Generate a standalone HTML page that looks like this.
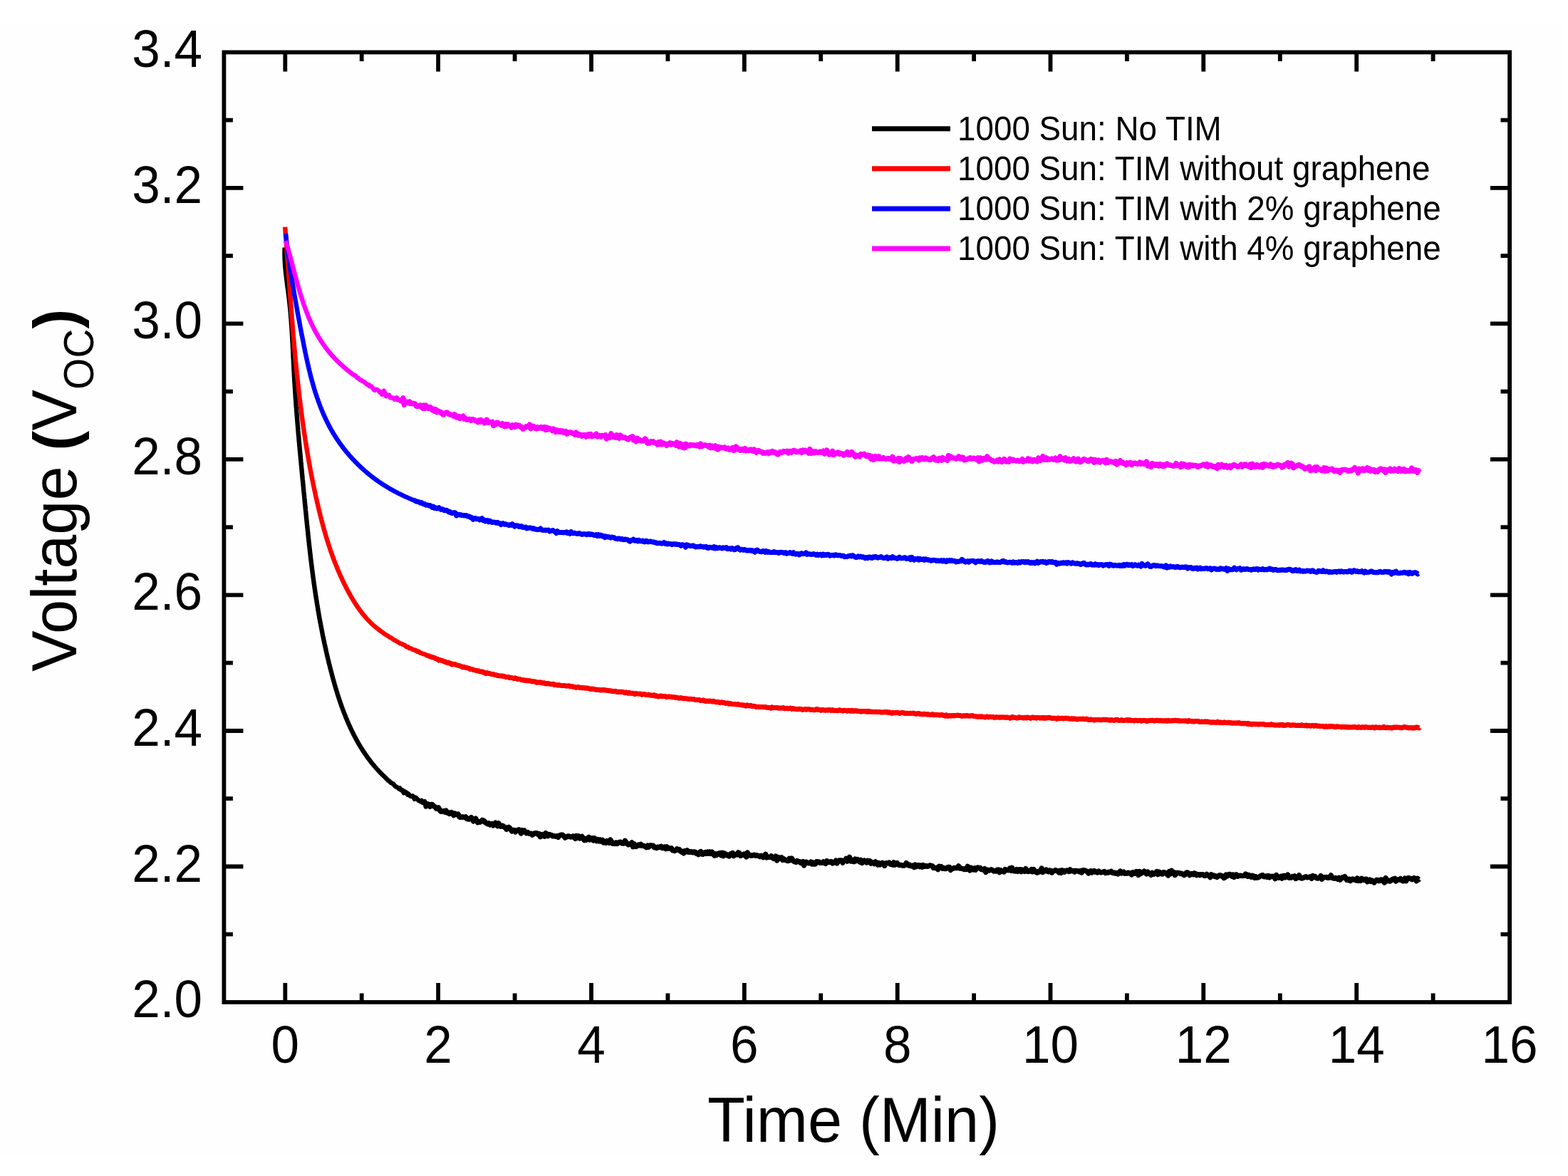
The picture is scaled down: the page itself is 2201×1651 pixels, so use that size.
<!DOCTYPE html>
<html><head><meta charset="utf-8"><style>
html,body{margin:0;padding:0;background:#fff;}
svg{display:block;}
text{font-family:"Liberation Sans",Arial,sans-serif;fill:#000;}
.yl{font-size:71px;text-anchor:end;}
.xl{font-size:71px;text-anchor:middle;}
.leg{font-size:45.8px;}
.tt{font-size:86.5px;}
</style></head><body>
<svg width="2201" height="1651" viewBox="0 0 2201 1651">
<rect width="2201" height="1651" fill="#fff"/>
<rect x="0" y="33" width="2197" height="1591" fill="#fefefe"/>
<g fill="none" stroke-linejoin="round" stroke-linecap="butt" stroke-width="6.4">
<path d="M399.6,347.5 L399.6,349.1 L399.5,350.7 L399.5,352.3 L399.5,353.9 L399.5,355.5 L399.5,357.1 L399.5,358.7 L399.5,360.3 L399.6,361.9 L399.6,363.5 L399.7,365.1 L399.8,366.7 L399.9,368.3 L400.0,369.9 L400.1,371.5 L400.2,373.1 L400.3,374.7 L400.5,376.2 L400.6,377.8 L400.8,379.4 L400.9,381.0 L401.1,382.6 L401.3,384.2 L401.5,385.8 L401.6,387.4 L401.8,389.0 L402.0,390.6 L402.2,392.2 L402.4,393.7 L402.6,395.3 L402.8,396.9 L403.0,398.5 L403.2,400.1 L403.4,401.7 L403.6,403.3 L403.9,404.8 L404.1,406.4 L404.3,408.0 L404.5,409.6 L404.7,411.2 L404.9,412.8 L405.1,414.4 L405.3,416.0 L405.5,417.5 L405.7,419.1 L405.9,420.7 L406.0,422.3 L406.2,423.9 L406.4,425.5 L406.6,427.1 L406.7,428.7 L406.9,430.3 L407.1,431.9 L407.2,433.5 L407.4,435.0 L407.5,436.6 L407.7,438.2 L407.8,439.8 L407.9,441.4 L408.1,443.0 L408.2,444.6 L408.3,446.2 L408.5,447.8 L408.6,449.4 L408.7,451.0 L408.8,452.6 L408.9,454.2 L409.0,455.8 L409.2,457.4 L409.3,459.0 L409.4,460.6 L409.5,462.2 L409.6,463.8 L409.7,465.4 L409.8,467.0 L409.9,468.5 L410.0,470.1 L410.1,471.7 L410.2,473.3 L410.2,474.9 L410.3,476.5 L410.4,478.1 L410.5,479.7 L410.6,481.3 L410.7,482.9 L410.8,484.5 L410.8,486.1 L410.9,487.7 L411.0,489.3 L411.1,490.9 L411.2,492.5 L411.2,494.1 L411.3,495.7 L411.4,497.3 L411.5,498.9 L411.5,500.5 L411.6,502.1 L411.7,503.7 L411.8,505.3 L411.9,506.9 L411.9,508.5 L412.0,510.1 L412.1,511.7 L412.2,513.3 L412.3,514.9 L412.3,516.5 L412.4,518.1 L412.5,519.7 L412.6,521.3 L412.7,522.9 L412.8,524.5 L412.8,526.1 L412.9,527.7 L413.0,529.3 L413.1,530.9 L413.2,532.5 L413.3,534.1 L413.4,535.7 L413.5,537.3 L413.6,538.8 L413.7,540.4 L413.8,542.0 L413.9,543.6 L414.0,545.2 L414.1,546.8 L414.2,548.4 L414.3,550.0 L414.4,551.6 L414.5,553.2 L414.6,554.8 L414.7,556.4 L414.8,558.0 L414.9,559.6 L415.1,561.2 L415.2,562.8 L415.3,564.4 L415.4,566.0 L415.5,567.6 L415.6,569.2 L415.7,570.8 L415.9,572.4 L416.0,574.0 L416.1,575.6 L416.2,577.2 L416.4,578.8 L416.5,580.3 L416.6,581.9 L416.7,583.5 L416.9,585.1 L417.0,586.7 L417.1,588.3 L417.2,589.9 L417.4,591.5 L417.5,593.1 L417.6,594.7 L417.8,596.3 L417.9,597.9 L418.0,599.5 L418.2,601.1 L418.3,602.7 L418.4,604.3 L418.6,605.9 L418.7,607.5 L418.8,609.1 L419.0,610.6 L419.1,612.2 L419.3,613.8 L419.4,615.4 L419.5,617.0 L419.7,618.6 L419.8,620.2 L420.0,621.8 L420.1,623.4 L420.2,625.0 L420.4,626.6 L420.5,628.2 L420.7,629.8 L420.8,631.4 L421.0,633.0 L421.1,634.5 L421.3,636.1 L421.4,637.7 L421.6,639.3 L421.7,640.9 L421.9,642.5 L422.0,644.1 L422.2,645.7 L422.3,647.3 L422.5,648.9 L422.6,650.5 L422.8,652.1 L422.9,653.7 L423.1,655.3 L423.2,656.9 L423.4,658.4 L423.5,660.0 L423.7,661.6 L423.8,663.2 L424.0,664.8 L424.1,666.4 L424.3,668.0 L424.4,669.6 L424.6,671.2 L424.7,672.8 L424.9,674.4 L425.1,676.0 L425.2,677.6 L425.4,679.1 L425.5,680.7 L425.7,682.3 L425.8,683.9 L426.0,685.5 L426.1,687.1 L426.3,688.7 L426.4,690.3 L426.6,691.9 L426.8,693.5 L426.9,695.1 L427.1,696.7 L427.2,698.3 L427.4,699.9 L427.5,701.4 L427.7,703.0 L427.8,704.6 L428.0,706.2 L428.2,707.8 L428.3,709.4 L428.5,711.0 L428.6,712.6 L428.8,714.2 L428.9,715.8 L429.1,717.4 L429.3,719.0 L429.4,720.6 L429.6,722.1 L429.7,723.7 L429.9,725.3 L430.0,726.9 L430.2,728.5 L430.4,730.1 L430.5,731.7 L430.7,733.3 L430.8,734.9 L431.0,736.5 L431.2,738.1 L431.3,739.7 L431.5,741.2 L431.7,742.8 L431.8,744.4 L432.0,746.0 L432.2,747.6 L432.3,749.2 L432.5,750.8 L432.7,752.4 L432.8,754.0 L433.0,755.6 L433.2,757.2 L433.3,758.7 L433.5,760.3 L433.7,761.9 L433.9,763.5 L434.0,765.1 L434.2,766.7 L434.4,768.3 L434.6,769.9 L434.8,771.5 L434.9,773.1 L435.1,774.7 L435.3,776.2 L435.5,777.8 L435.7,779.4 L435.9,781.0 L436.0,782.6 L436.2,784.2 L436.4,785.8 L436.6,787.4 L436.8,789.0 L437.0,790.5 L437.2,792.1 L437.4,793.7 L437.6,795.3 L437.8,796.9 L438.0,798.5 L438.2,800.1 L438.4,801.7 L438.6,803.2 L438.8,804.8 L439.0,806.4 L439.2,808.0 L439.4,809.6 L439.6,811.2 L439.9,812.8 L440.1,814.3 L440.3,815.9 L440.5,817.5 L440.7,819.1 L441.0,820.7 L441.2,822.3 L441.4,823.8 L441.6,825.4 L441.9,827.0 L442.1,828.6 L442.3,830.2 L442.6,831.8 L442.8,833.3 L443.0,834.9 L443.3,836.5 L443.5,838.1 L443.8,839.7 L444.0,841.3 L444.3,842.8 L444.5,844.4 L444.8,846.0 L445.0,847.6 L445.3,849.2 L445.5,850.7 L445.8,852.3 L446.1,853.9 L446.3,855.5 L446.6,857.0 L446.9,858.6 L447.1,860.2 L447.4,861.8 L447.7,863.4 L448.0,864.9 L448.2,866.5 L448.5,868.1 L448.8,869.7 L449.1,871.2 L449.4,872.8 L449.7,874.4 L450.0,875.9 L450.3,877.5 L450.6,879.1 L450.9,880.7 L451.2,882.2 L451.5,883.8 L451.8,885.4 L452.1,886.9 L452.4,888.5 L452.7,890.1 L453.0,891.7 L453.3,893.2 L453.7,894.8 L454.0,896.4 L454.3,897.9 L454.6,899.5 L455.0,901.1 L455.3,902.6 L455.6,904.2 L456.0,905.7 L456.3,907.3 L456.7,908.9 L457.0,910.4 L457.4,912.0 L457.7,913.6 L458.1,915.1 L458.4,916.7 L458.8,918.2 L459.1,919.8 L459.5,921.4 L459.9,922.9 L460.2,924.5 L460.6,926.0 L461.0,927.6 L461.4,929.1 L461.7,930.7 L462.1,932.2 L462.5,933.8 L462.9,935.3 L463.3,936.9 L463.7,938.4 L464.1,940.0 L464.5,941.5 L464.9,943.1 L465.3,944.6 L465.7,946.2 L466.1,947.7 L466.5,949.3 L466.9,950.8 L467.3,952.4 L467.8,953.9 L468.2,955.5 L468.6,957.0 L469.1,958.5 L469.5,960.1 L469.9,961.6 L470.4,963.2 L470.8,964.7 L471.3,966.2 L471.7,967.8 L472.2,969.3 L472.7,970.8 L473.2,972.3 L473.6,973.9 L474.1,975.4 L474.6,976.9 L475.1,978.4 L475.6,980.0 L476.1,981.5 L476.6,983.0 L477.1,984.5 L477.6,986.0 L478.1,987.5 L478.7,989.1 L479.2,990.6 L479.7,992.1 L480.3,993.6 L480.8,995.1 L481.4,996.6 L481.9,998.1 L482.5,999.6 L483.1,1001.1 L483.7,1002.6 L484.3,1004.0 L484.8,1005.5 L485.4,1007.0 L486.1,1008.5 L486.7,1010.0 L487.3,1011.5 L487.9,1012.9 L488.5,1014.4 L489.2,1015.9 L489.8,1017.3 L490.5,1018.8 L491.2,1020.2 L491.8,1021.7 L492.5,1023.1 L493.2,1024.6 L493.9,1026.0 L494.6,1027.5 L495.3,1028.9 L496.0,1030.3 L496.7,1031.8 L497.5,1033.2 L498.2,1034.6 L499.0,1036.0 L499.7,1037.4 L500.5,1038.8 L501.3,1040.2 L502.0,1041.6 L502.8,1043.0 L503.6,1044.4 L504.4,1045.8 L505.3,1047.1 L506.1,1048.5 L506.9,1049.9 L507.8,1051.2 L508.6,1052.6 L509.5,1053.9 L510.4,1055.3 L511.3,1056.6 L512.2,1057.9 L513.1,1059.3 L514.0,1060.6 L514.9,1061.9 L515.8,1063.2 L516.8,1064.5 L517.7,1065.7 L518.7,1067.0 L519.7,1068.3 L520.6,1069.6 L521.6,1070.8 L522.6,1072.1 L523.7,1073.3 L524.7,1074.5 L525.7,1075.7 L526.8,1077.0 L527.8,1078.2 L528.9,1079.4 L530.0,1080.5 L531.0,1081.7 L532.1,1082.9 L533.2,1084.0 L534.4,1085.2 L535.5,1086.3 L536.6,1087.5 L537.8,1088.6 L538.9,1089.7 L540.1,1090.8 L541.3,1092.0 L542.4,1093.2 L543.6,1094.2 L544.8,1095.8 L546.1,1096.2 L547.3,1097.6 L548.5,1098.8 L549.8,1099.3 L551.0,1100.0 L552.3,1100.8 L553.5,1102.4 L554.8,1103.9 L556.1,1104.4 L557.4,1105.3 L558.7,1105.9 L560.0,1107.4 L561.3,1106.5 L562.7,1109.0 L564.0,1109.7 L565.3,1109.5 L566.7,1113.2 L568.0,1111.1 L569.4,1112.2 L570.8,1112.8 L572.1,1115.7 L573.5,1114.7 L574.9,1116.9 L576.3,1117.7 L577.7,1118.1 L579.1,1117.3 L580.5,1118.7 L581.9,1121.9 L583.3,1119.5 L584.7,1120.7 L586.1,1122.1 L587.6,1124.0 L589.0,1124.0 L590.4,1125.3 L591.9,1123.9 L593.3,1127.0 L594.8,1127.2 L596.3,1125.2 L597.7,1132.6 L599.2,1131.5 L600.6,1128.3 L602.1,1130.0 L603.6,1132.4 L605.1,1129.3 L606.6,1129.3 L608.1,1130.8 L609.5,1132.4 L611.0,1133.0 L612.5,1135.2 L614.0,1135.3 L615.5,1133.9 L617.1,1136.9 L618.6,1139.2 L620.1,1138.9 L621.6,1139.2 L623.1,1138.5 L624.6,1140.2 L626.2,1138.2 L627.7,1141.0 L629.2,1140.4 L630.7,1142.5 L632.3,1142.2 L633.8,1140.6 L635.3,1142.7 L636.9,1144.6 L638.4,1142.0 L639.9,1143.2 L641.5,1143.4 L643.0,1142.9 L644.6,1146.5 L646.1,1147.4 L647.6,1147.2 L649.2,1146.9 L650.7,1146.9 L652.3,1147.7 L653.8,1146.8 L655.3,1149.4 L656.9,1150.0 L658.4,1150.2 L660.0,1148.7 L661.5,1147.6 L663.0,1150.0 L664.6,1152.9 L666.1,1151.2 L667.6,1149.0 L669.2,1152.3 L670.7,1154.7 L672.3,1153.5 L673.8,1154.2 L675.3,1153.5 L676.9,1151.3 L678.4,1151.9 L680.0,1153.0 L681.5,1154.9 L683.0,1155.8 L684.6,1156.7 L686.1,1155.8 L687.7,1157.9 L689.2,1156.7 L690.7,1156.5 L692.3,1158.9 L693.8,1157.0 L695.4,1155.1 L696.9,1157.7 L698.5,1159.6 L700.0,1155.8 L701.6,1159.8 L703.1,1160.2 L704.7,1159.2 L706.2,1159.5 L707.8,1161.2 L709.4,1161.5 L710.9,1164.2 L712.5,1163.4 L714.1,1161.3 L715.6,1162.6 L717.2,1165.0 L718.7,1166.9 L720.3,1165.3 L721.9,1165.6 L723.5,1167.9 L725.0,1165.8 L726.6,1165.8 L728.2,1164.7 L729.8,1166.2 L731.3,1170.0 L732.9,1165.6 L734.5,1167.8 L736.1,1166.2 L737.6,1168.5 L739.2,1169.8 L740.8,1168.6 L742.4,1170.1 L744.0,1170.3 L745.5,1170.2 L747.1,1172.1 L748.7,1171.1 L750.3,1169.9 L751.9,1169.6 L753.5,1169.6 L755.1,1171.5 L756.6,1170.6 L758.2,1174.8 L759.8,1173.8 L761.4,1171.3 L763.0,1171.3 L764.6,1174.1 L766.2,1169.6 L767.7,1171.6 L769.3,1173.6 L770.9,1171.4 L772.5,1172.1 L774.1,1172.4 L775.7,1173.9 L777.3,1173.4 L778.9,1173.9 L780.4,1174.3 L782.0,1173.7 L783.6,1175.3 L785.2,1173.1 L786.8,1172.3 L788.4,1172.0 L790.0,1172.4 L791.6,1173.9 L793.2,1176.1 L794.7,1175.2 L796.3,1174.3 L797.9,1173.8 L799.5,1174.7 L801.1,1175.0 L802.7,1174.9 L804.3,1173.9 L805.9,1175.3 L807.5,1177.4 L809.0,1173.4 L810.6,1176.1 L812.2,1173.8 L813.8,1176.9 L815.4,1175.9 L817.0,1174.3 L818.6,1177.3 L820.2,1179.7 L821.8,1177.7 L823.4,1179.2 L824.9,1177.8 L826.5,1175.3 L828.1,1178.9 L829.7,1177.9 L831.3,1176.8 L832.9,1179.9 L834.5,1176.7 L836.1,1178.6 L837.7,1180.7 L839.2,1178.7 L840.8,1180.9 L842.4,1179.0 L844.0,1181.2 L845.6,1179.3 L847.2,1182.9 L848.8,1181.6 L850.4,1183.3 L852.0,1180.6 L853.6,1181.3 L855.1,1183.3 L856.7,1178.9 L858.3,1181.3 L859.9,1184.2 L861.5,1183.7 L863.1,1184.6 L864.7,1183.1 L866.3,1184.5 L867.9,1183.0 L869.4,1182.4 L871.0,1182.1 L872.6,1183.8 L874.2,1184.0 L875.8,1184.0 L877.4,1180.4 L879.0,1182.6 L880.6,1184.7 L882.1,1185.9 L883.7,1184.9 L885.3,1184.6 L886.9,1182.9 L888.5,1188.7 L890.1,1184.7 L891.7,1188.5 L893.3,1188.4 L894.8,1186.9 L896.4,1185.9 L898.0,1186.9 L899.6,1185.4 L901.2,1187.3 L902.8,1187.1 L904.4,1187.9 L905.9,1188.6 L907.5,1189.7 L909.1,1187.1 L910.7,1189.1 L912.3,1186.9 L913.9,1186.9 L915.5,1187.4 L917.0,1187.1 L918.6,1189.8 L920.2,1189.9 L921.8,1190.6 L923.4,1189.1 L925.0,1189.7 L926.5,1188.8 L928.1,1188.3 L929.7,1190.7 L931.3,1190.7 L932.9,1189.2 L934.5,1191.6 L936.1,1188.9 L937.6,1191.2 L939.2,1190.9 L940.8,1191.3 L942.4,1190.8 L944.0,1193.8 L945.6,1193.6 L947.1,1194.6 L948.7,1193.5 L950.3,1191.9 L951.9,1193.4 L953.5,1192.6 L955.1,1195.0 L956.7,1196.2 L958.2,1195.3 L959.8,1197.8 L961.4,1194.9 L963.0,1195.8 L964.6,1193.9 L966.2,1196.2 L967.8,1196.4 L969.4,1195.6 L971.0,1196.0 L972.5,1196.9 L974.1,1195.8 L975.7,1196.0 L977.3,1198.2 L978.9,1197.6 L980.5,1199.7 L982.1,1196.4 L983.7,1195.5 L985.3,1199.1 L986.9,1199.3 L988.5,1197.2 L990.1,1196.4 L991.7,1198.3 L993.2,1196.2 L994.8,1198.2 L996.4,1195.9 L998.0,1198.5 L999.6,1196.2 L1001.2,1198.7 L1002.8,1201.1 L1004.4,1198.8 L1006.0,1200.3 L1007.6,1198.5 L1009.2,1198.2 L1010.8,1197.5 L1012.4,1200.8 L1014.0,1197.2 L1015.6,1201.7 L1017.2,1198.1 L1018.8,1199.4 L1020.4,1199.8 L1022.0,1201.6 L1023.6,1202.1 L1025.2,1198.9 L1026.8,1198.4 L1028.4,1197.6 L1030.0,1201.6 L1031.6,1199.8 L1033.2,1199.1 L1034.8,1199.9 L1036.4,1196.7 L1038.0,1197.9 L1039.6,1201.4 L1041.2,1200.7 L1042.8,1200.5 L1044.4,1199.1 L1046.0,1201.2 L1047.6,1202.8 L1049.2,1196.9 L1050.8,1200.7 L1052.4,1200.2 L1054.0,1201.4 L1055.6,1201.0 L1057.2,1200.9 L1058.8,1200.1 L1060.4,1201.3 L1062.0,1200.7 L1063.6,1201.4 L1065.2,1201.7 L1066.8,1202.7 L1068.4,1201.3 L1070.0,1201.7 L1071.6,1203.7 L1073.1,1202.2 L1074.7,1199.2 L1076.3,1203.9 L1077.9,1203.3 L1079.5,1203.2 L1081.1,1203.5 L1082.7,1201.8 L1084.3,1204.2 L1085.9,1205.5 L1087.5,1204.8 L1089.0,1202.2 L1090.6,1208.0 L1092.2,1203.5 L1093.8,1204.6 L1095.4,1205.3 L1097.0,1203.8 L1098.5,1207.4 L1100.1,1205.8 L1101.7,1207.2 L1103.3,1207.3 L1104.8,1208.5 L1106.4,1208.5 L1108.0,1205.3 L1109.6,1207.6 L1111.2,1205.0 L1112.7,1207.5 L1114.3,1209.2 L1115.9,1209.8 L1117.5,1210.5 L1119.1,1208.6 L1120.7,1209.7 L1122.3,1209.6 L1123.8,1211.3 L1125.4,1211.9 L1127.0,1209.6 L1128.6,1215.1 L1130.2,1210.4 L1131.8,1210.1 L1133.4,1211.4 L1135.0,1211.8 L1136.6,1211.6 L1138.2,1210.1 L1139.8,1213.0 L1141.4,1211.2 L1143.0,1213.2 L1144.6,1213.0 L1146.2,1209.6 L1147.8,1209.9 L1149.4,1209.9 L1151.0,1211.4 L1152.6,1211.1 L1154.2,1211.3 L1155.8,1209.8 L1157.4,1211.3 L1159.0,1212.4 L1160.6,1208.7 L1162.1,1210.1 L1163.7,1210.5 L1165.3,1209.9 L1166.9,1209.6 L1168.5,1212.0 L1170.1,1211.2 L1171.7,1210.5 L1173.3,1208.2 L1174.9,1212.0 L1176.5,1209.4 L1178.1,1208.0 L1179.7,1208.2 L1181.3,1207.9 L1182.9,1211.2 L1184.5,1208.6 L1186.1,1208.3 L1187.7,1205.4 L1189.3,1209.1 L1190.9,1206.8 L1192.5,1203.3 L1194.1,1209.0 L1195.6,1207.1 L1197.2,1209.4 L1198.8,1209.8 L1200.4,1206.1 L1202.0,1208.4 L1203.6,1206.6 L1205.2,1208.7 L1206.8,1210.1 L1208.4,1207.3 L1210.0,1211.6 L1211.6,1209.0 L1213.1,1208.1 L1214.7,1209.6 L1216.3,1211.0 L1217.9,1208.4 L1219.5,1210.4 L1221.1,1208.8 L1222.7,1212.3 L1224.3,1211.1 L1225.8,1210.6 L1227.4,1212.6 L1229.0,1209.8 L1230.6,1211.1 L1232.2,1214.1 L1233.8,1211.7 L1235.4,1213.8 L1237.0,1212.4 L1238.6,1211.3 L1240.2,1212.0 L1241.7,1215.5 L1243.3,1212.0 L1244.9,1211.6 L1246.5,1211.7 L1248.1,1210.9 L1249.7,1213.1 L1251.3,1213.5 L1252.9,1214.1 L1254.5,1210.8 L1256.1,1214.3 L1257.7,1213.3 L1259.3,1211.6 L1260.9,1213.7 L1262.5,1214.7 L1264.1,1214.4 L1265.7,1214.8 L1267.3,1215.2 L1268.9,1215.2 L1270.5,1214.1 L1272.1,1211.6 L1273.6,1213.4 L1275.2,1215.0 L1276.8,1214.1 L1278.4,1215.7 L1280.0,1216.0 L1281.6,1215.1 L1283.2,1217.6 L1284.8,1214.0 L1286.4,1216.7 L1288.0,1215.0 L1289.6,1214.7 L1291.2,1216.6 L1292.8,1215.2 L1294.4,1217.2 L1296.0,1214.7 L1297.6,1216.4 L1299.2,1215.4 L1300.8,1216.3 L1302.4,1216.3 L1304.0,1215.4 L1305.6,1214.9 L1307.2,1215.5 L1308.8,1215.9 L1310.4,1218.5 L1312.0,1218.7 L1313.5,1218.4 L1315.1,1218.1 L1316.7,1220.7 L1318.3,1216.3 L1319.9,1217.0 L1321.5,1216.7 L1323.1,1219.3 L1324.7,1218.6 L1326.3,1219.7 L1327.9,1219.6 L1329.5,1218.1 L1331.1,1217.4 L1332.7,1217.3 L1334.3,1221.5 L1335.9,1219.9 L1337.5,1219.5 L1339.1,1218.4 L1340.7,1218.6 L1342.3,1218.5 L1343.9,1218.6 L1345.5,1215.9 L1347.1,1219.0 L1348.7,1218.7 L1350.3,1219.6 L1351.9,1219.6 L1353.5,1220.5 L1355.1,1219.4 L1356.7,1220.5 L1358.3,1216.3 L1359.9,1218.2 L1361.5,1222.0 L1363.1,1218.2 L1364.7,1219.6 L1366.3,1220.9 L1367.9,1219.0 L1369.5,1221.2 L1371.1,1218.5 L1372.7,1217.9 L1374.3,1218.8 L1375.9,1218.5 L1377.5,1220.7 L1379.1,1220.4 L1380.7,1221.4 L1382.2,1219.7 L1383.8,1224.5 L1385.4,1221.1 L1387.0,1221.3 L1388.6,1222.1 L1390.2,1221.2 L1391.8,1220.8 L1393.4,1221.8 L1395.0,1223.0 L1396.6,1222.7 L1398.2,1223.1 L1399.8,1221.2 L1401.4,1221.0 L1403.0,1224.7 L1404.6,1221.8 L1406.2,1222.8 L1407.8,1223.1 L1409.4,1224.0 L1411.0,1220.5 L1412.6,1221.6 L1414.2,1221.7 L1415.8,1221.8 L1417.4,1219.1 L1419.0,1222.1 L1420.6,1218.4 L1422.2,1222.6 L1423.8,1222.9 L1425.4,1223.0 L1427.0,1220.6 L1428.6,1223.4 L1430.2,1221.1 L1431.8,1220.6 L1433.4,1223.7 L1435.0,1221.2 L1436.6,1222.5 L1438.2,1223.4 L1439.8,1219.6 L1441.4,1221.7 L1443.0,1223.6 L1444.6,1222.7 L1446.2,1223.1 L1447.8,1220.6 L1449.4,1223.8 L1451.0,1220.6 L1452.6,1222.9 L1454.2,1224.5 L1455.8,1225.2 L1457.4,1223.5 L1459.0,1224.0 L1460.6,1222.1 L1462.2,1219.0 L1463.8,1224.5 L1465.4,1223.0 L1467.0,1222.8 L1468.6,1221.2 L1470.2,1223.2 L1471.8,1223.9 L1473.4,1222.0 L1475.0,1222.4 L1476.6,1225.1 L1478.2,1223.3 L1479.8,1222.7 L1481.4,1221.6 L1483.0,1222.3 L1484.6,1222.8 L1486.2,1224.9 L1487.8,1222.3 L1489.4,1225.4 L1491.0,1221.9 L1492.6,1222.6 L1494.2,1224.2 L1495.8,1222.7 L1497.4,1222.0 L1499.0,1222.9 L1500.6,1223.6 L1502.2,1220.8 L1503.8,1222.7 L1505.4,1222.9 L1507.0,1222.5 L1508.6,1224.0 L1510.2,1222.3 L1511.8,1222.5 L1513.4,1223.0 L1515.0,1223.9 L1516.6,1222.7 L1518.2,1225.0 L1519.8,1221.8 L1521.4,1221.8 L1523.0,1222.0 L1524.6,1222.9 L1526.2,1223.6 L1527.8,1225.9 L1529.4,1224.4 L1531.0,1222.8 L1532.6,1225.1 L1534.2,1223.2 L1535.8,1222.5 L1537.4,1224.2 L1539.0,1223.8 L1540.6,1225.0 L1542.2,1223.1 L1543.8,1224.4 L1545.4,1224.9 L1547.0,1224.5 L1548.6,1224.2 L1550.2,1223.4 L1551.8,1225.6 L1553.4,1224.7 L1555.0,1225.2 L1556.6,1224.2 L1558.2,1224.7 L1559.8,1223.4 L1561.4,1225.0 L1563.0,1225.9 L1564.6,1225.1 L1566.2,1226.2 L1567.8,1225.5 L1569.3,1226.9 L1570.9,1225.0 L1572.5,1223.1 L1574.1,1225.9 L1575.7,1225.1 L1577.3,1224.1 L1578.9,1226.3 L1580.5,1225.8 L1582.1,1226.1 L1583.7,1225.1 L1585.3,1225.8 L1586.9,1225.9 L1588.5,1227.9 L1590.1,1224.8 L1591.7,1225.7 L1593.3,1226.2 L1594.9,1223.5 L1596.5,1223.7 L1598.1,1228.6 L1599.7,1223.5 L1601.3,1226.5 L1602.9,1224.7 L1604.5,1224.8 L1606.1,1223.2 L1607.7,1224.6 L1609.3,1226.8 L1610.9,1224.0 L1612.5,1226.6 L1614.1,1226.2 L1615.7,1228.4 L1617.3,1225.2 L1618.9,1227.4 L1620.5,1226.9 L1622.1,1225.4 L1623.7,1223.6 L1625.3,1227.7 L1626.9,1224.0 L1628.5,1225.1 L1630.1,1226.9 L1631.7,1227.2 L1633.3,1224.6 L1634.9,1225.7 L1636.5,1225.4 L1638.1,1227.3 L1639.7,1229.0 L1641.3,1223.4 L1642.9,1227.0 L1644.5,1222.2 L1646.1,1225.9 L1647.7,1224.5 L1649.3,1228.6 L1650.9,1226.3 L1652.5,1225.2 L1654.1,1225.6 L1655.7,1225.6 L1657.3,1226.7 L1658.9,1226.3 L1660.5,1227.5 L1662.1,1228.7 L1663.7,1227.7 L1665.2,1225.3 L1666.8,1224.9 L1668.4,1226.2 L1670.0,1228.7 L1671.6,1227.0 L1673.2,1226.7 L1674.8,1227.8 L1676.4,1225.9 L1678.0,1226.4 L1679.6,1228.7 L1681.2,1227.8 L1682.8,1227.7 L1684.4,1228.8 L1686.0,1227.7 L1687.6,1227.7 L1689.2,1228.1 L1690.8,1229.6 L1692.4,1229.0 L1694.0,1227.4 L1695.6,1228.7 L1697.2,1230.0 L1698.8,1231.6 L1700.4,1227.8 L1702.0,1229.8 L1703.6,1229.0 L1705.2,1230.5 L1706.8,1230.0 L1708.4,1231.4 L1710.0,1230.2 L1711.6,1228.8 L1713.2,1228.8 L1714.8,1230.1 L1716.4,1230.0 L1718.0,1232.6 L1719.6,1231.7 L1721.2,1228.0 L1722.8,1229.9 L1724.4,1227.7 L1726.0,1227.3 L1727.6,1228.0 L1729.2,1230.2 L1730.8,1228.1 L1732.4,1231.5 L1734.0,1228.1 L1735.6,1227.9 L1737.2,1230.2 L1738.8,1229.7 L1740.4,1229.2 L1742.0,1229.3 L1743.6,1229.7 L1745.2,1229.3 L1746.8,1229.3 L1748.4,1227.1 L1750.0,1227.8 L1751.6,1230.4 L1753.2,1228.7 L1754.8,1230.4 L1756.4,1231.3 L1758.0,1229.3 L1759.6,1230.1 L1761.2,1232.5 L1762.8,1230.8 L1764.4,1232.3 L1766.0,1231.9 L1767.6,1231.0 L1769.2,1229.9 L1770.8,1229.0 L1772.4,1228.7 L1774.0,1230.8 L1775.6,1230.8 L1777.2,1230.0 L1778.8,1231.4 L1780.4,1229.5 L1782.0,1231.8 L1783.6,1230.4 L1785.2,1230.4 L1786.8,1230.5 L1788.4,1230.4 L1790.0,1233.8 L1791.6,1228.5 L1793.2,1230.9 L1794.8,1232.3 L1796.4,1231.7 L1798.0,1230.4 L1799.6,1233.1 L1801.2,1229.6 L1802.8,1229.3 L1804.4,1231.8 L1806.0,1229.2 L1807.6,1228.1 L1809.2,1232.3 L1810.8,1232.2 L1812.4,1232.2 L1814.0,1230.6 L1815.6,1231.5 L1817.2,1230.0 L1818.8,1233.5 L1820.4,1232.3 L1822.0,1232.2 L1823.6,1228.7 L1825.2,1232.3 L1826.8,1233.1 L1828.4,1232.8 L1830.0,1232.2 L1831.6,1231.2 L1833.2,1230.7 L1834.8,1231.9 L1836.4,1231.6 L1838.0,1231.4 L1839.6,1230.7 L1841.2,1233.3 L1842.8,1229.6 L1844.4,1231.1 L1846.0,1230.4 L1847.6,1232.6 L1849.2,1233.1 L1850.8,1232.9 L1852.4,1232.3 L1854.0,1229.6 L1855.6,1234.2 L1857.2,1232.2 L1858.8,1231.5 L1860.4,1231.7 L1862.0,1231.4 L1863.6,1232.4 L1865.2,1232.4 L1866.8,1231.6 L1868.3,1228.9 L1869.9,1232.3 L1871.5,1233.0 L1873.1,1233.2 L1874.7,1232.5 L1876.3,1233.4 L1877.9,1234.3 L1879.5,1232.4 L1881.1,1235.1 L1882.7,1233.3 L1884.3,1231.8 L1885.9,1232.4 L1887.5,1230.5 L1889.1,1232.5 L1890.7,1235.6 L1892.3,1235.7 L1893.9,1234.3 L1895.5,1236.6 L1897.1,1234.8 L1898.7,1233.9 L1900.3,1235.0 L1901.9,1234.6 L1903.4,1235.8 L1905.0,1233.0 L1906.6,1236.4 L1908.2,1234.6 L1909.8,1236.4 L1911.4,1233.3 L1913.0,1234.9 L1914.6,1235.6 L1916.2,1234.3 L1917.8,1234.1 L1919.4,1237.9 L1921.0,1236.4 L1922.6,1235.1 L1924.2,1237.5 L1925.8,1236.1 L1927.4,1237.5 L1929.0,1239.0 L1930.6,1237.0 L1932.2,1235.4 L1933.8,1235.5 L1935.4,1236.8 L1937.0,1236.5 L1938.6,1235.0 L1940.2,1235.2 L1941.8,1236.9 L1943.4,1239.1 L1945.0,1232.6 L1946.6,1236.9 L1948.2,1235.7 L1949.8,1237.0 L1951.4,1237.0 L1953.0,1235.9 L1954.6,1234.5 L1956.2,1233.9 L1957.8,1233.3 L1959.4,1237.2 L1961.0,1235.3 L1962.6,1234.8 L1964.2,1235.1 L1965.8,1233.7 L1967.4,1235.7 L1969.0,1237.0 L1970.6,1236.7 L1972.2,1233.1 L1973.8,1236.8 L1975.4,1234.0 L1977.0,1232.4 L1978.6,1233.2 L1980.2,1233.5 L1981.8,1234.7 L1983.4,1233.3 L1985.0,1232.6 L1986.6,1234.1 L1988.2,1236.8 L1989.8,1233.3 L1991.4,1234.8 L1991.8,1234.3" stroke="#000"/>
<path d="M600.6,1128.3 L602.1,1130.0 L603.6,1132.4 L605.1,1129.3 L606.6,1129.3 L608.1,1130.8 L609.5,1132.4 L611.0,1133.0 L612.5,1135.2 L614.0,1135.3 L615.5,1133.9 L617.1,1136.9 L618.6,1139.2 L620.1,1138.9 L621.6,1139.2 L623.1,1138.5 L624.6,1140.2 L626.2,1138.2 L627.7,1141.0 L629.2,1140.4 L630.7,1142.5 L632.3,1142.2 L633.8,1140.6 L635.3,1142.7 L636.9,1144.6 L638.4,1142.0 L639.9,1143.2 L641.5,1143.4 L643.0,1142.9 L644.6,1146.5 L646.1,1147.4 L647.6,1147.2 L649.2,1146.9 L650.7,1146.9 L652.3,1147.7 L653.8,1146.8 L655.3,1149.4 L656.9,1150.0 L658.4,1150.2 L660.0,1148.7 L661.5,1147.6 L663.0,1150.0 L664.6,1152.9 L666.1,1151.2 L667.6,1149.0 L669.2,1152.3 L670.7,1154.7 L672.3,1153.5 L673.8,1154.2 L675.3,1153.5 L676.9,1151.3 L678.4,1151.9 L680.0,1153.0 L681.5,1154.9 L683.0,1155.8 L684.6,1156.7 L686.1,1155.8 L687.7,1157.9 L689.2,1156.7 L690.7,1156.5 L692.3,1158.9 L693.8,1157.0 L695.4,1155.1 L696.9,1157.7 L698.5,1159.6 L700.0,1155.8 L701.6,1159.8 L703.1,1160.2 L704.7,1159.2 L706.2,1159.5 L707.8,1161.2 L709.4,1161.5 L710.9,1164.2 L712.5,1163.4 L714.1,1161.3 L715.6,1162.6 L717.2,1165.0 L718.7,1166.9 L720.3,1165.3 L721.9,1165.6 L723.5,1167.9 L725.0,1165.8 L726.6,1165.8 L728.2,1164.7 L729.8,1166.2 L731.3,1170.0 L732.9,1165.6 L734.5,1167.8 L736.1,1166.2 L737.6,1168.5 L739.2,1169.8 L740.8,1168.6 L742.4,1170.1 L744.0,1170.3 L745.5,1170.2 L747.1,1172.1 L748.7,1171.1 L750.3,1169.9 L751.9,1169.6 L753.5,1169.6 L755.1,1171.5 L756.6,1170.6 L758.2,1174.8 L759.8,1173.8 L761.4,1171.3 L763.0,1171.3 L764.6,1174.1 L766.2,1169.6 L767.7,1171.6 L769.3,1173.6 L770.9,1171.4 L772.5,1172.1 L774.1,1172.4 L775.7,1173.9 L777.3,1173.4 L778.9,1173.9 L780.4,1174.3 L782.0,1173.7 L783.6,1175.3 L785.2,1173.1 L786.8,1172.3 L788.4,1172.0 L790.0,1172.4 L791.6,1173.9 L793.2,1176.1 L794.7,1175.2 L796.3,1174.3 L797.9,1173.8 L799.5,1174.7 L801.1,1175.0 L802.7,1174.9 L804.3,1173.9 L805.9,1175.3 L807.5,1177.4 L809.0,1173.4 L810.6,1176.1 L812.2,1173.8 L813.8,1176.9 L815.4,1175.9 L817.0,1174.3 L818.6,1177.3 L820.2,1179.7 L821.8,1177.7 L823.4,1179.2 L824.9,1177.8 L826.5,1175.3 L828.1,1178.9 L829.7,1177.9 L831.3,1176.8 L832.9,1179.9 L834.5,1176.7 L836.1,1178.6 L837.7,1180.7 L839.2,1178.7 L840.8,1180.9 L842.4,1179.0 L844.0,1181.2 L845.6,1179.3 L847.2,1182.9 L848.8,1181.6 L850.4,1183.3 L852.0,1180.6 L853.6,1181.3 L855.1,1183.3 L856.7,1178.9 L858.3,1181.3 L859.9,1184.2 L861.5,1183.7 L863.1,1184.6 L864.7,1183.1 L866.3,1184.5 L867.9,1183.0 L869.4,1182.4 L871.0,1182.1 L872.6,1183.8 L874.2,1184.0 L875.8,1184.0 L877.4,1180.4 L879.0,1182.6 L880.6,1184.7 L882.1,1185.9 L883.7,1184.9 L885.3,1184.6 L886.9,1182.9 L888.5,1188.7 L890.1,1184.7 L891.7,1188.5 L893.3,1188.4 L894.8,1186.9 L896.4,1185.9 L898.0,1186.9 L899.6,1185.4 L901.2,1187.3 L902.8,1187.1 L904.4,1187.9 L905.9,1188.6 L907.5,1189.7 L909.1,1187.1 L910.7,1189.1 L912.3,1186.9 L913.9,1186.9 L915.5,1187.4 L917.0,1187.1 L918.6,1189.8 L920.2,1189.9 L921.8,1190.6 L923.4,1189.1 L925.0,1189.7 L926.5,1188.8 L928.1,1188.3 L929.7,1190.7 L931.3,1190.7 L932.9,1189.2 L934.5,1191.6 L936.1,1188.9 L937.6,1191.2 L939.2,1190.9 L940.8,1191.3 L942.4,1190.8 L944.0,1193.8 L945.6,1193.6 L947.1,1194.6 L948.7,1193.5 L950.3,1191.9 L951.9,1193.4 L953.5,1192.6 L955.1,1195.0 L956.7,1196.2 L958.2,1195.3 L959.8,1197.8 L961.4,1194.9 L963.0,1195.8 L964.6,1193.9 L966.2,1196.2 L967.8,1196.4 L969.4,1195.6 L971.0,1196.0 L972.5,1196.9 L974.1,1195.8 L975.7,1196.0 L977.3,1198.2 L978.9,1197.6 L980.5,1199.7 L982.1,1196.4 L983.7,1195.5 L985.3,1199.1 L986.9,1199.3 L988.5,1197.2 L990.1,1196.4 L991.7,1198.3 L993.2,1196.2 L994.8,1198.2 L996.4,1195.9 L998.0,1198.5 L999.6,1196.2 L1001.2,1198.7 L1002.8,1201.1 L1004.4,1198.8 L1006.0,1200.3 L1007.6,1198.5 L1009.2,1198.2 L1010.8,1197.5 L1012.4,1200.8 L1014.0,1197.2 L1015.6,1201.7 L1017.2,1198.1 L1018.8,1199.4 L1020.4,1199.8 L1022.0,1201.6 L1023.6,1202.1 L1025.2,1198.9 L1026.8,1198.4 L1028.4,1197.6 L1030.0,1201.6 L1031.6,1199.8 L1033.2,1199.1 L1034.8,1199.9 L1036.4,1196.7 L1038.0,1197.9 L1039.6,1201.4 L1041.2,1200.7 L1042.8,1200.5 L1044.4,1199.1 L1046.0,1201.2 L1047.6,1202.8 L1049.2,1196.9 L1050.8,1200.7 L1052.4,1200.2 L1054.0,1201.4 L1055.6,1201.0 L1057.2,1200.9 L1058.8,1200.1 L1060.4,1201.3 L1062.0,1200.7 L1063.6,1201.4 L1065.2,1201.7 L1066.8,1202.7 L1068.4,1201.3 L1070.0,1201.7 L1071.6,1203.7 L1073.1,1202.2 L1074.7,1199.2 L1076.3,1203.9 L1077.9,1203.3 L1079.5,1203.2 L1081.1,1203.5 L1082.7,1201.8 L1084.3,1204.2 L1085.9,1205.5 L1087.5,1204.8 L1089.0,1202.2 L1090.6,1208.0 L1092.2,1203.5 L1093.8,1204.6 L1095.4,1205.3 L1097.0,1203.8 L1098.5,1207.4 L1100.1,1205.8 L1101.7,1207.2 L1103.3,1207.3 L1104.8,1208.5 L1106.4,1208.5 L1108.0,1205.3 L1109.6,1207.6 L1111.2,1205.0 L1112.7,1207.5 L1114.3,1209.2 L1115.9,1209.8 L1117.5,1210.5 L1119.1,1208.6 L1120.7,1209.7 L1122.3,1209.6 L1123.8,1211.3 L1125.4,1211.9 L1127.0,1209.6 L1128.6,1215.1 L1130.2,1210.4 L1131.8,1210.1 L1133.4,1211.4 L1135.0,1211.8 L1136.6,1211.6 L1138.2,1210.1 L1139.8,1213.0 L1141.4,1211.2 L1143.0,1213.2 L1144.6,1213.0 L1146.2,1209.6 L1147.8,1209.9 L1149.4,1209.9 L1151.0,1211.4 L1152.6,1211.1 L1154.2,1211.3 L1155.8,1209.8 L1157.4,1211.3 L1159.0,1212.4 L1160.6,1208.7 L1162.1,1210.1 L1163.7,1210.5 L1165.3,1209.9 L1166.9,1209.6 L1168.5,1212.0 L1170.1,1211.2 L1171.7,1210.5 L1173.3,1208.2 L1174.9,1212.0 L1176.5,1209.4 L1178.1,1208.0 L1179.7,1208.2 L1181.3,1207.9 L1182.9,1211.2 L1184.5,1208.6 L1186.1,1208.3 L1187.7,1205.4 L1189.3,1209.1 L1190.9,1206.8 L1192.5,1203.3 L1194.1,1209.0 L1195.6,1207.1 L1197.2,1209.4 L1198.8,1209.8 L1200.4,1206.1 L1202.0,1208.4 L1203.6,1206.6 L1205.2,1208.7 L1206.8,1210.1 L1208.4,1207.3 L1210.0,1211.6 L1211.6,1209.0 L1213.1,1208.1 L1214.7,1209.6 L1216.3,1211.0 L1217.9,1208.4 L1219.5,1210.4 L1221.1,1208.8 L1222.7,1212.3 L1224.3,1211.1 L1225.8,1210.6 L1227.4,1212.6 L1229.0,1209.8 L1230.6,1211.1 L1232.2,1214.1 L1233.8,1211.7 L1235.4,1213.8 L1237.0,1212.4 L1238.6,1211.3 L1240.2,1212.0 L1241.7,1215.5 L1243.3,1212.0 L1244.9,1211.6 L1246.5,1211.7 L1248.1,1210.9 L1249.7,1213.1 L1251.3,1213.5 L1252.9,1214.1 L1254.5,1210.8 L1256.1,1214.3 L1257.7,1213.3 L1259.3,1211.6 L1260.9,1213.7 L1262.5,1214.7 L1264.1,1214.4 L1265.7,1214.8 L1267.3,1215.2 L1268.9,1215.2 L1270.5,1214.1 L1272.1,1211.6 L1273.6,1213.4 L1275.2,1215.0 L1276.8,1214.1 L1278.4,1215.7 L1280.0,1216.0 L1281.6,1215.1 L1283.2,1217.6 L1284.8,1214.0 L1286.4,1216.7 L1288.0,1215.0 L1289.6,1214.7 L1291.2,1216.6 L1292.8,1215.2 L1294.4,1217.2 L1296.0,1214.7 L1297.6,1216.4 L1299.2,1215.4 L1300.8,1216.3 L1302.4,1216.3 L1304.0,1215.4 L1305.6,1214.9 L1307.2,1215.5 L1308.8,1215.9 L1310.4,1218.5 L1312.0,1218.7 L1313.5,1218.4 L1315.1,1218.1 L1316.7,1220.7 L1318.3,1216.3 L1319.9,1217.0 L1321.5,1216.7 L1323.1,1219.3 L1324.7,1218.6 L1326.3,1219.7 L1327.9,1219.6 L1329.5,1218.1 L1331.1,1217.4 L1332.7,1217.3 L1334.3,1221.5 L1335.9,1219.9 L1337.5,1219.5 L1339.1,1218.4 L1340.7,1218.6 L1342.3,1218.5 L1343.9,1218.6 L1345.5,1215.9 L1347.1,1219.0 L1348.7,1218.7 L1350.3,1219.6 L1351.9,1219.6 L1353.5,1220.5 L1355.1,1219.4 L1356.7,1220.5 L1358.3,1216.3 L1359.9,1218.2 L1361.5,1222.0 L1363.1,1218.2 L1364.7,1219.6 L1366.3,1220.9 L1367.9,1219.0 L1369.5,1221.2 L1371.1,1218.5 L1372.7,1217.9 L1374.3,1218.8 L1375.9,1218.5 L1377.5,1220.7 L1379.1,1220.4 L1380.7,1221.4 L1382.2,1219.7 L1383.8,1224.5 L1385.4,1221.1 L1387.0,1221.3 L1388.6,1222.1 L1390.2,1221.2 L1391.8,1220.8 L1393.4,1221.8 L1395.0,1223.0 L1396.6,1222.7 L1398.2,1223.1 L1399.8,1221.2 L1401.4,1221.0 L1403.0,1224.7 L1404.6,1221.8 L1406.2,1222.8 L1407.8,1223.1 L1409.4,1224.0 L1411.0,1220.5 L1412.6,1221.6 L1414.2,1221.7 L1415.8,1221.8 L1417.4,1219.1 L1419.0,1222.1 L1420.6,1218.4 L1422.2,1222.6 L1423.8,1222.9 L1425.4,1223.0 L1427.0,1220.6 L1428.6,1223.4 L1430.2,1221.1 L1431.8,1220.6 L1433.4,1223.7 L1435.0,1221.2 L1436.6,1222.5 L1438.2,1223.4 L1439.8,1219.6 L1441.4,1221.7 L1443.0,1223.6 L1444.6,1222.7 L1446.2,1223.1 L1447.8,1220.6 L1449.4,1223.8 L1451.0,1220.6 L1452.6,1222.9 L1454.2,1224.5 L1455.8,1225.2 L1457.4,1223.5 L1459.0,1224.0 L1460.6,1222.1 L1462.2,1219.0 L1463.8,1224.5 L1465.4,1223.0 L1467.0,1222.8 L1468.6,1221.2 L1470.2,1223.2 L1471.8,1223.9 L1473.4,1222.0 L1475.0,1222.4 L1476.6,1225.1 L1478.2,1223.3 L1479.8,1222.7 L1481.4,1221.6 L1483.0,1222.3 L1484.6,1222.8 L1486.2,1224.9 L1487.8,1222.3 L1489.4,1225.4 L1491.0,1221.9 L1492.6,1222.6 L1494.2,1224.2 L1495.8,1222.7 L1497.4,1222.0 L1499.0,1222.9 L1500.6,1223.6 L1502.2,1220.8 L1503.8,1222.7 L1505.4,1222.9 L1507.0,1222.5 L1508.6,1224.0 L1510.2,1222.3 L1511.8,1222.5 L1513.4,1223.0 L1515.0,1223.9 L1516.6,1222.7 L1518.2,1225.0 L1519.8,1221.8 L1521.4,1221.8 L1523.0,1222.0 L1524.6,1222.9 L1526.2,1223.6 L1527.8,1225.9 L1529.4,1224.4 L1531.0,1222.8 L1532.6,1225.1 L1534.2,1223.2 L1535.8,1222.5 L1537.4,1224.2 L1539.0,1223.8 L1540.6,1225.0 L1542.2,1223.1 L1543.8,1224.4 L1545.4,1224.9 L1547.0,1224.5 L1548.6,1224.2 L1550.2,1223.4 L1551.8,1225.6 L1553.4,1224.7 L1555.0,1225.2 L1556.6,1224.2 L1558.2,1224.7 L1559.8,1223.4 L1561.4,1225.0 L1563.0,1225.9 L1564.6,1225.1 L1566.2,1226.2 L1567.8,1225.5 L1569.3,1226.9 L1570.9,1225.0 L1572.5,1223.1 L1574.1,1225.9 L1575.7,1225.1 L1577.3,1224.1 L1578.9,1226.3 L1580.5,1225.8 L1582.1,1226.1 L1583.7,1225.1 L1585.3,1225.8 L1586.9,1225.9 L1588.5,1227.9 L1590.1,1224.8 L1591.7,1225.7 L1593.3,1226.2 L1594.9,1223.5 L1596.5,1223.7 L1598.1,1228.6 L1599.7,1223.5 L1601.3,1226.5 L1602.9,1224.7 L1604.5,1224.8 L1606.1,1223.2 L1607.7,1224.6 L1609.3,1226.8 L1610.9,1224.0 L1612.5,1226.6 L1614.1,1226.2 L1615.7,1228.4 L1617.3,1225.2 L1618.9,1227.4 L1620.5,1226.9 L1622.1,1225.4 L1623.7,1223.6 L1625.3,1227.7 L1626.9,1224.0 L1628.5,1225.1 L1630.1,1226.9 L1631.7,1227.2 L1633.3,1224.6 L1634.9,1225.7 L1636.5,1225.4 L1638.1,1227.3 L1639.7,1229.0 L1641.3,1223.4 L1642.9,1227.0 L1644.5,1222.2 L1646.1,1225.9 L1647.7,1224.5 L1649.3,1228.6 L1650.9,1226.3 L1652.5,1225.2 L1654.1,1225.6 L1655.7,1225.6 L1657.3,1226.7 L1658.9,1226.3 L1660.5,1227.5 L1662.1,1228.7 L1663.7,1227.7 L1665.2,1225.3 L1666.8,1224.9 L1668.4,1226.2 L1670.0,1228.7 L1671.6,1227.0 L1673.2,1226.7 L1674.8,1227.8 L1676.4,1225.9 L1678.0,1226.4 L1679.6,1228.7 L1681.2,1227.8 L1682.8,1227.7 L1684.4,1228.8 L1686.0,1227.7 L1687.6,1227.7 L1689.2,1228.1 L1690.8,1229.6 L1692.4,1229.0 L1694.0,1227.4 L1695.6,1228.7 L1697.2,1230.0 L1698.8,1231.6 L1700.4,1227.8 L1702.0,1229.8 L1703.6,1229.0 L1705.2,1230.5 L1706.8,1230.0 L1708.4,1231.4 L1710.0,1230.2 L1711.6,1228.8 L1713.2,1228.8 L1714.8,1230.1 L1716.4,1230.0 L1718.0,1232.6 L1719.6,1231.7 L1721.2,1228.0 L1722.8,1229.9 L1724.4,1227.7 L1726.0,1227.3 L1727.6,1228.0 L1729.2,1230.2 L1730.8,1228.1 L1732.4,1231.5 L1734.0,1228.1 L1735.6,1227.9 L1737.2,1230.2 L1738.8,1229.7 L1740.4,1229.2 L1742.0,1229.3 L1743.6,1229.7 L1745.2,1229.3 L1746.8,1229.3 L1748.4,1227.1 L1750.0,1227.8 L1751.6,1230.4 L1753.2,1228.7 L1754.8,1230.4 L1756.4,1231.3 L1758.0,1229.3 L1759.6,1230.1 L1761.2,1232.5 L1762.8,1230.8 L1764.4,1232.3 L1766.0,1231.9 L1767.6,1231.0 L1769.2,1229.9 L1770.8,1229.0 L1772.4,1228.7 L1774.0,1230.8 L1775.6,1230.8 L1777.2,1230.0 L1778.8,1231.4 L1780.4,1229.5 L1782.0,1231.8 L1783.6,1230.4 L1785.2,1230.4 L1786.8,1230.5 L1788.4,1230.4 L1790.0,1233.8 L1791.6,1228.5 L1793.2,1230.9 L1794.8,1232.3 L1796.4,1231.7 L1798.0,1230.4 L1799.6,1233.1 L1801.2,1229.6 L1802.8,1229.3 L1804.4,1231.8 L1806.0,1229.2 L1807.6,1228.1 L1809.2,1232.3 L1810.8,1232.2 L1812.4,1232.2 L1814.0,1230.6 L1815.6,1231.5 L1817.2,1230.0 L1818.8,1233.5 L1820.4,1232.3 L1822.0,1232.2 L1823.6,1228.7 L1825.2,1232.3 L1826.8,1233.1 L1828.4,1232.8 L1830.0,1232.2 L1831.6,1231.2 L1833.2,1230.7 L1834.8,1231.9 L1836.4,1231.6 L1838.0,1231.4 L1839.6,1230.7 L1841.2,1233.3 L1842.8,1229.6 L1844.4,1231.1 L1846.0,1230.4 L1847.6,1232.6 L1849.2,1233.1 L1850.8,1232.9 L1852.4,1232.3 L1854.0,1229.6 L1855.6,1234.2 L1857.2,1232.2 L1858.8,1231.5 L1860.4,1231.7 L1862.0,1231.4 L1863.6,1232.4 L1865.2,1232.4 L1866.8,1231.6 L1868.3,1228.9 L1869.9,1232.3 L1871.5,1233.0 L1873.1,1233.2 L1874.7,1232.5 L1876.3,1233.4 L1877.9,1234.3 L1879.5,1232.4 L1881.1,1235.1 L1882.7,1233.3 L1884.3,1231.8 L1885.9,1232.4 L1887.5,1230.5 L1889.1,1232.5 L1890.7,1235.6 L1892.3,1235.7 L1893.9,1234.3 L1895.5,1236.6 L1897.1,1234.8 L1898.7,1233.9 L1900.3,1235.0 L1901.9,1234.6 L1903.4,1235.8 L1905.0,1233.0 L1906.6,1236.4 L1908.2,1234.6 L1909.8,1236.4 L1911.4,1233.3 L1913.0,1234.9 L1914.6,1235.6 L1916.2,1234.3 L1917.8,1234.1 L1919.4,1237.9 L1921.0,1236.4 L1922.6,1235.1 L1924.2,1237.5 L1925.8,1236.1 L1927.4,1237.5 L1929.0,1239.0 L1930.6,1237.0 L1932.2,1235.4 L1933.8,1235.5 L1935.4,1236.8 L1937.0,1236.5 L1938.6,1235.0 L1940.2,1235.2 L1941.8,1236.9 L1943.4,1239.1 L1945.0,1232.6 L1946.6,1236.9 L1948.2,1235.7 L1949.8,1237.0 L1951.4,1237.0 L1953.0,1235.9 L1954.6,1234.5 L1956.2,1233.9 L1957.8,1233.3 L1959.4,1237.2 L1961.0,1235.3 L1962.6,1234.8 L1964.2,1235.1 L1965.8,1233.7 L1967.4,1235.7 L1969.0,1237.0 L1970.6,1236.7 L1972.2,1233.1 L1973.8,1236.8 L1975.4,1234.0 L1977.0,1232.4 L1978.6,1233.2 L1980.2,1233.5 L1981.8,1234.7 L1983.4,1233.3 L1985.0,1232.6 L1986.6,1234.1 L1988.2,1236.8 L1989.8,1233.3 L1991.4,1234.8 L1991.8,1234.3" stroke="#000" stroke-width="7.3"/>
<path d="M400.1,318.6 L400.2,320.2 L400.4,321.8 L400.5,323.4 L400.6,325.0 L400.7,326.6 L400.9,328.2 L401.0,329.8 L401.1,331.4 L401.2,333.0 L401.4,334.6 L401.5,336.2 L401.6,337.8 L401.7,339.4 L401.8,340.9 L402.0,342.5 L402.1,344.1 L402.2,345.7 L402.3,347.3 L402.4,348.9 L402.6,350.5 L402.7,352.1 L402.8,353.7 L402.9,355.3 L403.0,356.9 L403.2,358.5 L403.3,360.1 L403.4,361.7 L403.5,363.3 L403.6,364.9 L403.7,366.5 L403.9,368.1 L404.0,369.7 L404.1,371.3 L404.2,372.9 L404.3,374.5 L404.5,376.1 L404.6,377.6 L404.7,379.2 L404.8,380.8 L404.9,382.4 L405.0,384.0 L405.2,385.6 L405.3,387.2 L405.4,388.8 L405.5,390.4 L405.6,392.0 L405.7,393.6 L405.9,395.2 L406.0,396.8 L406.1,398.4 L406.2,400.0 L406.3,401.6 L406.5,403.2 L406.6,404.8 L406.7,406.4 L406.8,408.0 L406.9,409.6 L407.0,411.2 L407.2,412.8 L407.3,414.3 L407.4,415.9 L407.5,417.5 L407.6,419.1 L407.8,420.7 L407.9,422.3 L408.0,423.9 L408.1,425.5 L408.2,427.1 L408.4,428.7 L408.5,430.3 L408.6,431.9 L408.7,433.5 L408.9,435.1 L409.0,436.7 L409.1,438.3 L409.2,439.9 L409.4,441.5 L409.5,443.1 L409.6,444.7 L409.7,446.3 L409.9,447.8 L410.0,449.4 L410.1,451.0 L410.3,452.6 L410.4,454.2 L410.5,455.8 L410.6,457.4 L410.8,459.0 L410.9,460.6 L411.0,462.2 L411.2,463.8 L411.3,465.4 L411.4,467.0 L411.6,468.6 L411.7,470.2 L411.8,471.8 L412.0,473.4 L412.1,475.0 L412.2,476.5 L412.4,478.1 L412.5,479.7 L412.7,481.3 L412.8,482.9 L412.9,484.5 L413.1,486.1 L413.2,487.7 L413.4,489.3 L413.5,490.9 L413.7,492.5 L413.8,494.1 L414.0,495.7 L414.1,497.3 L414.3,498.9 L414.4,500.5 L414.5,502.0 L414.7,503.6 L414.9,505.2 L415.0,506.8 L415.2,508.4 L415.3,510.0 L415.5,511.6 L415.6,513.2 L415.8,514.8 L415.9,516.4 L416.1,518.0 L416.3,519.6 L416.4,521.2 L416.6,522.7 L416.7,524.3 L416.9,525.9 L417.1,527.5 L417.2,529.1 L417.4,530.7 L417.6,532.3 L417.7,533.9 L417.9,535.5 L418.1,537.1 L418.3,538.7 L418.4,540.2 L418.6,541.8 L418.8,543.4 L419.0,545.0 L419.1,546.6 L419.3,548.2 L419.5,549.8 L419.7,551.4 L419.9,553.0 L420.1,554.6 L420.2,556.1 L420.4,557.7 L420.6,559.3 L420.8,560.9 L421.0,562.5 L421.2,564.1 L421.4,565.7 L421.6,567.3 L421.8,568.9 L422.0,570.4 L422.2,572.0 L422.4,573.6 L422.6,575.2 L422.8,576.8 L423.0,578.4 L423.2,580.0 L423.4,581.5 L423.6,583.1 L423.8,584.7 L424.0,586.3 L424.3,587.9 L424.5,589.5 L424.7,591.1 L424.9,592.6 L425.1,594.2 L425.3,595.8 L425.6,597.4 L425.8,599.0 L426.0,600.6 L426.3,602.2 L426.5,603.7 L426.7,605.3 L426.9,606.9 L427.2,608.5 L427.4,610.1 L427.7,611.7 L427.9,613.2 L428.1,614.8 L428.4,616.4 L428.6,618.0 L428.9,619.6 L429.1,621.1 L429.4,622.7 L429.6,624.3 L429.9,625.9 L430.1,627.5 L430.4,629.0 L430.6,630.6 L430.9,632.2 L431.2,633.8 L431.4,635.4 L431.7,636.9 L432.0,638.5 L432.2,640.1 L432.5,641.7 L432.8,643.2 L433.1,644.8 L433.3,646.4 L433.6,648.0 L433.9,649.5 L434.2,651.1 L434.5,652.7 L434.7,654.3 L435.0,655.8 L435.3,657.4 L435.6,659.0 L435.9,660.6 L436.2,662.1 L436.5,663.7 L436.8,665.3 L437.1,666.8 L437.4,668.4 L437.7,670.0 L438.0,671.6 L438.3,673.1 L438.7,674.7 L439.0,676.3 L439.3,677.8 L439.6,679.4 L439.9,681.0 L440.3,682.5 L440.6,684.1 L440.9,685.7 L441.2,687.2 L441.6,688.8 L441.9,690.4 L442.3,691.9 L442.6,693.5 L442.9,695.0 L443.3,696.6 L443.6,698.2 L444.0,699.7 L444.3,701.3 L444.7,702.9 L445.0,704.4 L445.4,706.0 L445.8,707.5 L446.1,709.1 L446.5,710.6 L446.9,712.2 L447.2,713.8 L447.6,715.3 L448.0,716.9 L448.3,718.4 L448.7,720.0 L449.1,721.5 L449.5,723.1 L449.9,724.6 L450.3,726.2 L450.7,727.7 L451.1,729.3 L451.5,730.8 L451.9,732.4 L452.3,733.9 L452.7,735.5 L453.1,737.0 L453.5,738.6 L454.0,740.1 L454.4,741.7 L454.8,743.2 L455.3,744.7 L455.7,746.3 L456.1,747.8 L456.6,749.3 L457.0,750.9 L457.5,752.4 L457.9,753.9 L458.4,755.5 L458.9,757.0 L459.3,758.5 L459.8,760.1 L460.3,761.6 L460.8,763.1 L461.3,764.6 L461.8,766.2 L462.3,767.7 L462.8,769.2 L463.3,770.7 L463.8,772.2 L464.3,773.7 L464.8,775.3 L465.4,776.8 L465.9,778.3 L466.4,779.8 L467.0,781.3 L467.5,782.8 L468.1,784.3 L468.7,785.8 L469.2,787.3 L469.8,788.8 L470.4,790.3 L471.0,791.8 L471.6,793.2 L472.2,794.7 L472.8,796.2 L473.4,797.7 L474.0,799.2 L474.6,800.6 L475.2,802.1 L475.9,803.6 L476.5,805.1 L477.1,806.5 L477.8,808.0 L478.4,809.4 L479.1,810.9 L479.8,812.3 L480.5,813.8 L481.1,815.2 L481.8,816.7 L482.5,818.1 L483.2,819.6 L483.9,821.0 L484.7,822.4 L485.4,823.9 L486.1,825.3 L486.8,826.7 L487.6,828.1 L488.3,829.5 L489.1,830.9 L489.9,832.3 L490.6,833.7 L491.4,835.1 L492.2,836.5 L493.0,837.9 L493.8,839.3 L494.6,840.7 L495.5,842.0 L496.3,843.4 L497.2,844.8 L498.0,846.1 L498.9,847.5 L499.7,848.8 L500.6,850.1 L501.5,851.5 L502.4,852.8 L503.4,854.1 L504.3,855.4 L505.2,856.7 L506.2,858.0 L507.2,859.2 L508.1,860.5 L509.1,861.8 L510.1,863.0 L511.2,864.2 L512.2,865.5 L513.2,866.7 L514.3,867.9 L515.4,869.1 L516.4,870.2 L517.5,871.4 L518.7,872.5 L519.8,873.7 L520.9,874.8 L522.1,875.9 L523.3,877.0 L524.4,878.0 L525.6,879.1 L526.8,880.0 L528.1,881.2 L529.3,881.9 L530.5,882.9 L531.8,884.1 L533.1,885.0 L534.3,886.0 L535.6,886.7 L536.9,887.8 L538.2,888.7 L539.5,889.9 L540.8,890.5 L542.2,891.5 L543.5,892.1 L544.9,893.1 L546.2,893.9 L547.6,895.0 L548.9,895.4 L550.3,896.3 L551.7,897.4 L553.1,898.6 L554.5,899.0 L555.8,899.8 L557.2,900.4 L558.6,901.6 L560.1,902.2 L561.5,903.3 L562.9,903.7 L564.3,904.1 L565.7,904.9 L567.2,905.5 L568.6,906.2 L570.0,907.7 L571.5,908.2 L572.9,908.3 L574.4,910.0 L575.8,910.2 L577.3,910.4 L578.7,911.6 L580.2,912.1 L581.6,912.5 L583.1,912.7 L584.6,914.1 L586.0,914.8 L587.5,914.4 L589.0,916.1 L590.4,916.7 L591.9,917.0 L593.4,917.8 L594.9,918.2 L596.4,918.6 L597.9,919.4 L599.3,920.5 L600.8,920.1 L602.3,921.3 L603.8,921.8 L605.3,922.1 L606.8,922.7 L608.3,922.9 L609.8,923.7 L611.3,924.5 L612.8,925.1 L614.3,925.2 L615.9,927.1 L617.4,926.4 L618.9,927.1 L620.4,927.5 L621.9,927.9 L623.4,929.0 L625.0,928.9 L626.5,930.0 L628.0,930.4 L629.5,930.1 L631.1,931.3 L632.6,931.2 L634.1,932.9 L635.7,932.2 L637.2,932.5 L638.7,932.6 L640.3,933.3 L641.8,933.9 L643.3,934.2 L644.9,934.6 L646.4,935.2 L648.0,935.8 L649.5,936.8 L651.0,936.1 L652.6,937.0 L654.1,937.2 L655.7,937.5 L657.2,938.0 L658.8,938.5 L660.3,939.5 L661.9,939.6 L663.4,939.8 L665.0,940.6 L666.5,940.9 L668.1,941.1 L669.7,941.7 L671.2,941.7 L672.8,942.5 L674.3,942.9 L675.9,942.9 L677.4,943.0 L679.0,944.3 L680.6,944.2 L682.1,945.6 L683.7,944.6 L685.3,945.5 L686.8,945.4 L688.4,946.0 L689.9,946.5 L691.5,946.3 L693.1,946.9 L694.6,947.3 L696.2,947.6 L697.8,948.1 L699.3,948.6 L700.9,948.8 L702.5,948.9 L704.1,949.0 L705.6,949.1 L707.2,949.5 L708.8,949.9 L710.3,950.6 L711.9,950.5 L713.5,950.5 L715.1,951.5 L716.6,951.2 L718.2,951.5 L719.8,952.0 L721.4,952.5 L722.9,951.8 L724.5,952.5 L726.1,953.2 L727.7,953.3 L729.2,953.4 L730.8,953.8 L732.4,954.7 L734.0,954.4 L735.6,955.0 L737.1,955.3 L738.7,955.1 L740.3,955.7 L741.9,955.7 L743.4,955.8 L745.0,955.9 L746.6,956.9 L748.2,956.7 L749.8,956.9 L751.4,956.9 L752.9,958.2 L754.5,958.0 L756.1,958.0 L757.7,958.0 L759.3,957.9 L760.9,958.8 L762.4,959.0 L764.0,958.7 L765.6,959.8 L767.2,959.9 L768.8,959.5 L770.4,959.8 L771.9,960.1 L773.5,960.5 L775.1,960.6 L776.7,960.2 L778.3,961.5 L779.9,961.3 L781.5,961.8 L783.0,962.0 L784.6,961.7 L786.2,962.1 L787.8,962.4 L789.4,962.6 L791.0,962.5 L792.6,962.5 L794.2,963.0 L795.7,962.9 L797.3,963.1 L798.9,962.8 L800.5,963.7 L802.1,963.5 L803.7,963.9 L805.3,964.3 L806.9,964.6 L808.5,965.3 L810.0,964.9 L811.6,964.5 L813.2,965.3 L814.8,965.2 L816.4,965.7 L818.0,965.5 L819.6,965.7 L821.2,966.0 L822.8,966.1 L824.4,965.9 L825.9,966.5 L827.5,966.9 L829.1,967.5 L830.7,967.1 L832.3,967.2 L833.9,967.7 L835.5,967.9 L837.1,968.4 L838.7,968.2 L840.3,968.2 L841.9,968.8 L843.4,969.1 L845.0,968.5 L846.6,968.9 L848.2,968.4 L849.8,969.1 L851.4,969.1 L853.0,969.5 L854.6,969.5 L856.2,969.8 L857.8,970.0 L859.4,970.4 L860.9,970.5 L862.5,970.4 L864.1,970.3 L865.7,971.3 L867.3,971.6 L868.9,971.1 L870.5,971.6 L872.1,971.1 L873.7,971.3 L875.3,971.9 L876.9,972.7 L878.5,972.0 L880.0,972.2 L881.6,973.2 L883.2,972.2 L884.8,973.2 L886.4,973.4 L888.0,973.3 L889.6,973.6 L891.2,974.6 L892.8,973.5 L894.4,973.9 L896.0,974.1 L897.6,974.1 L899.1,974.1 L900.7,975.2 L902.3,974.9 L903.9,974.4 L905.5,974.9 L907.1,975.5 L908.7,975.6 L910.3,975.1 L911.9,975.8 L913.5,976.0 L915.1,976.2 L916.7,976.4 L918.2,975.8 L919.8,977.2 L921.4,976.8 L923.0,977.5 L924.6,978.0 L926.2,977.1 L927.8,976.9 L929.4,977.8 L931.0,977.6 L932.6,977.6 L934.2,977.6 L935.7,978.6 L937.3,978.1 L938.9,977.9 L940.5,978.3 L942.1,978.2 L943.7,978.9 L945.3,978.8 L946.9,978.7 L948.5,979.5 L950.1,979.2 L951.7,979.8 L953.2,980.2 L954.8,979.8 L956.4,979.8 L958.0,980.3 L959.6,980.7 L961.2,980.6 L962.8,980.8 L964.4,980.9 L966.0,981.2 L967.6,981.5 L969.2,981.2 L970.7,981.4 L972.3,981.8 L973.9,981.7 L975.5,982.2 L977.1,982.5 L978.7,982.5 L980.3,982.4 L981.9,982.6 L983.5,983.6 L985.1,983.5 L986.7,983.0 L988.2,983.2 L989.8,984.3 L991.4,984.4 L993.0,984.1 L994.6,984.6 L996.2,983.9 L997.8,984.5 L999.4,985.0 L1001.0,984.2 L1002.6,984.8 L1004.2,985.5 L1005.8,985.8 L1007.3,985.4 L1008.9,985.9 L1010.5,986.5 L1012.1,986.0 L1013.7,985.9 L1015.3,986.5 L1016.9,986.6 L1018.5,987.4 L1020.1,987.2 L1021.7,987.0 L1023.3,988.3 L1024.9,987.5 L1026.5,988.1 L1028.1,988.4 L1029.6,988.6 L1031.2,988.6 L1032.8,988.9 L1034.4,988.9 L1036.0,988.6 L1037.6,989.3 L1039.2,989.5 L1040.8,989.7 L1042.4,990.0 L1044.0,989.9 L1045.6,990.8 L1047.2,991.0 L1048.8,989.9 L1050.4,990.8 L1052.0,990.8 L1053.5,990.3 L1055.1,991.5 L1056.7,991.3 L1058.3,991.5 L1059.9,991.6 L1061.5,992.3 L1063.1,992.5 L1064.7,992.3 L1066.3,992.6 L1067.9,992.4 L1069.5,992.6 L1071.1,992.4 L1072.7,992.8 L1074.3,992.6 L1075.9,993.1 L1077.5,993.4 L1079.1,993.3 L1080.7,993.7 L1082.3,994.3 L1083.8,992.8 L1085.4,993.6 L1087.0,993.5 L1088.6,993.6 L1090.2,993.4 L1091.8,994.0 L1093.4,994.0 L1095.0,993.9 L1096.6,994.1 L1098.2,994.1 L1099.8,993.6 L1101.4,994.9 L1103.0,994.5 L1104.6,994.3 L1106.2,994.8 L1107.8,994.6 L1109.4,994.1 L1111.0,995.3 L1112.6,994.5 L1114.2,995.1 L1115.8,995.2 L1117.4,995.7 L1119.0,995.8 L1120.6,995.5 L1122.2,995.2 L1123.8,995.4 L1125.4,996.0 L1127.0,996.3 L1128.6,995.9 L1130.2,995.6 L1131.8,996.2 L1133.4,995.8 L1135.0,995.8 L1136.6,995.9 L1138.2,996.3 L1139.8,996.2 L1141.4,996.5 L1143.0,996.7 L1144.6,996.5 L1146.2,995.5 L1147.8,995.8 L1149.3,996.5 L1150.9,996.5 L1152.5,997.3 L1154.1,996.6 L1155.7,996.6 L1157.3,997.1 L1158.9,997.2 L1160.5,996.8 L1162.1,997.1 L1163.7,996.6 L1165.3,996.7 L1166.9,997.5 L1168.5,996.6 L1170.1,997.5 L1171.7,997.5 L1173.3,997.6 L1174.9,997.7 L1176.5,997.6 L1178.1,996.7 L1179.7,997.2 L1181.3,997.4 L1182.9,998.0 L1184.5,997.3 L1186.1,997.5 L1187.7,997.7 L1189.3,998.3 L1190.9,997.4 L1192.5,997.5 L1194.1,998.3 L1195.7,997.3 L1197.3,998.3 L1198.9,998.0 L1200.5,997.7 L1202.1,998.2 L1203.7,998.0 L1205.3,998.5 L1206.9,998.6 L1208.5,999.1 L1210.1,998.6 L1211.7,998.7 L1213.3,998.5 L1214.9,998.8 L1216.5,999.2 L1218.1,998.2 L1219.7,999.2 L1221.3,998.9 L1222.9,999.2 L1224.5,999.3 L1226.1,999.6 L1227.7,999.4 L1229.3,999.3 L1230.9,999.6 L1232.5,999.6 L1234.1,999.5 L1235.7,999.8 L1237.3,1000.1 L1238.9,999.9 L1240.5,999.9 L1242.1,999.5 L1243.7,1000.0 L1245.3,999.4 L1246.9,1000.4 L1248.5,999.9 L1250.1,1000.7 L1251.7,1001.4 L1253.3,1000.3 L1254.9,1000.9 L1256.5,1000.7 L1258.0,1000.4 L1259.6,1000.3 L1261.2,1000.9 L1262.8,1001.3 L1264.4,1001.0 L1266.0,1000.4 L1267.6,1000.6 L1269.2,1001.0 L1270.8,1001.6 L1272.4,1001.3 L1274.0,1001.4 L1275.6,1001.7 L1277.2,1001.3 L1278.8,1001.5 L1280.4,1001.5 L1282.0,1001.0 L1283.6,1001.9 L1285.2,1002.0 L1286.8,1002.3 L1288.4,1001.6 L1290.0,1001.8 L1291.6,1002.5 L1293.2,1002.4 L1294.8,1002.9 L1296.4,1002.2 L1298.0,1002.7 L1299.6,1002.5 L1301.2,1003.0 L1302.8,1002.8 L1304.4,1003.2 L1306.0,1003.5 L1307.6,1003.5 L1309.2,1002.7 L1310.8,1003.8 L1312.4,1003.7 L1314.0,1003.3 L1315.6,1003.4 L1317.2,1003.8 L1318.8,1004.1 L1320.4,1003.8 L1322.0,1003.5 L1323.6,1004.2 L1325.2,1004.3 L1326.8,1005.1 L1328.4,1003.9 L1330.0,1005.3 L1331.6,1005.0 L1333.2,1004.6 L1334.8,1005.1 L1336.3,1004.6 L1337.9,1004.9 L1339.5,1004.4 L1341.1,1004.7 L1342.7,1004.3 L1344.3,1004.1 L1345.9,1004.6 L1347.5,1004.5 L1349.1,1005.0 L1350.7,1005.3 L1352.3,1004.8 L1353.9,1004.9 L1355.5,1005.0 L1357.1,1004.4 L1358.7,1005.1 L1360.3,1005.1 L1361.9,1005.1 L1363.5,1004.8 L1365.1,1004.6 L1366.7,1005.3 L1368.3,1005.5 L1369.9,1006.0 L1371.5,1006.0 L1373.1,1006.2 L1374.7,1005.9 L1376.3,1006.2 L1377.9,1005.9 L1379.5,1006.2 L1381.1,1006.4 L1382.7,1007.1 L1384.3,1006.4 L1385.9,1005.9 L1387.5,1006.9 L1389.1,1006.3 L1390.7,1006.6 L1392.3,1006.6 L1393.9,1006.5 L1395.5,1007.3 L1397.1,1007.1 L1398.7,1006.8 L1400.3,1007.1 L1401.9,1006.9 L1403.5,1007.3 L1405.1,1007.0 L1406.7,1007.0 L1408.3,1007.0 L1409.9,1007.1 L1411.5,1007.4 L1413.1,1007.0 L1414.7,1007.3 L1416.3,1007.6 L1417.9,1008.2 L1419.5,1007.7 L1421.1,1006.4 L1422.7,1007.3 L1424.3,1007.3 L1425.9,1007.6 L1427.5,1008.1 L1429.1,1007.8 L1430.7,1006.7 L1432.3,1007.6 L1433.9,1007.6 L1435.5,1007.7 L1437.1,1008.0 L1438.7,1007.2 L1440.3,1008.0 L1441.9,1007.0 L1443.5,1007.6 L1445.1,1007.7 L1446.7,1008.4 L1448.3,1007.4 L1449.9,1007.0 L1451.5,1007.9 L1453.1,1007.4 L1454.7,1008.2 L1456.3,1007.4 L1457.9,1007.4 L1459.5,1008.1 L1461.1,1007.7 L1462.7,1008.1 L1464.3,1007.3 L1465.9,1008.4 L1467.5,1007.6 L1469.1,1008.1 L1470.7,1007.5 L1472.3,1007.3 L1473.9,1007.8 L1475.5,1008.0 L1477.1,1008.6 L1478.7,1008.2 L1480.3,1008.3 L1481.9,1008.4 L1483.5,1009.3 L1485.1,1008.0 L1486.7,1008.7 L1488.3,1008.3 L1489.9,1008.5 L1491.5,1008.3 L1493.1,1008.9 L1494.7,1008.2 L1496.3,1008.2 L1497.9,1008.7 L1499.5,1008.4 L1501.1,1009.1 L1502.7,1009.3 L1504.3,1008.8 L1505.9,1009.4 L1507.5,1008.9 L1509.1,1009.2 L1510.7,1009.3 L1512.3,1010.0 L1513.9,1009.5 L1515.5,1009.2 L1517.1,1009.3 L1518.7,1009.2 L1520.3,1009.2 L1521.9,1009.7 L1523.5,1009.8 L1525.1,1009.1 L1526.7,1009.9 L1528.3,1010.5 L1529.9,1010.3 L1531.5,1009.9 L1533.1,1010.6 L1534.7,1010.6 L1536.3,1011.1 L1537.9,1010.2 L1539.5,1010.4 L1541.1,1010.6 L1542.7,1010.6 L1544.3,1010.7 L1545.9,1010.7 L1547.5,1010.5 L1549.1,1010.2 L1550.7,1010.6 L1552.3,1010.3 L1553.9,1010.5 L1555.5,1010.7 L1557.1,1011.1 L1558.7,1011.2 L1560.3,1010.6 L1561.9,1011.1 L1563.5,1011.2 L1565.1,1011.0 L1566.7,1010.4 L1568.3,1010.2 L1569.9,1011.3 L1571.5,1011.4 L1573.1,1011.1 L1574.7,1010.7 L1576.3,1011.6 L1577.9,1011.5 L1579.5,1011.1 L1581.1,1011.1 L1582.7,1010.5 L1584.3,1011.5 L1585.9,1010.7 L1587.5,1011.5 L1589.1,1011.5 L1590.7,1011.4 L1592.3,1011.9 L1593.9,1011.3 L1595.5,1011.6 L1597.1,1011.7 L1598.7,1011.6 L1600.3,1011.4 L1601.9,1012.0 L1603.5,1011.7 L1605.1,1011.6 L1606.7,1011.6 L1608.3,1011.7 L1609.9,1012.5 L1611.5,1011.8 L1613.1,1011.7 L1614.7,1011.4 L1616.3,1011.4 L1617.9,1011.2 L1619.5,1011.9 L1621.1,1011.9 L1622.7,1011.5 L1624.3,1011.3 L1625.9,1011.7 L1627.5,1011.7 L1629.1,1011.4 L1630.7,1012.0 L1632.3,1011.9 L1633.9,1011.8 L1635.5,1012.1 L1637.1,1011.6 L1638.7,1012.3 L1640.3,1011.5 L1641.9,1012.0 L1643.5,1012.0 L1645.1,1011.7 L1646.7,1011.9 L1648.3,1011.4 L1649.9,1011.3 L1651.5,1011.8 L1653.1,1011.6 L1654.7,1012.1 L1656.3,1011.9 L1657.9,1012.1 L1659.5,1012.1 L1661.0,1012.1 L1662.6,1012.1 L1664.2,1012.0 L1665.8,1012.0 L1667.4,1012.9 L1669.0,1011.6 L1670.6,1012.3 L1672.2,1012.7 L1673.8,1012.6 L1675.4,1013.0 L1677.0,1012.8 L1678.6,1012.3 L1680.2,1012.7 L1681.8,1012.4 L1683.4,1013.3 L1685.0,1013.5 L1686.6,1013.0 L1688.2,1013.4 L1689.8,1013.2 L1691.4,1012.9 L1693.0,1013.3 L1694.6,1013.0 L1696.2,1013.4 L1697.8,1013.8 L1699.4,1014.0 L1701.0,1014.3 L1702.6,1013.8 L1704.2,1014.1 L1705.8,1014.2 L1707.4,1014.3 L1709.0,1013.2 L1710.6,1014.0 L1712.2,1014.6 L1713.8,1014.0 L1715.4,1014.5 L1717.0,1014.8 L1718.6,1013.9 L1720.2,1014.5 L1721.8,1014.7 L1723.4,1014.7 L1725.0,1014.2 L1726.6,1014.9 L1728.2,1014.7 L1729.8,1015.2 L1731.4,1015.1 L1733.0,1014.9 L1734.6,1015.2 L1736.2,1015.0 L1737.8,1015.0 L1739.4,1014.8 L1741.0,1015.3 L1742.6,1015.8 L1744.2,1015.6 L1745.8,1015.7 L1747.4,1015.5 L1749.0,1015.7 L1750.6,1016.2 L1752.2,1015.5 L1753.8,1016.8 L1755.4,1016.2 L1757.0,1017.0 L1758.6,1016.8 L1760.2,1016.3 L1761.8,1016.8 L1763.4,1016.7 L1765.0,1016.8 L1766.6,1017.0 L1768.2,1016.7 L1769.8,1016.7 L1771.4,1016.9 L1773.0,1016.6 L1774.6,1017.0 L1776.2,1017.3 L1777.8,1017.4 L1779.4,1017.4 L1781.0,1017.3 L1782.6,1017.7 L1784.2,1016.8 L1785.8,1017.4 L1787.4,1017.5 L1789.0,1018.0 L1790.6,1018.0 L1792.2,1018.1 L1793.8,1017.8 L1795.4,1018.2 L1797.0,1017.6 L1798.6,1018.0 L1800.2,1017.2 L1801.8,1018.6 L1803.4,1018.6 L1805.0,1017.9 L1806.6,1017.8 L1808.2,1017.4 L1809.7,1017.7 L1811.3,1018.3 L1812.9,1018.2 L1814.5,1017.8 L1816.1,1018.1 L1817.7,1018.1 L1819.3,1018.5 L1820.9,1018.6 L1822.5,1018.3 L1824.1,1018.5 L1825.7,1018.5 L1827.3,1017.8 L1828.9,1018.6 L1830.5,1018.6 L1832.1,1018.9 L1833.7,1018.0 L1835.3,1019.0 L1836.9,1018.5 L1838.5,1018.9 L1840.1,1019.2 L1841.7,1018.4 L1843.3,1018.5 L1844.9,1019.3 L1846.5,1018.6 L1848.1,1018.8 L1849.7,1019.4 L1851.3,1019.1 L1852.9,1019.5 L1854.5,1019.4 L1856.1,1019.4 L1857.7,1019.8 L1859.3,1020.3 L1860.9,1019.6 L1862.5,1020.2 L1864.1,1020.1 L1865.7,1019.8 L1867.3,1020.0 L1868.9,1019.6 L1870.5,1019.8 L1872.1,1020.2 L1873.7,1020.1 L1875.3,1020.7 L1876.9,1019.8 L1878.5,1020.2 L1880.1,1020.2 L1881.7,1020.4 L1883.3,1020.9 L1884.9,1020.2 L1886.5,1020.9 L1888.1,1020.5 L1889.7,1020.6 L1891.3,1021.1 L1892.9,1020.7 L1894.5,1021.1 L1896.1,1021.0 L1897.7,1020.9 L1899.3,1020.9 L1900.9,1020.4 L1902.5,1020.8 L1904.1,1021.2 L1905.7,1021.2 L1907.3,1020.6 L1908.9,1021.5 L1910.5,1021.4 L1912.1,1020.8 L1913.7,1020.9 L1915.3,1021.4 L1916.9,1020.7 L1918.5,1021.0 L1920.1,1021.3 L1921.7,1021.2 L1923.3,1021.3 L1924.9,1021.4 L1926.5,1021.0 L1928.1,1021.1 L1929.7,1022.0 L1931.3,1020.8 L1932.9,1021.2 L1934.5,1021.4 L1936.1,1021.1 L1937.7,1021.7 L1939.3,1021.3 L1940.9,1021.6 L1942.5,1020.4 L1944.1,1021.7 L1945.7,1021.7 L1947.3,1021.1 L1948.9,1021.8 L1950.5,1021.4 L1952.1,1021.7 L1953.7,1022.0 L1955.3,1021.4 L1956.9,1021.0 L1958.5,1021.4 L1960.1,1020.9 L1961.7,1021.1 L1963.3,1021.2 L1964.9,1021.2 L1966.5,1021.9 L1968.1,1021.7 L1969.7,1021.2 L1971.3,1020.5 L1972.9,1020.9 L1974.5,1021.3 L1976.1,1021.5 L1977.7,1021.9 L1979.3,1021.8 L1980.9,1021.7 L1982.5,1022.0 L1984.1,1021.8 L1985.7,1022.0 L1987.3,1021.3 L1988.9,1021.0 L1990.5,1021.4 L1992.1,1021.9 L1992.2,1021.7" stroke="#f00"/>
<path d="M600.8,920.1 L602.3,921.3 L603.8,921.8 L605.3,922.1 L606.8,922.7 L608.3,922.9 L609.8,923.7 L611.3,924.5 L612.8,925.1 L614.3,925.2 L615.9,927.1 L617.4,926.4 L618.9,927.1 L620.4,927.5 L621.9,927.9 L623.4,929.0 L625.0,928.9 L626.5,930.0 L628.0,930.4 L629.5,930.1 L631.1,931.3 L632.6,931.2 L634.1,932.9 L635.7,932.2 L637.2,932.5 L638.7,932.6 L640.3,933.3 L641.8,933.9 L643.3,934.2 L644.9,934.6 L646.4,935.2 L648.0,935.8 L649.5,936.8 L651.0,936.1 L652.6,937.0 L654.1,937.2 L655.7,937.5 L657.2,938.0 L658.8,938.5 L660.3,939.5 L661.9,939.6 L663.4,939.8 L665.0,940.6 L666.5,940.9 L668.1,941.1 L669.7,941.7 L671.2,941.7 L672.8,942.5 L674.3,942.9 L675.9,942.9 L677.4,943.0 L679.0,944.3 L680.6,944.2 L682.1,945.6 L683.7,944.6 L685.3,945.5 L686.8,945.4 L688.4,946.0 L689.9,946.5 L691.5,946.3 L693.1,946.9 L694.6,947.3 L696.2,947.6 L697.8,948.1 L699.3,948.6 L700.9,948.8 L702.5,948.9 L704.1,949.0 L705.6,949.1 L707.2,949.5 L708.8,949.9 L710.3,950.6 L711.9,950.5 L713.5,950.5 L715.1,951.5 L716.6,951.2 L718.2,951.5 L719.8,952.0 L721.4,952.5 L722.9,951.8 L724.5,952.5 L726.1,953.2 L727.7,953.3 L729.2,953.4 L730.8,953.8 L732.4,954.7 L734.0,954.4 L735.6,955.0 L737.1,955.3 L738.7,955.1 L740.3,955.7 L741.9,955.7 L743.4,955.8 L745.0,955.9 L746.6,956.9 L748.2,956.7 L749.8,956.9 L751.4,956.9 L752.9,958.2 L754.5,958.0 L756.1,958.0 L757.7,958.0 L759.3,957.9 L760.9,958.8 L762.4,959.0 L764.0,958.7 L765.6,959.8 L767.2,959.9 L768.8,959.5 L770.4,959.8 L771.9,960.1 L773.5,960.5 L775.1,960.6 L776.7,960.2 L778.3,961.5 L779.9,961.3 L781.5,961.8 L783.0,962.0 L784.6,961.7 L786.2,962.1 L787.8,962.4 L789.4,962.6 L791.0,962.5 L792.6,962.5 L794.2,963.0 L795.7,962.9 L797.3,963.1 L798.9,962.8 L800.5,963.7 L802.1,963.5 L803.7,963.9 L805.3,964.3 L806.9,964.6 L808.5,965.3 L810.0,964.9 L811.6,964.5 L813.2,965.3 L814.8,965.2 L816.4,965.7 L818.0,965.5 L819.6,965.7 L821.2,966.0 L822.8,966.1 L824.4,965.9 L825.9,966.5 L827.5,966.9 L829.1,967.5 L830.7,967.1 L832.3,967.2 L833.9,967.7 L835.5,967.9 L837.1,968.4 L838.7,968.2 L840.3,968.2 L841.9,968.8 L843.4,969.1 L845.0,968.5 L846.6,968.9 L848.2,968.4 L849.8,969.1 L851.4,969.1 L853.0,969.5 L854.6,969.5 L856.2,969.8 L857.8,970.0 L859.4,970.4 L860.9,970.5 L862.5,970.4 L864.1,970.3 L865.7,971.3 L867.3,971.6 L868.9,971.1 L870.5,971.6 L872.1,971.1 L873.7,971.3 L875.3,971.9 L876.9,972.7 L878.5,972.0 L880.0,972.2 L881.6,973.2 L883.2,972.2 L884.8,973.2 L886.4,973.4 L888.0,973.3 L889.6,973.6 L891.2,974.6 L892.8,973.5 L894.4,973.9 L896.0,974.1 L897.6,974.1 L899.1,974.1 L900.7,975.2 L902.3,974.9 L903.9,974.4 L905.5,974.9 L907.1,975.5 L908.7,975.6 L910.3,975.1 L911.9,975.8 L913.5,976.0 L915.1,976.2 L916.7,976.4 L918.2,975.8 L919.8,977.2 L921.4,976.8 L923.0,977.5 L924.6,978.0 L926.2,977.1 L927.8,976.9 L929.4,977.8 L931.0,977.6 L932.6,977.6 L934.2,977.6 L935.7,978.6 L937.3,978.1 L938.9,977.9 L940.5,978.3 L942.1,978.2 L943.7,978.9 L945.3,978.8 L946.9,978.7 L948.5,979.5 L950.1,979.2 L951.7,979.8 L953.2,980.2 L954.8,979.8 L956.4,979.8 L958.0,980.3 L959.6,980.7 L961.2,980.6 L962.8,980.8 L964.4,980.9 L966.0,981.2 L967.6,981.5 L969.2,981.2 L970.7,981.4 L972.3,981.8 L973.9,981.7 L975.5,982.2 L977.1,982.5 L978.7,982.5 L980.3,982.4 L981.9,982.6 L983.5,983.6 L985.1,983.5 L986.7,983.0 L988.2,983.2 L989.8,984.3 L991.4,984.4 L993.0,984.1 L994.6,984.6 L996.2,983.9 L997.8,984.5 L999.4,985.0 L1001.0,984.2 L1002.6,984.8 L1004.2,985.5 L1005.8,985.8 L1007.3,985.4 L1008.9,985.9 L1010.5,986.5 L1012.1,986.0 L1013.7,985.9 L1015.3,986.5 L1016.9,986.6 L1018.5,987.4 L1020.1,987.2 L1021.7,987.0 L1023.3,988.3 L1024.9,987.5 L1026.5,988.1 L1028.1,988.4 L1029.6,988.6 L1031.2,988.6 L1032.8,988.9 L1034.4,988.9 L1036.0,988.6 L1037.6,989.3 L1039.2,989.5 L1040.8,989.7 L1042.4,990.0 L1044.0,989.9 L1045.6,990.8 L1047.2,991.0 L1048.8,989.9 L1050.4,990.8 L1052.0,990.8 L1053.5,990.3 L1055.1,991.5 L1056.7,991.3 L1058.3,991.5 L1059.9,991.6 L1061.5,992.3 L1063.1,992.5 L1064.7,992.3 L1066.3,992.6 L1067.9,992.4 L1069.5,992.6 L1071.1,992.4 L1072.7,992.8 L1074.3,992.6 L1075.9,993.1 L1077.5,993.4 L1079.1,993.3 L1080.7,993.7 L1082.3,994.3 L1083.8,992.8 L1085.4,993.6 L1087.0,993.5 L1088.6,993.6 L1090.2,993.4 L1091.8,994.0 L1093.4,994.0 L1095.0,993.9 L1096.6,994.1 L1098.2,994.1 L1099.8,993.6 L1101.4,994.9 L1103.0,994.5 L1104.6,994.3 L1106.2,994.8 L1107.8,994.6 L1109.4,994.1 L1111.0,995.3 L1112.6,994.5 L1114.2,995.1 L1115.8,995.2 L1117.4,995.7 L1119.0,995.8 L1120.6,995.5 L1122.2,995.2 L1123.8,995.4 L1125.4,996.0 L1127.0,996.3 L1128.6,995.9 L1130.2,995.6 L1131.8,996.2 L1133.4,995.8 L1135.0,995.8 L1136.6,995.9 L1138.2,996.3 L1139.8,996.2 L1141.4,996.5 L1143.0,996.7 L1144.6,996.5 L1146.2,995.5 L1147.8,995.8 L1149.3,996.5 L1150.9,996.5 L1152.5,997.3 L1154.1,996.6 L1155.7,996.6 L1157.3,997.1 L1158.9,997.2 L1160.5,996.8 L1162.1,997.1 L1163.7,996.6 L1165.3,996.7 L1166.9,997.5 L1168.5,996.6 L1170.1,997.5 L1171.7,997.5 L1173.3,997.6 L1174.9,997.7 L1176.5,997.6 L1178.1,996.7 L1179.7,997.2 L1181.3,997.4 L1182.9,998.0 L1184.5,997.3 L1186.1,997.5 L1187.7,997.7 L1189.3,998.3 L1190.9,997.4 L1192.5,997.5 L1194.1,998.3 L1195.7,997.3 L1197.3,998.3 L1198.9,998.0 L1200.5,997.7 L1202.1,998.2 L1203.7,998.0 L1205.3,998.5 L1206.9,998.6 L1208.5,999.1 L1210.1,998.6 L1211.7,998.7 L1213.3,998.5 L1214.9,998.8 L1216.5,999.2 L1218.1,998.2 L1219.7,999.2 L1221.3,998.9 L1222.9,999.2 L1224.5,999.3 L1226.1,999.6 L1227.7,999.4 L1229.3,999.3 L1230.9,999.6 L1232.5,999.6 L1234.1,999.5 L1235.7,999.8 L1237.3,1000.1 L1238.9,999.9 L1240.5,999.9 L1242.1,999.5 L1243.7,1000.0 L1245.3,999.4 L1246.9,1000.4 L1248.5,999.9 L1250.1,1000.7 L1251.7,1001.4 L1253.3,1000.3 L1254.9,1000.9 L1256.5,1000.7 L1258.0,1000.4 L1259.6,1000.3 L1261.2,1000.9 L1262.8,1001.3 L1264.4,1001.0 L1266.0,1000.4 L1267.6,1000.6 L1269.2,1001.0 L1270.8,1001.6 L1272.4,1001.3 L1274.0,1001.4 L1275.6,1001.7 L1277.2,1001.3 L1278.8,1001.5 L1280.4,1001.5 L1282.0,1001.0 L1283.6,1001.9 L1285.2,1002.0 L1286.8,1002.3 L1288.4,1001.6 L1290.0,1001.8 L1291.6,1002.5 L1293.2,1002.4 L1294.8,1002.9 L1296.4,1002.2 L1298.0,1002.7 L1299.6,1002.5 L1301.2,1003.0 L1302.8,1002.8 L1304.4,1003.2 L1306.0,1003.5 L1307.6,1003.5 L1309.2,1002.7 L1310.8,1003.8 L1312.4,1003.7 L1314.0,1003.3 L1315.6,1003.4 L1317.2,1003.8 L1318.8,1004.1 L1320.4,1003.8 L1322.0,1003.5 L1323.6,1004.2 L1325.2,1004.3 L1326.8,1005.1 L1328.4,1003.9 L1330.0,1005.3 L1331.6,1005.0 L1333.2,1004.6 L1334.8,1005.1 L1336.3,1004.6 L1337.9,1004.9 L1339.5,1004.4 L1341.1,1004.7 L1342.7,1004.3 L1344.3,1004.1 L1345.9,1004.6 L1347.5,1004.5 L1349.1,1005.0 L1350.7,1005.3 L1352.3,1004.8 L1353.9,1004.9 L1355.5,1005.0 L1357.1,1004.4 L1358.7,1005.1 L1360.3,1005.1 L1361.9,1005.1 L1363.5,1004.8 L1365.1,1004.6 L1366.7,1005.3 L1368.3,1005.5 L1369.9,1006.0 L1371.5,1006.0 L1373.1,1006.2 L1374.7,1005.9 L1376.3,1006.2 L1377.9,1005.9 L1379.5,1006.2 L1381.1,1006.4 L1382.7,1007.1 L1384.3,1006.4 L1385.9,1005.9 L1387.5,1006.9 L1389.1,1006.3 L1390.7,1006.6 L1392.3,1006.6 L1393.9,1006.5 L1395.5,1007.3 L1397.1,1007.1 L1398.7,1006.8 L1400.3,1007.1 L1401.9,1006.9 L1403.5,1007.3 L1405.1,1007.0 L1406.7,1007.0 L1408.3,1007.0 L1409.9,1007.1 L1411.5,1007.4 L1413.1,1007.0 L1414.7,1007.3 L1416.3,1007.6 L1417.9,1008.2 L1419.5,1007.7 L1421.1,1006.4 L1422.7,1007.3 L1424.3,1007.3 L1425.9,1007.6 L1427.5,1008.1 L1429.1,1007.8 L1430.7,1006.7 L1432.3,1007.6 L1433.9,1007.6 L1435.5,1007.7 L1437.1,1008.0 L1438.7,1007.2 L1440.3,1008.0 L1441.9,1007.0 L1443.5,1007.6 L1445.1,1007.7 L1446.7,1008.4 L1448.3,1007.4 L1449.9,1007.0 L1451.5,1007.9 L1453.1,1007.4 L1454.7,1008.2 L1456.3,1007.4 L1457.9,1007.4 L1459.5,1008.1 L1461.1,1007.7 L1462.7,1008.1 L1464.3,1007.3 L1465.9,1008.4 L1467.5,1007.6 L1469.1,1008.1 L1470.7,1007.5 L1472.3,1007.3 L1473.9,1007.8 L1475.5,1008.0 L1477.1,1008.6 L1478.7,1008.2 L1480.3,1008.3 L1481.9,1008.4 L1483.5,1009.3 L1485.1,1008.0 L1486.7,1008.7 L1488.3,1008.3 L1489.9,1008.5 L1491.5,1008.3 L1493.1,1008.9 L1494.7,1008.2 L1496.3,1008.2 L1497.9,1008.7 L1499.5,1008.4 L1501.1,1009.1 L1502.7,1009.3 L1504.3,1008.8 L1505.9,1009.4 L1507.5,1008.9 L1509.1,1009.2 L1510.7,1009.3 L1512.3,1010.0 L1513.9,1009.5 L1515.5,1009.2 L1517.1,1009.3 L1518.7,1009.2 L1520.3,1009.2 L1521.9,1009.7 L1523.5,1009.8 L1525.1,1009.1 L1526.7,1009.9 L1528.3,1010.5 L1529.9,1010.3 L1531.5,1009.9 L1533.1,1010.6 L1534.7,1010.6 L1536.3,1011.1 L1537.9,1010.2 L1539.5,1010.4 L1541.1,1010.6 L1542.7,1010.6 L1544.3,1010.7 L1545.9,1010.7 L1547.5,1010.5 L1549.1,1010.2 L1550.7,1010.6 L1552.3,1010.3 L1553.9,1010.5 L1555.5,1010.7 L1557.1,1011.1 L1558.7,1011.2 L1560.3,1010.6 L1561.9,1011.1 L1563.5,1011.2 L1565.1,1011.0 L1566.7,1010.4 L1568.3,1010.2 L1569.9,1011.3 L1571.5,1011.4 L1573.1,1011.1 L1574.7,1010.7 L1576.3,1011.6 L1577.9,1011.5 L1579.5,1011.1 L1581.1,1011.1 L1582.7,1010.5 L1584.3,1011.5 L1585.9,1010.7 L1587.5,1011.5 L1589.1,1011.5 L1590.7,1011.4 L1592.3,1011.9 L1593.9,1011.3 L1595.5,1011.6 L1597.1,1011.7 L1598.7,1011.6 L1600.3,1011.4 L1601.9,1012.0 L1603.5,1011.7 L1605.1,1011.6 L1606.7,1011.6 L1608.3,1011.7 L1609.9,1012.5 L1611.5,1011.8 L1613.1,1011.7 L1614.7,1011.4 L1616.3,1011.4 L1617.9,1011.2 L1619.5,1011.9 L1621.1,1011.9 L1622.7,1011.5 L1624.3,1011.3 L1625.9,1011.7 L1627.5,1011.7 L1629.1,1011.4 L1630.7,1012.0 L1632.3,1011.9 L1633.9,1011.8 L1635.5,1012.1 L1637.1,1011.6 L1638.7,1012.3 L1640.3,1011.5 L1641.9,1012.0 L1643.5,1012.0 L1645.1,1011.7 L1646.7,1011.9 L1648.3,1011.4 L1649.9,1011.3 L1651.5,1011.8 L1653.1,1011.6 L1654.7,1012.1 L1656.3,1011.9 L1657.9,1012.1 L1659.5,1012.1 L1661.0,1012.1 L1662.6,1012.1 L1664.2,1012.0 L1665.8,1012.0 L1667.4,1012.9 L1669.0,1011.6 L1670.6,1012.3 L1672.2,1012.7 L1673.8,1012.6 L1675.4,1013.0 L1677.0,1012.8 L1678.6,1012.3 L1680.2,1012.7 L1681.8,1012.4 L1683.4,1013.3 L1685.0,1013.5 L1686.6,1013.0 L1688.2,1013.4 L1689.8,1013.2 L1691.4,1012.9 L1693.0,1013.3 L1694.6,1013.0 L1696.2,1013.4 L1697.8,1013.8 L1699.4,1014.0 L1701.0,1014.3 L1702.6,1013.8 L1704.2,1014.1 L1705.8,1014.2 L1707.4,1014.3 L1709.0,1013.2 L1710.6,1014.0 L1712.2,1014.6 L1713.8,1014.0 L1715.4,1014.5 L1717.0,1014.8 L1718.6,1013.9 L1720.2,1014.5 L1721.8,1014.7 L1723.4,1014.7 L1725.0,1014.2 L1726.6,1014.9 L1728.2,1014.7 L1729.8,1015.2 L1731.4,1015.1 L1733.0,1014.9 L1734.6,1015.2 L1736.2,1015.0 L1737.8,1015.0 L1739.4,1014.8 L1741.0,1015.3 L1742.6,1015.8 L1744.2,1015.6 L1745.8,1015.7 L1747.4,1015.5 L1749.0,1015.7 L1750.6,1016.2 L1752.2,1015.5 L1753.8,1016.8 L1755.4,1016.2 L1757.0,1017.0 L1758.6,1016.8 L1760.2,1016.3 L1761.8,1016.8 L1763.4,1016.7 L1765.0,1016.8 L1766.6,1017.0 L1768.2,1016.7 L1769.8,1016.7 L1771.4,1016.9 L1773.0,1016.6 L1774.6,1017.0 L1776.2,1017.3 L1777.8,1017.4 L1779.4,1017.4 L1781.0,1017.3 L1782.6,1017.7 L1784.2,1016.8 L1785.8,1017.4 L1787.4,1017.5 L1789.0,1018.0 L1790.6,1018.0 L1792.2,1018.1 L1793.8,1017.8 L1795.4,1018.2 L1797.0,1017.6 L1798.6,1018.0 L1800.2,1017.2 L1801.8,1018.6 L1803.4,1018.6 L1805.0,1017.9 L1806.6,1017.8 L1808.2,1017.4 L1809.7,1017.7 L1811.3,1018.3 L1812.9,1018.2 L1814.5,1017.8 L1816.1,1018.1 L1817.7,1018.1 L1819.3,1018.5 L1820.9,1018.6 L1822.5,1018.3 L1824.1,1018.5 L1825.7,1018.5 L1827.3,1017.8 L1828.9,1018.6 L1830.5,1018.6 L1832.1,1018.9 L1833.7,1018.0 L1835.3,1019.0 L1836.9,1018.5 L1838.5,1018.9 L1840.1,1019.2 L1841.7,1018.4 L1843.3,1018.5 L1844.9,1019.3 L1846.5,1018.6 L1848.1,1018.8 L1849.7,1019.4 L1851.3,1019.1 L1852.9,1019.5 L1854.5,1019.4 L1856.1,1019.4 L1857.7,1019.8 L1859.3,1020.3 L1860.9,1019.6 L1862.5,1020.2 L1864.1,1020.1 L1865.7,1019.8 L1867.3,1020.0 L1868.9,1019.6 L1870.5,1019.8 L1872.1,1020.2 L1873.7,1020.1 L1875.3,1020.7 L1876.9,1019.8 L1878.5,1020.2 L1880.1,1020.2 L1881.7,1020.4 L1883.3,1020.9 L1884.9,1020.2 L1886.5,1020.9 L1888.1,1020.5 L1889.7,1020.6 L1891.3,1021.1 L1892.9,1020.7 L1894.5,1021.1 L1896.1,1021.0 L1897.7,1020.9 L1899.3,1020.9 L1900.9,1020.4 L1902.5,1020.8 L1904.1,1021.2 L1905.7,1021.2 L1907.3,1020.6 L1908.9,1021.5 L1910.5,1021.4 L1912.1,1020.8 L1913.7,1020.9 L1915.3,1021.4 L1916.9,1020.7 L1918.5,1021.0 L1920.1,1021.3 L1921.7,1021.2 L1923.3,1021.3 L1924.9,1021.4 L1926.5,1021.0 L1928.1,1021.1 L1929.7,1022.0 L1931.3,1020.8 L1932.9,1021.2 L1934.5,1021.4 L1936.1,1021.1 L1937.7,1021.7 L1939.3,1021.3 L1940.9,1021.6 L1942.5,1020.4 L1944.1,1021.7 L1945.7,1021.7 L1947.3,1021.1 L1948.9,1021.8 L1950.5,1021.4 L1952.1,1021.7 L1953.7,1022.0 L1955.3,1021.4 L1956.9,1021.0 L1958.5,1021.4 L1960.1,1020.9 L1961.7,1021.1 L1963.3,1021.2 L1964.9,1021.2 L1966.5,1021.9 L1968.1,1021.7 L1969.7,1021.2 L1971.3,1020.5 L1972.9,1020.9 L1974.5,1021.3 L1976.1,1021.5 L1977.7,1021.9 L1979.3,1021.8 L1980.9,1021.7 L1982.5,1022.0 L1984.1,1021.8 L1985.7,1022.0 L1987.3,1021.3 L1988.9,1021.0 L1990.5,1021.4 L1992.1,1021.9 L1992.2,1021.7" stroke="#f00" stroke-width="7.0"/>
<path d="M401.0,327.9 L401.2,329.5 L401.4,331.1 L401.5,332.7 L401.7,334.3 L401.9,335.8 L402.1,337.4 L402.3,339.0 L402.5,340.6 L402.7,342.2 L402.9,343.8 L403.1,345.4 L403.3,347.0 L403.5,348.6 L403.7,350.1 L403.9,351.7 L404.1,353.3 L404.3,354.9 L404.5,356.5 L404.7,358.1 L404.9,359.7 L405.1,361.2 L405.3,362.8 L405.6,364.4 L405.8,366.0 L406.0,367.6 L406.2,369.2 L406.5,370.7 L406.7,372.3 L406.9,373.9 L407.2,375.5 L407.4,377.1 L407.6,378.7 L407.9,380.2 L408.1,381.8 L408.4,383.4 L408.6,385.0 L408.8,386.6 L409.1,388.2 L409.3,389.7 L409.6,391.3 L409.8,392.9 L410.1,394.5 L410.3,396.1 L410.6,397.6 L410.9,399.2 L411.1,400.8 L411.4,402.4 L411.6,403.9 L411.9,405.5 L412.2,407.1 L412.4,408.7 L412.7,410.3 L413.0,411.8 L413.2,413.4 L413.5,415.0 L413.8,416.6 L414.1,418.1 L414.3,419.7 L414.6,421.3 L414.9,422.9 L415.2,424.4 L415.5,426.0 L415.7,427.6 L416.0,429.2 L416.3,430.7 L416.6,432.3 L416.9,433.9 L417.2,435.5 L417.4,437.0 L417.7,438.6 L418.0,440.2 L418.3,441.8 L418.6,443.3 L418.9,444.9 L419.2,446.5 L419.5,448.1 L419.8,449.6 L420.1,451.2 L420.4,452.8 L420.7,454.3 L420.9,455.9 L421.2,457.5 L421.5,459.1 L421.8,460.6 L422.1,462.2 L422.4,463.8 L422.7,465.4 L423.0,466.9 L423.3,468.5 L423.6,470.1 L423.9,471.6 L424.3,473.2 L424.6,474.8 L424.9,476.3 L425.2,477.9 L425.5,479.5 L425.8,481.1 L426.1,482.6 L426.4,484.2 L426.7,485.8 L427.0,487.3 L427.3,488.9 L427.7,490.5 L428.0,492.0 L428.3,493.6 L428.6,495.2 L429.0,496.7 L429.3,498.3 L429.6,499.9 L429.9,501.4 L430.3,503.0 L430.6,504.6 L431.0,506.1 L431.3,507.7 L431.7,509.3 L432.0,510.8 L432.4,512.4 L432.7,513.9 L433.1,515.5 L433.5,517.0 L433.8,518.6 L434.2,520.2 L434.6,521.7 L435.0,523.3 L435.4,524.8 L435.7,526.4 L436.1,527.9 L436.5,529.5 L436.9,531.0 L437.4,532.6 L437.8,534.1 L438.2,535.7 L438.6,537.2 L439.1,538.7 L439.5,540.3 L439.9,541.8 L440.4,543.3 L440.8,544.9 L441.3,546.4 L441.8,547.9 L442.2,549.5 L442.7,551.0 L443.2,552.5 L443.7,554.0 L444.2,555.6 L444.7,557.1 L445.2,558.6 L445.8,560.1 L446.3,561.6 L446.8,563.1 L447.4,564.6 L447.9,566.1 L448.5,567.6 L449.0,569.1 L449.6,570.6 L450.2,572.1 L450.8,573.6 L451.4,575.1 L452.0,576.6 L452.6,578.0 L453.2,579.5 L453.9,581.0 L454.5,582.4 L455.2,583.9 L455.8,585.4 L456.5,586.8 L457.2,588.3 L457.9,589.7 L458.6,591.2 L459.3,592.6 L460.0,594.0 L460.7,595.4 L461.4,596.9 L462.2,598.3 L462.9,599.7 L463.7,601.1 L464.5,602.5 L465.3,603.9 L466.1,605.3 L466.9,606.7 L467.7,608.0 L468.5,609.4 L469.4,610.8 L470.2,612.1 L471.1,613.5 L471.9,614.8 L472.8,616.2 L473.7,617.5 L474.6,618.8 L475.5,620.1 L476.4,621.4 L477.3,622.7 L478.3,624.0 L479.2,625.3 L480.2,626.6 L481.1,627.9 L482.1,629.2 L483.1,630.4 L484.1,631.7 L485.1,632.9 L486.1,634.2 L487.1,635.4 L488.2,636.6 L489.2,637.8 L490.2,639.1 L491.3,640.3 L492.4,641.5 L493.4,642.6 L494.5,643.8 L495.6,645.0 L496.7,646.2 L497.8,647.3 L498.9,648.5 L500.0,649.6 L501.2,650.7 L502.3,651.9 L503.4,653.0 L504.6,654.1 L505.7,655.2 L506.9,656.3 L508.1,657.4 L509.3,658.5 L510.5,659.5 L511.7,660.6 L512.9,661.6 L514.1,662.7 L515.3,663.7 L516.5,664.7 L517.8,665.8 L519.0,666.8 L520.3,667.8 L521.5,668.8 L522.8,669.7 L524.1,670.7 L525.3,671.7 L526.6,672.6 L527.9,673.6 L529.2,674.5 L530.5,675.4 L531.8,676.3 L533.1,677.2 L534.5,678.1 L535.8,679.0 L537.1,679.9 L538.5,680.8 L539.8,681.6 L541.2,682.5 L542.6,683.3 L543.9,684.1 L545.3,685.0 L546.7,685.8 L548.1,686.6 L549.5,687.4 L550.9,688.1 L552.3,688.9 L553.7,689.7 L555.1,690.4 L556.5,691.2 L557.9,691.9 L559.3,692.6 L560.8,693.3 L562.2,694.0 L563.7,694.7 L565.1,695.5 L566.6,696.1 L568.0,696.8 L569.5,697.5 L570.9,698.0 L572.4,698.8 L573.9,699.4 L575.3,699.9 L576.8,700.7 L578.3,701.4 L579.8,701.8 L581.2,702.2 L582.7,703.1 L584.2,704.0 L585.7,704.0 L587.2,704.6 L588.7,705.1 L590.2,706.1 L591.7,705.6 L593.2,706.9 L594.7,707.8 L596.2,707.5 L597.7,709.0 L599.2,709.1 L600.8,709.1 L602.3,710.0 L603.8,709.6 L605.3,710.6 L606.8,712.4 L608.4,711.3 L609.9,713.4 L611.4,712.8 L612.9,713.9 L614.5,713.8 L616.0,712.7 L617.5,714.3 L619.1,715.3 L620.6,714.8 L622.1,715.1 L623.7,716.7 L625.2,716.5 L626.8,716.2 L628.3,717.3 L629.8,718.9 L631.4,718.4 L632.9,719.8 L634.5,720.6 L636.0,720.0 L637.6,719.6 L639.1,719.9 L640.7,723.9 L642.2,722.3 L643.8,722.3 L645.3,722.9 L646.9,722.6 L648.4,723.6 L650.0,723.4 L651.6,723.9 L653.1,723.6 L654.7,723.8 L656.2,725.0 L657.8,724.9 L659.4,725.4 L660.9,726.9 L662.5,726.7 L664.1,729.2 L665.6,728.1 L667.2,727.4 L668.8,728.7 L670.3,728.8 L671.9,728.4 L673.5,729.9 L675.0,728.9 L676.6,727.7 L678.2,730.7 L679.7,730.0 L681.3,731.8 L682.9,730.6 L684.5,730.5 L686.0,732.7 L687.6,731.2 L689.2,732.4 L690.7,733.5 L692.3,732.9 L693.9,733.1 L695.5,733.5 L697.0,734.3 L698.6,733.4 L700.2,734.7 L701.8,735.0 L703.3,736.5 L704.9,734.9 L706.5,734.8 L708.1,736.2 L709.7,735.7 L711.2,736.4 L712.8,736.6 L714.4,737.6 L716.0,736.6 L717.6,737.2 L719.1,735.7 L720.7,737.2 L722.3,739.1 L723.9,737.8 L725.5,738.0 L727.0,737.9 L728.6,739.4 L730.2,739.4 L731.8,738.6 L733.4,740.2 L734.9,740.1 L736.5,740.7 L738.1,740.0 L739.7,741.9 L741.3,741.2 L742.9,741.0 L744.4,741.0 L746.0,741.4 L747.6,742.4 L749.2,741.8 L750.8,743.0 L752.4,742.9 L754.0,743.6 L755.5,743.5 L757.1,743.1 L758.7,742.0 L760.3,743.8 L761.9,744.3 L763.5,744.1 L765.1,744.6 L766.6,744.1 L768.2,744.3 L769.8,744.1 L771.4,745.9 L773.0,745.3 L774.6,745.0 L776.2,744.6 L777.7,745.6 L779.3,746.9 L780.9,748.5 L782.5,745.7 L784.1,747.4 L785.7,747.6 L787.3,747.4 L788.9,747.4 L790.4,747.8 L792.0,747.5 L793.6,747.8 L795.2,746.9 L796.8,748.6 L798.4,747.9 L800.0,749.3 L801.6,746.6 L803.2,748.6 L804.7,748.9 L806.3,748.1 L807.9,748.8 L809.5,749.2 L811.1,749.2 L812.7,748.6 L814.3,749.0 L815.9,750.0 L817.5,750.3 L819.1,749.6 L820.6,749.8 L822.2,750.0 L823.8,750.8 L825.4,749.5 L827.0,749.4 L828.6,750.6 L830.2,749.9 L831.8,750.5 L833.4,751.1 L835.0,751.6 L836.6,750.7 L838.1,752.2 L839.7,750.6 L841.3,752.4 L842.9,751.1 L844.5,751.6 L846.1,753.1 L847.7,752.6 L849.3,754.6 L850.9,753.0 L852.5,753.9 L854.0,753.8 L855.6,754.0 L857.2,755.0 L858.8,754.0 L860.4,754.4 L862.0,754.7 L863.6,756.1 L865.2,756.2 L866.8,756.7 L868.4,756.0 L870.0,756.2 L871.6,757.1 L873.1,756.5 L874.7,757.6 L876.3,757.7 L877.9,756.9 L879.5,757.6 L881.1,757.8 L882.7,759.3 L884.3,760.1 L885.9,758.4 L887.5,758.6 L889.1,757.2 L890.6,759.1 L892.2,759.1 L893.8,758.5 L895.4,759.9 L897.0,758.4 L898.6,759.5 L900.2,759.9 L901.8,759.0 L903.4,760.6 L905.0,760.9 L906.6,759.3 L908.2,759.4 L909.7,760.9 L911.3,760.6 L912.9,759.9 L914.5,760.7 L916.1,760.9 L917.7,761.0 L919.3,761.8 L920.9,761.7 L922.5,762.8 L924.1,762.6 L925.7,762.3 L927.3,762.7 L928.8,763.0 L930.4,762.8 L932.0,761.6 L933.6,763.2 L935.2,762.8 L936.8,764.0 L938.4,763.1 L940.0,763.6 L941.6,763.6 L943.2,764.7 L944.8,763.8 L946.4,763.7 L948.0,764.2 L949.5,763.9 L951.1,764.5 L952.7,764.5 L954.3,764.9 L955.9,766.2 L957.5,764.7 L959.1,765.2 L960.7,765.2 L962.3,768.1 L963.9,764.8 L965.5,765.3 L967.1,766.0 L968.7,766.5 L970.2,766.3 L971.8,766.1 L973.4,766.0 L975.0,767.1 L976.6,767.9 L978.2,767.3 L979.8,767.4 L981.4,767.7 L983.0,766.8 L984.6,767.4 L986.2,767.5 L987.8,768.1 L989.4,767.9 L991.0,767.2 L992.5,769.0 L994.1,769.4 L995.7,768.2 L997.3,768.7 L998.9,768.7 L1000.5,769.2 L1002.1,767.7 L1003.7,769.9 L1005.3,768.5 L1006.9,769.8 L1008.5,769.1 L1010.1,768.8 L1011.7,769.1 L1013.3,769.9 L1014.9,768.8 L1016.5,769.2 L1018.0,769.2 L1019.6,768.5 L1021.2,770.7 L1022.8,770.3 L1024.4,770.0 L1026.0,771.0 L1027.6,769.6 L1029.2,770.4 L1030.8,771.8 L1032.4,771.4 L1034.0,769.3 L1035.6,768.7 L1037.2,770.5 L1038.8,772.1 L1040.4,771.2 L1042.0,771.5 L1043.6,772.3 L1045.2,771.4 L1046.7,772.3 L1048.3,772.9 L1049.9,772.8 L1051.5,772.9 L1053.1,772.3 L1054.7,773.3 L1056.3,772.7 L1057.9,774.1 L1059.5,775.1 L1061.1,772.9 L1062.7,772.0 L1064.3,773.4 L1065.9,774.0 L1067.5,774.6 L1069.1,774.8 L1070.7,773.6 L1072.3,773.7 L1073.9,775.2 L1075.5,773.7 L1077.1,775.3 L1078.7,774.5 L1080.3,775.3 L1081.8,775.4 L1083.4,775.5 L1085.0,775.6 L1086.6,774.5 L1088.2,775.5 L1089.8,775.4 L1091.4,775.7 L1093.0,776.4 L1094.6,775.5 L1096.2,775.3 L1097.8,775.4 L1099.4,775.8 L1101.0,776.6 L1102.6,775.6 L1104.2,777.1 L1105.8,776.6 L1107.4,776.3 L1109.0,775.6 L1110.6,776.8 L1112.2,777.2 L1113.8,775.6 L1115.4,777.7 L1117.0,778.1 L1118.6,777.3 L1120.2,777.5 L1121.8,778.9 L1123.4,778.1 L1125.0,776.7 L1126.6,777.4 L1128.2,777.4 L1129.7,777.5 L1131.3,776.0 L1132.9,778.3 L1134.5,777.4 L1136.1,778.0 L1137.7,777.9 L1139.3,778.6 L1140.9,777.9 L1142.5,777.6 L1144.1,778.6 L1145.7,779.3 L1147.3,778.2 L1148.9,779.4 L1150.5,778.7 L1152.1,778.2 L1153.7,779.8 L1155.3,778.2 L1156.9,779.6 L1158.5,778.6 L1160.1,779.4 L1161.7,778.3 L1163.3,778.6 L1164.9,780.1 L1166.5,779.6 L1168.1,779.5 L1169.7,779.3 L1171.3,780.0 L1172.9,778.8 L1174.5,779.1 L1176.1,779.9 L1177.7,779.5 L1179.3,779.7 L1180.9,780.3 L1182.5,780.3 L1184.1,780.3 L1185.7,781.8 L1187.3,781.4 L1188.9,781.6 L1190.5,780.8 L1192.1,780.6 L1193.7,780.0 L1195.3,780.9 L1196.9,779.7 L1198.5,780.8 L1200.1,781.9 L1201.7,782.5 L1203.3,782.1 L1204.9,780.9 L1206.5,781.9 L1208.1,781.1 L1209.7,782.3 L1211.3,781.7 L1212.9,782.4 L1214.5,783.7 L1216.1,782.6 L1217.7,783.6 L1219.3,782.2 L1220.9,781.9 L1222.5,783.1 L1224.1,783.4 L1225.7,781.9 L1227.3,782.4 L1228.9,781.4 L1230.5,782.3 L1232.1,783.1 L1233.7,782.5 L1235.2,782.2 L1236.8,781.6 L1238.4,782.9 L1240.0,783.3 L1241.6,783.2 L1243.2,783.0 L1244.8,782.0 L1246.4,784.2 L1248.0,782.9 L1249.6,782.9 L1251.2,783.6 L1252.8,781.6 L1254.4,783.1 L1256.0,783.1 L1257.6,783.6 L1259.2,784.3 L1260.8,783.7 L1262.4,782.2 L1264.0,783.3 L1265.6,783.8 L1267.2,783.8 L1268.8,782.9 L1270.4,782.7 L1272.0,784.3 L1273.6,784.3 L1275.2,784.1 L1276.8,783.0 L1278.4,785.6 L1280.0,782.4 L1281.6,784.3 L1283.2,786.1 L1284.8,784.7 L1286.4,785.1 L1288.0,784.2 L1289.6,786.1 L1291.2,784.4 L1292.8,785.6 L1294.4,785.6 L1296.0,784.9 L1297.5,786.4 L1299.1,784.9 L1300.7,785.5 L1302.3,786.1 L1303.9,786.0 L1305.5,786.7 L1307.1,787.2 L1308.7,786.4 L1310.3,786.3 L1311.9,786.5 L1313.5,786.7 L1315.1,787.6 L1316.7,786.9 L1318.3,787.5 L1319.9,787.2 L1321.5,786.7 L1323.1,788.0 L1324.7,786.7 L1326.3,787.5 L1327.9,788.6 L1329.5,786.8 L1331.1,787.6 L1332.7,786.6 L1334.3,787.4 L1335.9,786.7 L1337.5,787.5 L1339.1,787.4 L1340.7,787.9 L1342.3,789.0 L1343.9,788.1 L1345.5,788.3 L1347.1,787.9 L1348.7,787.7 L1350.3,785.4 L1351.9,786.7 L1353.5,788.0 L1355.1,789.1 L1356.7,788.3 L1358.3,787.7 L1359.9,789.2 L1361.5,787.8 L1363.1,787.7 L1364.7,787.3 L1366.3,787.5 L1367.9,788.1 L1369.5,789.7 L1371.1,788.2 L1372.7,787.7 L1374.3,788.0 L1375.9,788.4 L1377.5,787.4 L1379.1,788.7 L1380.7,789.2 L1382.3,789.0 L1383.9,789.2 L1385.5,788.0 L1387.1,787.7 L1388.7,789.9 L1390.3,789.8 L1391.9,788.0 L1393.5,789.3 L1395.1,789.2 L1396.7,789.6 L1398.3,789.4 L1399.9,788.9 L1401.5,789.5 L1403.1,789.5 L1404.7,789.3 L1406.3,788.1 L1407.9,787.3 L1409.5,788.9 L1411.1,788.3 L1412.7,789.6 L1414.3,789.9 L1415.9,789.6 L1417.5,789.2 L1419.1,789.5 L1420.7,790.2 L1422.3,788.9 L1423.9,790.0 L1425.5,789.9 L1427.1,789.5 L1428.7,790.4 L1430.3,788.8 L1431.9,790.0 L1433.5,788.7 L1435.1,788.8 L1436.7,788.5 L1438.3,789.6 L1439.9,788.6 L1441.5,789.3 L1443.1,788.5 L1444.7,790.0 L1446.3,790.5 L1447.9,789.4 L1449.5,790.4 L1451.1,789.7 L1452.7,790.8 L1454.3,789.4 L1455.9,788.2 L1457.5,790.4 L1459.1,789.3 L1460.7,788.6 L1462.3,788.9 L1463.9,788.3 L1465.5,789.3 L1467.1,788.7 L1468.7,790.5 L1470.3,790.0 L1471.9,788.4 L1473.5,788.6 L1475.1,789.2 L1476.7,788.3 L1478.3,789.7 L1479.9,789.7 L1481.5,789.3 L1483.1,792.1 L1484.7,790.3 L1486.3,791.0 L1487.9,791.1 L1489.5,790.1 L1491.1,790.8 L1492.7,789.7 L1494.3,790.6 L1495.9,789.7 L1497.5,791.0 L1499.1,789.6 L1500.7,789.9 L1502.3,790.7 L1503.9,791.2 L1505.5,789.8 L1507.1,790.6 L1508.7,791.1 L1510.3,791.3 L1511.9,790.7 L1513.5,791.4 L1515.1,791.3 L1516.7,792.5 L1518.3,792.0 L1519.9,790.8 L1521.5,790.3 L1523.1,792.0 L1524.7,792.9 L1526.3,792.3 L1527.8,792.9 L1529.4,792.0 L1531.0,791.5 L1532.6,793.1 L1534.2,792.7 L1535.8,793.2 L1537.4,791.9 L1539.0,793.0 L1540.6,792.5 L1542.2,793.6 L1543.8,792.7 L1545.4,792.7 L1547.0,792.8 L1548.6,794.1 L1550.2,793.3 L1551.8,792.8 L1553.4,792.6 L1555.0,792.6 L1556.6,794.4 L1558.2,792.1 L1559.8,792.8 L1561.4,793.8 L1563.0,794.2 L1564.6,793.3 L1566.2,793.9 L1567.8,793.9 L1569.4,794.1 L1571.0,793.4 L1572.6,794.5 L1574.2,793.5 L1575.8,794.4 L1577.4,792.6 L1579.0,794.0 L1580.6,792.5 L1582.2,792.3 L1583.8,793.7 L1585.4,792.8 L1587.0,793.7 L1588.6,792.7 L1590.2,794.6 L1591.8,793.5 L1593.4,792.7 L1595.0,793.7 L1596.6,794.2 L1598.2,793.1 L1599.8,794.0 L1601.4,795.1 L1603.0,791.4 L1604.6,793.8 L1606.2,793.4 L1607.8,794.3 L1609.4,792.9 L1611.0,791.9 L1612.6,793.6 L1614.2,795.2 L1615.8,795.4 L1617.4,794.3 L1619.0,793.6 L1620.6,793.6 L1622.2,794.8 L1623.8,793.9 L1625.4,794.2 L1627.0,794.6 L1628.6,794.8 L1630.2,794.8 L1631.8,794.9 L1633.4,795.8 L1635.0,796.2 L1636.6,793.9 L1638.2,797.0 L1639.8,795.3 L1641.4,796.2 L1643.0,794.9 L1644.6,795.7 L1646.2,795.7 L1647.8,795.8 L1649.4,796.4 L1651.0,796.3 L1652.6,795.3 L1654.2,796.0 L1655.8,796.7 L1657.4,796.8 L1659.0,796.1 L1660.6,796.3 L1662.2,796.5 L1663.8,795.9 L1665.4,795.9 L1667.0,798.0 L1668.6,796.7 L1670.2,797.1 L1671.8,796.6 L1673.4,798.2 L1675.0,798.6 L1676.6,797.3 L1678.2,797.9 L1679.7,797.1 L1681.3,798.9 L1682.9,798.4 L1684.5,797.2 L1686.1,798.8 L1687.7,798.2 L1689.3,798.3 L1690.9,798.3 L1692.5,797.7 L1694.1,797.8 L1695.7,798.7 L1697.3,798.3 L1698.9,797.7 L1700.5,799.9 L1702.1,798.4 L1703.7,798.2 L1705.3,798.1 L1706.9,799.2 L1708.5,799.4 L1710.1,798.9 L1711.7,799.4 L1713.3,797.8 L1714.9,798.7 L1716.5,798.6 L1718.1,799.0 L1719.7,799.4 L1721.3,797.7 L1722.9,801.3 L1724.5,798.5 L1726.1,799.4 L1727.7,799.8 L1729.3,799.8 L1730.9,799.4 L1732.5,797.2 L1734.1,798.5 L1735.7,799.8 L1737.3,798.6 L1738.9,798.6 L1740.5,797.7 L1742.1,800.2 L1743.7,799.7 L1745.3,798.7 L1746.9,799.2 L1748.5,799.2 L1750.1,798.5 L1751.7,799.1 L1753.3,799.5 L1754.9,799.7 L1756.5,800.2 L1758.1,799.3 L1759.7,799.0 L1761.3,799.6 L1762.9,798.8 L1764.5,798.4 L1766.1,800.1 L1767.7,799.1 L1769.3,799.4 L1770.9,799.8 L1772.5,798.6 L1774.1,799.9 L1775.7,799.8 L1777.3,799.4 L1778.9,799.8 L1780.5,799.0 L1782.1,798.0 L1783.7,799.4 L1785.3,799.0 L1786.9,800.3 L1788.5,799.9 L1790.1,799.4 L1791.7,799.9 L1793.3,800.8 L1794.9,800.7 L1796.5,800.2 L1798.1,800.3 L1799.7,799.9 L1801.3,800.1 L1802.9,800.6 L1804.5,800.2 L1806.1,800.5 L1807.7,799.6 L1809.3,799.3 L1810.9,799.3 L1812.5,800.3 L1814.1,801.6 L1815.7,801.5 L1817.3,800.1 L1818.9,799.7 L1820.5,801.5 L1822.1,801.3 L1823.7,800.1 L1825.3,801.9 L1826.9,801.3 L1828.5,802.2 L1830.1,801.6 L1831.7,802.1 L1833.3,801.8 L1834.9,801.0 L1836.5,801.5 L1838.1,801.3 L1839.7,802.4 L1841.3,801.2 L1842.9,800.9 L1844.5,802.5 L1846.1,802.9 L1847.7,803.2 L1849.3,803.0 L1850.9,801.2 L1852.5,801.9 L1854.1,802.0 L1855.7,802.4 L1857.3,800.9 L1858.9,802.5 L1860.5,802.7 L1862.1,801.9 L1863.7,802.6 L1865.3,803.4 L1866.9,802.6 L1868.5,803.3 L1870.1,803.2 L1871.7,802.8 L1873.3,802.8 L1874.9,802.2 L1876.5,803.3 L1878.1,802.1 L1879.7,801.9 L1881.3,802.9 L1882.9,801.9 L1884.5,802.7 L1886.1,803.1 L1887.7,802.4 L1889.3,802.4 L1890.9,802.9 L1892.5,802.8 L1894.1,801.2 L1895.7,801.4 L1897.3,803.2 L1898.9,802.6 L1900.5,800.9 L1902.1,801.4 L1903.7,802.4 L1905.3,801.7 L1906.9,802.7 L1908.5,802.5 L1910.1,802.8 L1911.7,801.7 L1913.3,803.0 L1914.9,804.0 L1916.5,802.1 L1918.1,803.6 L1919.7,803.4 L1921.3,803.2 L1922.9,802.8 L1924.5,802.0 L1926.1,802.3 L1927.7,803.4 L1929.3,803.6 L1930.9,803.8 L1932.5,803.7 L1934.1,803.7 L1935.7,802.8 L1937.3,802.3 L1938.9,803.3 L1940.5,803.5 L1942.1,803.3 L1943.7,802.2 L1945.3,802.9 L1946.9,802.3 L1948.5,803.4 L1950.1,802.6 L1951.7,803.3 L1953.3,806.0 L1954.9,803.6 L1956.4,804.5 L1958.0,802.8 L1959.6,802.1 L1961.2,804.4 L1962.8,804.7 L1964.4,804.8 L1966.0,804.1 L1967.6,804.3 L1969.2,804.1 L1970.8,803.2 L1972.4,803.7 L1974.0,804.6 L1975.6,803.9 L1977.2,805.7 L1978.8,803.3 L1980.4,804.2 L1982.0,805.3 L1983.6,804.2 L1985.2,803.9 L1986.8,803.8 L1988.4,804.3 L1990.0,805.9 L1990.7,805.2" stroke="#00f"/>
<path d="M581.2,702.2 L582.7,703.1 L584.2,704.0 L585.7,704.0 L587.2,704.6 L588.7,705.1 L590.2,706.1 L591.7,705.6 L593.2,706.9 L594.7,707.8 L596.2,707.5 L597.7,709.0 L599.2,709.1 L600.8,709.1 L602.3,710.0 L603.8,709.6 L605.3,710.6 L606.8,712.4 L608.4,711.3 L609.9,713.4 L611.4,712.8 L612.9,713.9 L614.5,713.8 L616.0,712.7 L617.5,714.3 L619.1,715.3 L620.6,714.8 L622.1,715.1 L623.7,716.7 L625.2,716.5 L626.8,716.2 L628.3,717.3 L629.8,718.9 L631.4,718.4 L632.9,719.8 L634.5,720.6 L636.0,720.0 L637.6,719.6 L639.1,719.9 L640.7,723.9 L642.2,722.3 L643.8,722.3 L645.3,722.9 L646.9,722.6 L648.4,723.6 L650.0,723.4 L651.6,723.9 L653.1,723.6 L654.7,723.8 L656.2,725.0 L657.8,724.9 L659.4,725.4 L660.9,726.9 L662.5,726.7 L664.1,729.2 L665.6,728.1 L667.2,727.4 L668.8,728.7 L670.3,728.8 L671.9,728.4 L673.5,729.9 L675.0,728.9 L676.6,727.7 L678.2,730.7 L679.7,730.0 L681.3,731.8 L682.9,730.6 L684.5,730.5 L686.0,732.7 L687.6,731.2 L689.2,732.4 L690.7,733.5 L692.3,732.9 L693.9,733.1 L695.5,733.5 L697.0,734.3 L698.6,733.4 L700.2,734.7 L701.8,735.0 L703.3,736.5 L704.9,734.9 L706.5,734.8 L708.1,736.2 L709.7,735.7 L711.2,736.4 L712.8,736.6 L714.4,737.6 L716.0,736.6 L717.6,737.2 L719.1,735.7 L720.7,737.2 L722.3,739.1 L723.9,737.8 L725.5,738.0 L727.0,737.9 L728.6,739.4 L730.2,739.4 L731.8,738.6 L733.4,740.2 L734.9,740.1 L736.5,740.7 L738.1,740.0 L739.7,741.9 L741.3,741.2 L742.9,741.0 L744.4,741.0 L746.0,741.4 L747.6,742.4 L749.2,741.8 L750.8,743.0 L752.4,742.9 L754.0,743.6 L755.5,743.5 L757.1,743.1 L758.7,742.0 L760.3,743.8 L761.9,744.3 L763.5,744.1 L765.1,744.6 L766.6,744.1 L768.2,744.3 L769.8,744.1 L771.4,745.9 L773.0,745.3 L774.6,745.0 L776.2,744.6 L777.7,745.6 L779.3,746.9 L780.9,748.5 L782.5,745.7 L784.1,747.4 L785.7,747.6 L787.3,747.4 L788.9,747.4 L790.4,747.8 L792.0,747.5 L793.6,747.8 L795.2,746.9 L796.8,748.6 L798.4,747.9 L800.0,749.3 L801.6,746.6 L803.2,748.6 L804.7,748.9 L806.3,748.1 L807.9,748.8 L809.5,749.2 L811.1,749.2 L812.7,748.6 L814.3,749.0 L815.9,750.0 L817.5,750.3 L819.1,749.6 L820.6,749.8 L822.2,750.0 L823.8,750.8 L825.4,749.5 L827.0,749.4 L828.6,750.6 L830.2,749.9 L831.8,750.5 L833.4,751.1 L835.0,751.6 L836.6,750.7 L838.1,752.2 L839.7,750.6 L841.3,752.4 L842.9,751.1 L844.5,751.6 L846.1,753.1 L847.7,752.6 L849.3,754.6 L850.9,753.0 L852.5,753.9 L854.0,753.8 L855.6,754.0 L857.2,755.0 L858.8,754.0 L860.4,754.4 L862.0,754.7 L863.6,756.1 L865.2,756.2 L866.8,756.7 L868.4,756.0 L870.0,756.2 L871.6,757.1 L873.1,756.5 L874.7,757.6 L876.3,757.7 L877.9,756.9 L879.5,757.6 L881.1,757.8 L882.7,759.3 L884.3,760.1 L885.9,758.4 L887.5,758.6 L889.1,757.2 L890.6,759.1 L892.2,759.1 L893.8,758.5 L895.4,759.9 L897.0,758.4 L898.6,759.5 L900.2,759.9 L901.8,759.0 L903.4,760.6 L905.0,760.9 L906.6,759.3 L908.2,759.4 L909.7,760.9 L911.3,760.6 L912.9,759.9 L914.5,760.7 L916.1,760.9 L917.7,761.0 L919.3,761.8 L920.9,761.7 L922.5,762.8 L924.1,762.6 L925.7,762.3 L927.3,762.7 L928.8,763.0 L930.4,762.8 L932.0,761.6 L933.6,763.2 L935.2,762.8 L936.8,764.0 L938.4,763.1 L940.0,763.6 L941.6,763.6 L943.2,764.7 L944.8,763.8 L946.4,763.7 L948.0,764.2 L949.5,763.9 L951.1,764.5 L952.7,764.5 L954.3,764.9 L955.9,766.2 L957.5,764.7 L959.1,765.2 L960.7,765.2 L962.3,768.1 L963.9,764.8 L965.5,765.3 L967.1,766.0 L968.7,766.5 L970.2,766.3 L971.8,766.1 L973.4,766.0 L975.0,767.1 L976.6,767.9 L978.2,767.3 L979.8,767.4 L981.4,767.7 L983.0,766.8 L984.6,767.4 L986.2,767.5 L987.8,768.1 L989.4,767.9 L991.0,767.2 L992.5,769.0 L994.1,769.4 L995.7,768.2 L997.3,768.7 L998.9,768.7 L1000.5,769.2 L1002.1,767.7 L1003.7,769.9 L1005.3,768.5 L1006.9,769.8 L1008.5,769.1 L1010.1,768.8 L1011.7,769.1 L1013.3,769.9 L1014.9,768.8 L1016.5,769.2 L1018.0,769.2 L1019.6,768.5 L1021.2,770.7 L1022.8,770.3 L1024.4,770.0 L1026.0,771.0 L1027.6,769.6 L1029.2,770.4 L1030.8,771.8 L1032.4,771.4 L1034.0,769.3 L1035.6,768.7 L1037.2,770.5 L1038.8,772.1 L1040.4,771.2 L1042.0,771.5 L1043.6,772.3 L1045.2,771.4 L1046.7,772.3 L1048.3,772.9 L1049.9,772.8 L1051.5,772.9 L1053.1,772.3 L1054.7,773.3 L1056.3,772.7 L1057.9,774.1 L1059.5,775.1 L1061.1,772.9 L1062.7,772.0 L1064.3,773.4 L1065.9,774.0 L1067.5,774.6 L1069.1,774.8 L1070.7,773.6 L1072.3,773.7 L1073.9,775.2 L1075.5,773.7 L1077.1,775.3 L1078.7,774.5 L1080.3,775.3 L1081.8,775.4 L1083.4,775.5 L1085.0,775.6 L1086.6,774.5 L1088.2,775.5 L1089.8,775.4 L1091.4,775.7 L1093.0,776.4 L1094.6,775.5 L1096.2,775.3 L1097.8,775.4 L1099.4,775.8 L1101.0,776.6 L1102.6,775.6 L1104.2,777.1 L1105.8,776.6 L1107.4,776.3 L1109.0,775.6 L1110.6,776.8 L1112.2,777.2 L1113.8,775.6 L1115.4,777.7 L1117.0,778.1 L1118.6,777.3 L1120.2,777.5 L1121.8,778.9 L1123.4,778.1 L1125.0,776.7 L1126.6,777.4 L1128.2,777.4 L1129.7,777.5 L1131.3,776.0 L1132.9,778.3 L1134.5,777.4 L1136.1,778.0 L1137.7,777.9 L1139.3,778.6 L1140.9,777.9 L1142.5,777.6 L1144.1,778.6 L1145.7,779.3 L1147.3,778.2 L1148.9,779.4 L1150.5,778.7 L1152.1,778.2 L1153.7,779.8 L1155.3,778.2 L1156.9,779.6 L1158.5,778.6 L1160.1,779.4 L1161.7,778.3 L1163.3,778.6 L1164.9,780.1 L1166.5,779.6 L1168.1,779.5 L1169.7,779.3 L1171.3,780.0 L1172.9,778.8 L1174.5,779.1 L1176.1,779.9 L1177.7,779.5 L1179.3,779.7 L1180.9,780.3 L1182.5,780.3 L1184.1,780.3 L1185.7,781.8 L1187.3,781.4 L1188.9,781.6 L1190.5,780.8 L1192.1,780.6 L1193.7,780.0 L1195.3,780.9 L1196.9,779.7 L1198.5,780.8 L1200.1,781.9 L1201.7,782.5 L1203.3,782.1 L1204.9,780.9 L1206.5,781.9 L1208.1,781.1 L1209.7,782.3 L1211.3,781.7 L1212.9,782.4 L1214.5,783.7 L1216.1,782.6 L1217.7,783.6 L1219.3,782.2 L1220.9,781.9 L1222.5,783.1 L1224.1,783.4 L1225.7,781.9 L1227.3,782.4 L1228.9,781.4 L1230.5,782.3 L1232.1,783.1 L1233.7,782.5 L1235.2,782.2 L1236.8,781.6 L1238.4,782.9 L1240.0,783.3 L1241.6,783.2 L1243.2,783.0 L1244.8,782.0 L1246.4,784.2 L1248.0,782.9 L1249.6,782.9 L1251.2,783.6 L1252.8,781.6 L1254.4,783.1 L1256.0,783.1 L1257.6,783.6 L1259.2,784.3 L1260.8,783.7 L1262.4,782.2 L1264.0,783.3 L1265.6,783.8 L1267.2,783.8 L1268.8,782.9 L1270.4,782.7 L1272.0,784.3 L1273.6,784.3 L1275.2,784.1 L1276.8,783.0 L1278.4,785.6 L1280.0,782.4 L1281.6,784.3 L1283.2,786.1 L1284.8,784.7 L1286.4,785.1 L1288.0,784.2 L1289.6,786.1 L1291.2,784.4 L1292.8,785.6 L1294.4,785.6 L1296.0,784.9 L1297.5,786.4 L1299.1,784.9 L1300.7,785.5 L1302.3,786.1 L1303.9,786.0 L1305.5,786.7 L1307.1,787.2 L1308.7,786.4 L1310.3,786.3 L1311.9,786.5 L1313.5,786.7 L1315.1,787.6 L1316.7,786.9 L1318.3,787.5 L1319.9,787.2 L1321.5,786.7 L1323.1,788.0 L1324.7,786.7 L1326.3,787.5 L1327.9,788.6 L1329.5,786.8 L1331.1,787.6 L1332.7,786.6 L1334.3,787.4 L1335.9,786.7 L1337.5,787.5 L1339.1,787.4 L1340.7,787.9 L1342.3,789.0 L1343.9,788.1 L1345.5,788.3 L1347.1,787.9 L1348.7,787.7 L1350.3,785.4 L1351.9,786.7 L1353.5,788.0 L1355.1,789.1 L1356.7,788.3 L1358.3,787.7 L1359.9,789.2 L1361.5,787.8 L1363.1,787.7 L1364.7,787.3 L1366.3,787.5 L1367.9,788.1 L1369.5,789.7 L1371.1,788.2 L1372.7,787.7 L1374.3,788.0 L1375.9,788.4 L1377.5,787.4 L1379.1,788.7 L1380.7,789.2 L1382.3,789.0 L1383.9,789.2 L1385.5,788.0 L1387.1,787.7 L1388.7,789.9 L1390.3,789.8 L1391.9,788.0 L1393.5,789.3 L1395.1,789.2 L1396.7,789.6 L1398.3,789.4 L1399.9,788.9 L1401.5,789.5 L1403.1,789.5 L1404.7,789.3 L1406.3,788.1 L1407.9,787.3 L1409.5,788.9 L1411.1,788.3 L1412.7,789.6 L1414.3,789.9 L1415.9,789.6 L1417.5,789.2 L1419.1,789.5 L1420.7,790.2 L1422.3,788.9 L1423.9,790.0 L1425.5,789.9 L1427.1,789.5 L1428.7,790.4 L1430.3,788.8 L1431.9,790.0 L1433.5,788.7 L1435.1,788.8 L1436.7,788.5 L1438.3,789.6 L1439.9,788.6 L1441.5,789.3 L1443.1,788.5 L1444.7,790.0 L1446.3,790.5 L1447.9,789.4 L1449.5,790.4 L1451.1,789.7 L1452.7,790.8 L1454.3,789.4 L1455.9,788.2 L1457.5,790.4 L1459.1,789.3 L1460.7,788.6 L1462.3,788.9 L1463.9,788.3 L1465.5,789.3 L1467.1,788.7 L1468.7,790.5 L1470.3,790.0 L1471.9,788.4 L1473.5,788.6 L1475.1,789.2 L1476.7,788.3 L1478.3,789.7 L1479.9,789.7 L1481.5,789.3 L1483.1,792.1 L1484.7,790.3 L1486.3,791.0 L1487.9,791.1 L1489.5,790.1 L1491.1,790.8 L1492.7,789.7 L1494.3,790.6 L1495.9,789.7 L1497.5,791.0 L1499.1,789.6 L1500.7,789.9 L1502.3,790.7 L1503.9,791.2 L1505.5,789.8 L1507.1,790.6 L1508.7,791.1 L1510.3,791.3 L1511.9,790.7 L1513.5,791.4 L1515.1,791.3 L1516.7,792.5 L1518.3,792.0 L1519.9,790.8 L1521.5,790.3 L1523.1,792.0 L1524.7,792.9 L1526.3,792.3 L1527.8,792.9 L1529.4,792.0 L1531.0,791.5 L1532.6,793.1 L1534.2,792.7 L1535.8,793.2 L1537.4,791.9 L1539.0,793.0 L1540.6,792.5 L1542.2,793.6 L1543.8,792.7 L1545.4,792.7 L1547.0,792.8 L1548.6,794.1 L1550.2,793.3 L1551.8,792.8 L1553.4,792.6 L1555.0,792.6 L1556.6,794.4 L1558.2,792.1 L1559.8,792.8 L1561.4,793.8 L1563.0,794.2 L1564.6,793.3 L1566.2,793.9 L1567.8,793.9 L1569.4,794.1 L1571.0,793.4 L1572.6,794.5 L1574.2,793.5 L1575.8,794.4 L1577.4,792.6 L1579.0,794.0 L1580.6,792.5 L1582.2,792.3 L1583.8,793.7 L1585.4,792.8 L1587.0,793.7 L1588.6,792.7 L1590.2,794.6 L1591.8,793.5 L1593.4,792.7 L1595.0,793.7 L1596.6,794.2 L1598.2,793.1 L1599.8,794.0 L1601.4,795.1 L1603.0,791.4 L1604.6,793.8 L1606.2,793.4 L1607.8,794.3 L1609.4,792.9 L1611.0,791.9 L1612.6,793.6 L1614.2,795.2 L1615.8,795.4 L1617.4,794.3 L1619.0,793.6 L1620.6,793.6 L1622.2,794.8 L1623.8,793.9 L1625.4,794.2 L1627.0,794.6 L1628.6,794.8 L1630.2,794.8 L1631.8,794.9 L1633.4,795.8 L1635.0,796.2 L1636.6,793.9 L1638.2,797.0 L1639.8,795.3 L1641.4,796.2 L1643.0,794.9 L1644.6,795.7 L1646.2,795.7 L1647.8,795.8 L1649.4,796.4 L1651.0,796.3 L1652.6,795.3 L1654.2,796.0 L1655.8,796.7 L1657.4,796.8 L1659.0,796.1 L1660.6,796.3 L1662.2,796.5 L1663.8,795.9 L1665.4,795.9 L1667.0,798.0 L1668.6,796.7 L1670.2,797.1 L1671.8,796.6 L1673.4,798.2 L1675.0,798.6 L1676.6,797.3 L1678.2,797.9 L1679.7,797.1 L1681.3,798.9 L1682.9,798.4 L1684.5,797.2 L1686.1,798.8 L1687.7,798.2 L1689.3,798.3 L1690.9,798.3 L1692.5,797.7 L1694.1,797.8 L1695.7,798.7 L1697.3,798.3 L1698.9,797.7 L1700.5,799.9 L1702.1,798.4 L1703.7,798.2 L1705.3,798.1 L1706.9,799.2 L1708.5,799.4 L1710.1,798.9 L1711.7,799.4 L1713.3,797.8 L1714.9,798.7 L1716.5,798.6 L1718.1,799.0 L1719.7,799.4 L1721.3,797.7 L1722.9,801.3 L1724.5,798.5 L1726.1,799.4 L1727.7,799.8 L1729.3,799.8 L1730.9,799.4 L1732.5,797.2 L1734.1,798.5 L1735.7,799.8 L1737.3,798.6 L1738.9,798.6 L1740.5,797.7 L1742.1,800.2 L1743.7,799.7 L1745.3,798.7 L1746.9,799.2 L1748.5,799.2 L1750.1,798.5 L1751.7,799.1 L1753.3,799.5 L1754.9,799.7 L1756.5,800.2 L1758.1,799.3 L1759.7,799.0 L1761.3,799.6 L1762.9,798.8 L1764.5,798.4 L1766.1,800.1 L1767.7,799.1 L1769.3,799.4 L1770.9,799.8 L1772.5,798.6 L1774.1,799.9 L1775.7,799.8 L1777.3,799.4 L1778.9,799.8 L1780.5,799.0 L1782.1,798.0 L1783.7,799.4 L1785.3,799.0 L1786.9,800.3 L1788.5,799.9 L1790.1,799.4 L1791.7,799.9 L1793.3,800.8 L1794.9,800.7 L1796.5,800.2 L1798.1,800.3 L1799.7,799.9 L1801.3,800.1 L1802.9,800.6 L1804.5,800.2 L1806.1,800.5 L1807.7,799.6 L1809.3,799.3 L1810.9,799.3 L1812.5,800.3 L1814.1,801.6 L1815.7,801.5 L1817.3,800.1 L1818.9,799.7 L1820.5,801.5 L1822.1,801.3 L1823.7,800.1 L1825.3,801.9 L1826.9,801.3 L1828.5,802.2 L1830.1,801.6 L1831.7,802.1 L1833.3,801.8 L1834.9,801.0 L1836.5,801.5 L1838.1,801.3 L1839.7,802.4 L1841.3,801.2 L1842.9,800.9 L1844.5,802.5 L1846.1,802.9 L1847.7,803.2 L1849.3,803.0 L1850.9,801.2 L1852.5,801.9 L1854.1,802.0 L1855.7,802.4 L1857.3,800.9 L1858.9,802.5 L1860.5,802.7 L1862.1,801.9 L1863.7,802.6 L1865.3,803.4 L1866.9,802.6 L1868.5,803.3 L1870.1,803.2 L1871.7,802.8 L1873.3,802.8 L1874.9,802.2 L1876.5,803.3 L1878.1,802.1 L1879.7,801.9 L1881.3,802.9 L1882.9,801.9 L1884.5,802.7 L1886.1,803.1 L1887.7,802.4 L1889.3,802.4 L1890.9,802.9 L1892.5,802.8 L1894.1,801.2 L1895.7,801.4 L1897.3,803.2 L1898.9,802.6 L1900.5,800.9 L1902.1,801.4 L1903.7,802.4 L1905.3,801.7 L1906.9,802.7 L1908.5,802.5 L1910.1,802.8 L1911.7,801.7 L1913.3,803.0 L1914.9,804.0 L1916.5,802.1 L1918.1,803.6 L1919.7,803.4 L1921.3,803.2 L1922.9,802.8 L1924.5,802.0 L1926.1,802.3 L1927.7,803.4 L1929.3,803.6 L1930.9,803.8 L1932.5,803.7 L1934.1,803.7 L1935.7,802.8 L1937.3,802.3 L1938.9,803.3 L1940.5,803.5 L1942.1,803.3 L1943.7,802.2 L1945.3,802.9 L1946.9,802.3 L1948.5,803.4 L1950.1,802.6 L1951.7,803.3 L1953.3,806.0 L1954.9,803.6 L1956.4,804.5 L1958.0,802.8 L1959.6,802.1 L1961.2,804.4 L1962.8,804.7 L1964.4,804.8 L1966.0,804.1 L1967.6,804.3 L1969.2,804.1 L1970.8,803.2 L1972.4,803.7 L1974.0,804.6 L1975.6,803.9 L1977.2,805.7 L1978.8,803.3 L1980.4,804.2 L1982.0,805.3 L1983.6,804.2 L1985.2,803.9 L1986.8,803.8 L1988.4,804.3 L1990.0,805.9 L1990.7,805.2" stroke="#00f" stroke-width="7.0"/>
<path d="M401.1,338.1 L401.5,339.7 L402.0,341.2 L402.4,342.7 L402.9,344.3 L403.3,345.8 L403.8,347.3 L404.2,348.9 L404.7,350.4 L405.1,352.0 L405.5,353.5 L405.9,355.0 L406.4,356.6 L406.8,358.1 L407.2,359.7 L407.6,361.2 L408.0,362.8 L408.4,364.3 L408.8,365.9 L409.3,367.4 L409.7,369.0 L410.1,370.5 L410.5,372.1 L410.9,373.6 L411.3,375.1 L411.7,376.7 L412.1,378.2 L412.5,379.8 L412.9,381.3 L413.3,382.9 L413.7,384.4 L414.1,386.0 L414.6,387.5 L415.0,389.1 L415.4,390.6 L415.8,392.2 L416.2,393.7 L416.6,395.2 L417.1,396.8 L417.5,398.3 L417.9,399.9 L418.4,401.4 L418.8,403.0 L419.2,404.5 L419.7,406.0 L420.1,407.6 L420.6,409.1 L421.0,410.6 L421.5,412.2 L422.0,413.7 L422.4,415.2 L422.9,416.7 L423.4,418.3 L423.9,419.8 L424.4,421.3 L424.9,422.8 L425.4,424.4 L425.9,425.9 L426.4,427.4 L426.9,428.9 L427.5,430.4 L428.0,431.9 L428.6,433.4 L429.1,434.9 L429.7,436.4 L430.2,437.9 L430.8,439.4 L431.4,440.9 L432.0,442.4 L432.6,443.9 L433.2,445.3 L433.8,446.8 L434.5,448.3 L435.1,449.7 L435.8,451.2 L436.4,452.7 L437.1,454.1 L437.8,455.6 L438.5,457.0 L439.2,458.4 L439.9,459.9 L440.6,461.3 L441.3,462.7 L442.1,464.1 L442.8,465.6 L443.6,467.0 L444.4,468.4 L445.2,469.7 L446.0,471.1 L446.8,472.5 L447.6,473.9 L448.5,475.2 L449.3,476.6 L450.2,478.0 L451.0,479.3 L451.9,480.6 L452.8,482.0 L453.7,483.3 L454.6,484.6 L455.6,485.9 L456.5,487.2 L457.5,488.5 L458.4,489.7 L459.4,491.0 L460.4,492.3 L461.4,493.5 L462.4,494.7 L463.4,496.0 L464.5,497.2 L465.5,498.4 L466.6,499.6 L467.7,500.8 L468.8,502.0 L469.9,503.1 L471.0,504.3 L472.1,505.4 L473.2,506.5 L474.3,507.7 L475.5,508.8 L476.7,509.9 L477.8,511.0 L479.0,512.0 L480.2,513.1 L481.4,514.3 L482.6,515.3 L483.8,516.3 L485.0,517.3 L486.2,518.4 L487.5,519.5 L488.7,520.3 L490.0,521.4 L491.2,522.5 L492.5,523.4 L493.7,524.4 L495.0,525.4 L496.3,525.9 L497.6,526.9 L498.9,527.3 L500.2,529.0 L501.5,530.5 L502.8,530.5 L504.1,532.3 L505.4,533.2 L506.8,533.6 L508.1,534.5 L509.5,535.5 L510.8,535.8 L512.2,537.0 L513.5,538.1 L514.9,539.4 L516.3,540.4 L517.6,540.1 L519.0,542.3 L520.4,541.7 L521.8,543.1 L523.2,544.5 L524.6,546.9 L526.0,547.9 L527.5,546.9 L528.9,546.8 L530.3,547.4 L531.8,548.7 L533.2,550.9 L534.6,550.3 L536.1,553.7 L537.5,552.2 L539.0,548.6 L540.5,552.7 L541.9,556.2 L543.4,554.6 L544.9,554.6 L546.4,554.6 L547.9,558.3 L549.3,558.4 L550.8,558.5 L552.3,558.7 L553.8,560.7 L555.3,560.4 L556.8,558.1 L558.3,561.4 L559.8,561.1 L561.4,561.2 L562.9,563.0 L564.4,562.5 L565.9,558.8 L567.4,568.4 L568.9,565.4 L570.5,564.2 L572.0,564.3 L573.5,565.7 L575.0,564.0 L576.5,566.7 L578.1,566.4 L579.6,566.7 L581.1,566.3 L582.7,567.1 L584.2,570.0 L585.7,570.7 L587.2,570.0 L588.8,569.6 L590.3,568.9 L591.8,571.5 L593.4,573.2 L594.9,569.0 L596.4,573.3 L597.9,569.1 L599.5,572.0 L601.0,573.5 L602.5,571.4 L604.1,571.6 L605.6,574.4 L607.1,575.8 L608.6,574.3 L610.2,577.3 L611.7,574.8 L613.2,578.8 L614.7,577.0 L616.3,577.6 L617.8,578.6 L619.3,578.6 L620.8,581.2 L622.4,582.2 L623.9,580.3 L625.4,579.8 L627.0,578.9 L628.5,579.9 L630.0,581.5 L631.6,581.8 L633.1,582.3 L634.7,582.8 L636.2,584.0 L637.7,581.8 L639.3,582.7 L640.8,586.1 L642.4,586.1 L644.0,584.6 L645.5,587.5 L647.1,585.2 L648.6,586.1 L650.2,584.2 L651.8,588.3 L653.3,587.4 L654.9,589.2 L656.5,589.0 L658.1,588.4 L659.6,588.7 L661.2,590.4 L662.8,588.7 L664.4,588.9 L665.9,589.5 L667.5,590.7 L669.1,591.1 L670.7,592.7 L672.3,590.1 L673.8,592.2 L675.4,589.7 L677.0,591.7 L678.6,591.3 L680.1,593.8 L681.7,592.5 L683.3,589.2 L684.8,593.1 L686.4,593.0 L688.0,592.4 L689.5,592.8 L691.1,592.2 L692.6,597.6 L694.2,594.3 L695.8,595.8 L697.3,593.1 L698.9,593.5 L700.5,595.1 L702.0,595.4 L703.6,597.0 L705.2,594.7 L706.8,597.1 L708.3,598.7 L709.9,595.5 L711.5,598.2 L713.1,595.8 L714.7,597.8 L716.3,597.9 L717.9,600.0 L719.5,596.7 L721.1,598.0 L722.7,599.4 L724.3,596.4 L725.9,598.1 L727.5,597.0 L729.1,597.3 L730.7,599.4 L732.3,599.5 L733.9,602.2 L735.5,600.6 L737.1,600.6 L738.7,598.7 L740.3,598.6 L741.9,599.4 L743.5,596.1 L745.1,601.7 L746.7,598.6 L748.3,598.2 L749.9,599.2 L751.5,601.3 L753.0,601.9 L754.6,599.9 L756.2,601.2 L757.8,600.7 L759.4,599.6 L761.0,601.5 L762.6,601.5 L764.2,599.5 L765.8,603.5 L767.4,600.0 L769.0,602.8 L770.6,601.3 L772.2,601.9 L773.7,602.3 L775.3,604.6 L776.9,602.1 L778.5,603.9 L780.1,606.6 L781.6,603.7 L783.2,604.9 L784.8,606.2 L786.4,604.7 L788.0,606.5 L789.5,605.2 L791.1,607.3 L792.7,606.7 L794.3,605.6 L795.9,609.1 L797.4,607.3 L799.0,607.2 L800.6,606.6 L802.2,607.5 L803.8,608.2 L805.4,608.8 L806.9,610.3 L808.5,607.1 L810.1,608.7 L811.7,611.0 L813.3,609.8 L814.9,610.3 L816.5,612.2 L818.0,610.6 L819.6,610.9 L821.2,610.4 L822.8,613.1 L824.4,612.2 L826.0,609.9 L827.6,611.8 L829.2,609.5 L830.8,612.8 L832.4,612.3 L834.0,611.3 L835.5,611.1 L837.1,609.2 L838.7,612.9 L840.3,611.8 L841.9,611.6 L843.5,613.2 L845.1,611.3 L846.7,611.6 L848.3,611.5 L849.9,610.7 L851.5,616.1 L853.1,612.5 L854.7,612.4 L856.3,614.3 L857.8,608.7 L859.4,613.2 L861.0,613.4 L862.6,612.1 L864.2,614.2 L865.8,610.9 L867.4,613.9 L869.0,615.2 L870.6,611.0 L872.2,612.3 L873.8,614.2 L875.4,614.6 L877.0,613.9 L878.6,615.5 L880.1,615.5 L881.7,616.9 L883.3,615.5 L884.9,614.0 L886.5,613.1 L888.1,612.9 L889.7,618.0 L891.3,616.6 L892.9,619.8 L894.5,615.3 L896.1,617.1 L897.6,618.3 L899.2,617.9 L900.8,619.1 L902.4,618.9 L904.0,618.1 L905.6,616.0 L907.2,618.2 L908.8,622.2 L910.3,621.1 L911.9,622.2 L913.5,619.7 L915.1,620.5 L916.7,619.7 L918.3,621.7 L919.9,621.5 L921.4,622.2 L923.0,624.2 L924.6,620.8 L926.2,623.2 L927.8,620.4 L929.4,624.0 L931.0,622.0 L932.5,622.7 L934.1,623.1 L935.7,625.4 L937.3,623.2 L938.9,622.7 L940.5,621.8 L942.1,624.0 L943.7,622.6 L945.3,623.2 L946.8,624.0 L948.4,625.1 L950.0,620.9 L951.6,625.4 L953.2,627.0 L954.8,622.6 L956.4,626.7 L958.0,627.9 L959.6,624.2 L961.2,628.7 L962.7,623.3 L964.3,625.8 L965.9,625.0 L967.5,626.0 L969.1,624.3 L970.7,624.6 L972.3,625.2 L973.9,624.9 L975.5,625.1 L977.1,625.8 L978.7,624.6 L980.3,626.0 L981.9,627.0 L983.5,623.1 L985.1,626.7 L986.7,625.5 L988.3,625.0 L989.9,624.8 L991.5,625.6 L993.1,625.8 L994.7,627.4 L996.3,625.3 L997.9,628.6 L999.5,626.1 L1001.1,628.3 L1002.7,629.0 L1004.3,625.9 L1005.9,629.2 L1007.5,630.9 L1009.1,627.4 L1010.7,629.0 L1012.3,628.1 L1013.9,628.5 L1015.5,628.3 L1017.1,628.0 L1018.7,629.8 L1020.3,630.2 L1021.9,629.1 L1023.4,631.3 L1025.0,630.9 L1026.6,630.5 L1028.2,628.6 L1029.8,632.4 L1031.4,631.8 L1033.0,627.0 L1034.6,628.6 L1036.2,629.7 L1037.8,631.8 L1039.4,632.4 L1041.0,630.5 L1042.6,631.4 L1044.1,632.3 L1045.7,629.7 L1047.3,632.6 L1048.9,631.5 L1050.5,632.5 L1052.1,632.4 L1053.6,631.0 L1055.2,631.5 L1056.8,633.2 L1058.4,631.0 L1060.0,633.2 L1061.6,635.2 L1063.1,633.4 L1064.7,632.4 L1066.3,633.8 L1067.9,634.2 L1069.5,634.4 L1071.1,636.3 L1072.7,635.5 L1074.3,636.3 L1075.9,635.8 L1077.5,634.7 L1079.1,636.4 L1080.7,634.6 L1082.3,635.3 L1083.9,633.5 L1085.5,635.0 L1087.1,634.4 L1088.7,635.3 L1090.3,637.3 L1091.9,638.0 L1093.5,636.0 L1095.1,634.5 L1096.7,635.6 L1098.3,634.7 L1099.9,633.5 L1101.5,634.2 L1103.1,633.9 L1104.7,633.3 L1106.3,636.0 L1107.9,633.3 L1109.5,633.3 L1111.1,635.0 L1112.7,633.0 L1114.3,632.3 L1115.9,632.7 L1117.5,634.6 L1119.1,634.5 L1120.7,634.4 L1122.3,633.3 L1123.9,632.7 L1125.5,635.3 L1127.1,632.1 L1128.7,633.8 L1130.3,632.3 L1131.9,633.7 L1133.5,634.1 L1135.1,636.1 L1136.7,630.4 L1138.3,636.4 L1139.9,633.3 L1141.5,635.1 L1143.1,635.8 L1144.7,633.7 L1146.3,634.7 L1147.9,635.6 L1149.5,634.8 L1151.1,634.0 L1152.7,635.4 L1154.2,635.3 L1155.8,633.1 L1157.4,637.2 L1159.0,635.7 L1160.6,632.0 L1162.2,634.3 L1163.8,638.0 L1165.4,637.8 L1167.0,636.1 L1168.6,633.4 L1170.2,638.4 L1171.8,637.4 L1173.4,636.5 L1175.0,635.6 L1176.6,635.1 L1178.2,637.4 L1179.7,636.1 L1181.3,636.9 L1182.9,637.2 L1184.5,639.0 L1186.1,637.0 L1187.7,637.3 L1189.3,634.6 L1190.9,638.7 L1192.5,638.6 L1194.1,637.5 L1195.6,634.5 L1197.2,637.0 L1198.8,638.1 L1200.4,641.1 L1202.0,639.2 L1203.6,639.7 L1205.2,639.9 L1206.8,640.9 L1208.4,637.6 L1210.0,638.2 L1211.5,638.0 L1213.1,637.2 L1214.7,639.6 L1216.3,640.5 L1217.9,639.2 L1219.5,641.0 L1221.1,639.9 L1222.7,644.3 L1224.3,640.8 L1225.9,645.4 L1227.5,644.3 L1229.0,640.6 L1230.6,643.8 L1232.2,643.6 L1233.8,640.8 L1235.4,644.0 L1237.0,643.2 L1238.6,644.0 L1240.2,642.5 L1241.8,643.8 L1243.4,644.6 L1245.0,644.0 L1246.6,643.5 L1248.2,644.3 L1249.8,643.3 L1251.4,645.2 L1253.0,641.3 L1254.5,647.1 L1256.1,645.1 L1257.7,645.8 L1259.3,646.4 L1260.9,643.5 L1262.5,648.5 L1264.1,643.7 L1265.7,646.0 L1267.3,645.8 L1268.9,647.2 L1270.5,645.4 L1272.1,643.4 L1273.7,645.8 L1275.3,641.9 L1276.9,645.0 L1278.5,644.6 L1280.1,647.5 L1281.7,644.8 L1283.3,644.5 L1284.9,644.1 L1286.5,643.9 L1288.1,644.2 L1289.7,645.8 L1291.3,643.1 L1292.9,644.6 L1294.5,642.7 L1296.1,644.5 L1297.7,644.9 L1299.3,642.9 L1300.9,643.7 L1302.5,644.6 L1304.1,645.5 L1305.7,645.7 L1307.3,644.2 L1308.9,642.9 L1310.5,641.9 L1312.1,645.3 L1313.7,646.1 L1315.3,644.6 L1316.9,646.3 L1318.5,643.4 L1320.1,643.5 L1321.7,646.2 L1323.3,642.6 L1324.9,644.8 L1326.5,644.5 L1328.1,644.1 L1329.7,646.3 L1331.3,639.6 L1332.9,643.3 L1334.5,640.9 L1336.1,642.3 L1337.7,643.1 L1339.3,643.2 L1340.9,643.4 L1342.5,644.1 L1344.1,642.7 L1345.7,640.8 L1347.3,643.8 L1348.9,644.1 L1350.5,641.9 L1352.1,642.4 L1353.7,646.0 L1355.3,644.9 L1356.9,645.0 L1358.5,644.4 L1360.1,643.7 L1361.7,642.8 L1363.3,644.4 L1364.9,643.4 L1366.5,643.1 L1368.1,643.8 L1369.6,643.8 L1371.2,645.3 L1372.8,642.8 L1374.4,647.7 L1376.0,642.9 L1377.6,643.9 L1379.2,645.9 L1380.8,643.5 L1382.4,644.2 L1384.0,645.0 L1385.6,640.9 L1387.1,644.5 L1388.7,644.0 L1390.3,645.2 L1391.9,646.4 L1393.5,646.7 L1395.1,648.0 L1396.7,648.0 L1398.3,647.6 L1399.9,646.2 L1401.5,647.8 L1403.1,645.0 L1404.7,646.3 L1406.3,648.5 L1407.9,647.7 L1409.5,644.6 L1411.1,645.8 L1412.7,648.0 L1414.3,647.6 L1415.9,648.2 L1417.5,644.2 L1419.1,644.9 L1420.7,646.4 L1422.3,645.3 L1423.9,646.6 L1425.5,646.7 L1427.1,647.1 L1428.7,646.4 L1430.3,647.4 L1431.9,647.6 L1433.5,646.7 L1435.1,644.7 L1436.7,648.2 L1438.3,646.7 L1439.9,646.9 L1441.5,646.5 L1443.1,643.9 L1444.7,646.9 L1446.3,645.1 L1447.9,647.2 L1449.5,647.7 L1451.1,645.4 L1452.7,646.1 L1454.3,646.9 L1455.9,647.8 L1457.5,642.9 L1459.1,644.3 L1460.7,646.3 L1462.3,644.3 L1463.9,640.5 L1465.5,645.3 L1467.1,645.3 L1468.7,642.8 L1470.3,645.2 L1471.9,644.2 L1473.5,645.0 L1475.1,644.6 L1476.7,644.0 L1478.3,645.0 L1479.9,645.1 L1481.5,643.2 L1483.1,646.1 L1484.7,645.8 L1486.3,645.8 L1487.9,640.9 L1489.5,644.9 L1491.1,644.7 L1492.7,643.5 L1494.3,645.8 L1495.9,642.9 L1497.5,646.9 L1499.1,645.8 L1500.6,644.6 L1502.2,647.4 L1503.8,646.2 L1505.4,646.1 L1507.0,643.9 L1508.6,646.6 L1510.2,647.9 L1511.8,647.6 L1513.4,644.3 L1515.0,648.2 L1516.6,648.6 L1518.2,647.6 L1519.8,645.9 L1521.4,644.4 L1523.0,645.3 L1524.6,645.9 L1526.2,647.2 L1527.8,647.6 L1529.4,645.9 L1531.0,644.7 L1532.6,646.5 L1534.2,645.3 L1535.8,649.1 L1537.4,645.6 L1539.0,648.0 L1540.6,648.6 L1542.2,646.2 L1543.8,649.0 L1545.4,647.5 L1547.0,646.7 L1548.6,646.6 L1550.2,648.1 L1551.8,649.6 L1553.4,645.5 L1555.0,649.2 L1556.6,648.2 L1558.2,647.4 L1559.8,648.4 L1561.4,648.7 L1563.0,648.7 L1564.6,650.1 L1566.2,647.7 L1567.8,651.9 L1569.4,650.5 L1571.0,648.5 L1572.5,646.7 L1574.1,649.5 L1575.7,649.0 L1577.3,650.8 L1578.9,650.8 L1580.5,652.6 L1582.1,649.8 L1583.7,651.2 L1585.3,649.6 L1586.9,649.7 L1588.5,652.5 L1590.1,650.2 L1591.7,650.3 L1593.3,650.0 L1594.9,651.1 L1596.5,651.5 L1598.1,650.6 L1599.7,649.2 L1601.3,651.4 L1602.9,649.9 L1604.5,650.6 L1606.1,651.5 L1607.7,651.6 L1609.3,648.1 L1610.9,653.9 L1612.5,652.7 L1614.1,654.4 L1615.7,655.4 L1617.3,650.6 L1618.9,651.2 L1620.5,652.5 L1622.1,653.6 L1623.7,651.7 L1625.3,652.1 L1626.9,654.1 L1628.5,651.5 L1630.1,653.1 L1631.7,654.5 L1633.3,652.7 L1634.9,654.2 L1636.5,653.1 L1638.1,651.1 L1639.7,652.6 L1641.3,653.1 L1642.8,653.0 L1644.4,653.6 L1646.0,654.2 L1647.6,654.0 L1649.2,653.9 L1650.8,650.6 L1652.4,653.4 L1654.0,653.2 L1655.6,652.9 L1657.2,655.7 L1658.8,651.1 L1660.4,654.1 L1662.0,651.5 L1663.6,652.9 L1665.2,654.9 L1666.8,653.4 L1668.4,655.8 L1670.0,652.5 L1671.6,653.4 L1673.2,652.9 L1674.8,653.9 L1676.4,653.4 L1678.0,653.3 L1679.6,654.0 L1681.2,655.5 L1682.8,654.2 L1684.4,654.1 L1686.0,653.6 L1687.6,653.0 L1689.2,652.0 L1690.8,652.6 L1692.4,654.2 L1694.0,651.5 L1695.6,655.1 L1697.2,653.6 L1698.8,652.9 L1700.4,653.4 L1702.0,655.1 L1703.6,654.7 L1705.2,654.6 L1706.8,656.7 L1708.4,657.5 L1710.0,652.5 L1711.6,655.5 L1713.2,653.2 L1714.8,652.3 L1716.4,653.5 L1718.0,655.7 L1719.6,653.8 L1721.2,653.5 L1722.8,656.2 L1724.4,654.9 L1726.0,654.0 L1727.6,656.6 L1729.2,654.8 L1730.8,653.0 L1732.4,652.5 L1734.0,653.4 L1735.6,654.2 L1737.2,655.2 L1738.8,655.1 L1740.4,654.0 L1742.0,652.2 L1743.6,655.1 L1745.2,653.9 L1746.8,652.2 L1748.4,652.0 L1750.0,654.0 L1751.6,654.2 L1753.2,654.9 L1754.8,652.0 L1756.4,656.4 L1758.0,651.2 L1759.6,653.7 L1761.2,655.7 L1762.8,655.3 L1764.4,652.5 L1766.0,654.7 L1767.6,655.6 L1769.2,654.9 L1770.8,652.5 L1772.4,656.2 L1774.0,651.5 L1775.6,653.9 L1777.2,652.3 L1778.8,653.2 L1780.4,653.3 L1782.0,654.4 L1783.6,651.9 L1785.2,654.0 L1786.8,655.4 L1788.4,653.6 L1790.0,654.2 L1791.6,654.0 L1793.2,652.3 L1794.8,652.8 L1796.4,653.3 L1798.0,653.8 L1799.6,656.0 L1801.2,655.4 L1802.8,652.4 L1804.4,652.4 L1806.0,651.6 L1807.6,649.7 L1809.2,654.9 L1810.8,653.8 L1812.4,650.4 L1814.0,651.2 L1815.6,656.7 L1817.2,654.2 L1818.8,654.4 L1820.4,654.2 L1822.0,653.0 L1823.5,652.7 L1825.1,653.4 L1826.7,655.1 L1828.3,654.8 L1829.9,656.4 L1831.5,658.2 L1833.0,656.9 L1834.6,657.6 L1836.2,656.2 L1837.8,655.2 L1839.4,660.4 L1840.9,658.6 L1842.5,659.6 L1844.1,657.6 L1845.7,656.0 L1847.3,660.6 L1848.9,655.8 L1850.5,658.9 L1852.1,658.5 L1853.7,659.7 L1855.3,660.7 L1856.9,660.8 L1858.5,656.8 L1860.1,661.3 L1861.7,657.2 L1863.3,660.9 L1864.9,659.4 L1866.5,658.4 L1868.1,659.3 L1869.7,658.2 L1871.3,660.1 L1872.9,661.5 L1874.5,661.3 L1876.1,660.2 L1877.7,661.7 L1879.2,660.9 L1880.8,663.2 L1882.4,660.9 L1884.0,659.3 L1885.6,659.7 L1887.2,659.1 L1888.8,659.7 L1890.4,659.9 L1892.0,661.1 L1893.6,661.3 L1895.2,660.2 L1896.8,660.8 L1898.4,659.1 L1900.0,659.4 L1901.6,656.7 L1903.2,659.1 L1904.8,659.5 L1906.4,663.9 L1908.0,658.3 L1909.6,660.3 L1911.2,659.8 L1912.8,658.0 L1914.4,660.6 L1916.0,660.2 L1917.6,658.1 L1919.2,656.9 L1920.8,660.1 L1922.4,658.1 L1924.0,661.1 L1925.6,659.7 L1927.2,660.9 L1928.8,659.7 L1930.4,662.3 L1932.0,661.1 L1933.6,662.2 L1935.2,660.2 L1936.8,658.6 L1938.4,658.0 L1940.0,659.3 L1941.6,660.4 L1943.2,659.1 L1944.8,663.4 L1946.4,659.8 L1948.0,660.5 L1949.6,660.0 L1951.2,658.1 L1952.8,661.3 L1954.4,660.7 L1956.0,661.0 L1957.6,658.4 L1959.2,659.8 L1960.8,659.7 L1962.4,661.4 L1964.0,657.8 L1965.6,660.7 L1967.2,661.6 L1968.8,659.2 L1970.4,658.6 L1972.0,661.7 L1973.6,660.2 L1975.2,661.5 L1976.8,661.0 L1978.4,661.6 L1980.0,659.9 L1981.6,657.2 L1983.2,661.2 L1984.8,659.5 L1986.4,661.5 L1988.0,660.0 L1989.6,663.3 L1991.2,660.8 L1992.2,662.5" stroke="#f0f"/>
<path d="M561.4,561.2 L562.9,563.0 L564.4,562.5 L565.9,558.8 L567.4,568.4 L568.9,565.4 L570.5,564.2 L572.0,564.3 L573.5,565.7 L575.0,564.0 L576.5,566.7 L578.1,566.4 L579.6,566.7 L581.1,566.3 L582.7,567.1 L584.2,570.0 L585.7,570.7 L587.2,570.0 L588.8,569.6 L590.3,568.9 L591.8,571.5 L593.4,573.2 L594.9,569.0 L596.4,573.3 L597.9,569.1 L599.5,572.0 L601.0,573.5 L602.5,571.4 L604.1,571.6 L605.6,574.4 L607.1,575.8 L608.6,574.3 L610.2,577.3 L611.7,574.8 L613.2,578.8 L614.7,577.0 L616.3,577.6 L617.8,578.6 L619.3,578.6 L620.8,581.2 L622.4,582.2 L623.9,580.3 L625.4,579.8 L627.0,578.9 L628.5,579.9 L630.0,581.5 L631.6,581.8 L633.1,582.3 L634.7,582.8 L636.2,584.0 L637.7,581.8 L639.3,582.7 L640.8,586.1 L642.4,586.1 L644.0,584.6 L645.5,587.5 L647.1,585.2 L648.6,586.1 L650.2,584.2 L651.8,588.3 L653.3,587.4 L654.9,589.2 L656.5,589.0 L658.1,588.4 L659.6,588.7 L661.2,590.4 L662.8,588.7 L664.4,588.9 L665.9,589.5 L667.5,590.7 L669.1,591.1 L670.7,592.7 L672.3,590.1 L673.8,592.2 L675.4,589.7 L677.0,591.7 L678.6,591.3 L680.1,593.8 L681.7,592.5 L683.3,589.2 L684.8,593.1 L686.4,593.0 L688.0,592.4 L689.5,592.8 L691.1,592.2 L692.6,597.6 L694.2,594.3 L695.8,595.8 L697.3,593.1 L698.9,593.5 L700.5,595.1 L702.0,595.4 L703.6,597.0 L705.2,594.7 L706.8,597.1 L708.3,598.7 L709.9,595.5 L711.5,598.2 L713.1,595.8 L714.7,597.8 L716.3,597.9 L717.9,600.0 L719.5,596.7 L721.1,598.0 L722.7,599.4 L724.3,596.4 L725.9,598.1 L727.5,597.0 L729.1,597.3 L730.7,599.4 L732.3,599.5 L733.9,602.2 L735.5,600.6 L737.1,600.6 L738.7,598.7 L740.3,598.6 L741.9,599.4 L743.5,596.1 L745.1,601.7 L746.7,598.6 L748.3,598.2 L749.9,599.2 L751.5,601.3 L753.0,601.9 L754.6,599.9 L756.2,601.2 L757.8,600.7 L759.4,599.6 L761.0,601.5 L762.6,601.5 L764.2,599.5 L765.8,603.5 L767.4,600.0 L769.0,602.8 L770.6,601.3 L772.2,601.9 L773.7,602.3 L775.3,604.6 L776.9,602.1 L778.5,603.9 L780.1,606.6 L781.6,603.7 L783.2,604.9 L784.8,606.2 L786.4,604.7 L788.0,606.5 L789.5,605.2 L791.1,607.3 L792.7,606.7 L794.3,605.6 L795.9,609.1 L797.4,607.3 L799.0,607.2 L800.6,606.6 L802.2,607.5 L803.8,608.2 L805.4,608.8 L806.9,610.3 L808.5,607.1 L810.1,608.7 L811.7,611.0 L813.3,609.8 L814.9,610.3 L816.5,612.2 L818.0,610.6 L819.6,610.9 L821.2,610.4 L822.8,613.1 L824.4,612.2 L826.0,609.9 L827.6,611.8 L829.2,609.5 L830.8,612.8 L832.4,612.3 L834.0,611.3 L835.5,611.1 L837.1,609.2 L838.7,612.9 L840.3,611.8 L841.9,611.6 L843.5,613.2 L845.1,611.3 L846.7,611.6 L848.3,611.5 L849.9,610.7 L851.5,616.1 L853.1,612.5 L854.7,612.4 L856.3,614.3 L857.8,608.7 L859.4,613.2 L861.0,613.4 L862.6,612.1 L864.2,614.2 L865.8,610.9 L867.4,613.9 L869.0,615.2 L870.6,611.0 L872.2,612.3 L873.8,614.2 L875.4,614.6 L877.0,613.9 L878.6,615.5 L880.1,615.5 L881.7,616.9 L883.3,615.5 L884.9,614.0 L886.5,613.1 L888.1,612.9 L889.7,618.0 L891.3,616.6 L892.9,619.8 L894.5,615.3 L896.1,617.1 L897.6,618.3 L899.2,617.9 L900.8,619.1 L902.4,618.9 L904.0,618.1 L905.6,616.0 L907.2,618.2 L908.8,622.2 L910.3,621.1 L911.9,622.2 L913.5,619.7 L915.1,620.5 L916.7,619.7 L918.3,621.7 L919.9,621.5 L921.4,622.2 L923.0,624.2 L924.6,620.8 L926.2,623.2 L927.8,620.4 L929.4,624.0 L931.0,622.0 L932.5,622.7 L934.1,623.1 L935.7,625.4 L937.3,623.2 L938.9,622.7 L940.5,621.8 L942.1,624.0 L943.7,622.6 L945.3,623.2 L946.8,624.0 L948.4,625.1 L950.0,620.9 L951.6,625.4 L953.2,627.0 L954.8,622.6 L956.4,626.7 L958.0,627.9 L959.6,624.2 L961.2,628.7 L962.7,623.3 L964.3,625.8 L965.9,625.0 L967.5,626.0 L969.1,624.3 L970.7,624.6 L972.3,625.2 L973.9,624.9 L975.5,625.1 L977.1,625.8 L978.7,624.6 L980.3,626.0 L981.9,627.0 L983.5,623.1 L985.1,626.7 L986.7,625.5 L988.3,625.0 L989.9,624.8 L991.5,625.6 L993.1,625.8 L994.7,627.4 L996.3,625.3 L997.9,628.6 L999.5,626.1 L1001.1,628.3 L1002.7,629.0 L1004.3,625.9 L1005.9,629.2 L1007.5,630.9 L1009.1,627.4 L1010.7,629.0 L1012.3,628.1 L1013.9,628.5 L1015.5,628.3 L1017.1,628.0 L1018.7,629.8 L1020.3,630.2 L1021.9,629.1 L1023.4,631.3 L1025.0,630.9 L1026.6,630.5 L1028.2,628.6 L1029.8,632.4 L1031.4,631.8 L1033.0,627.0 L1034.6,628.6 L1036.2,629.7 L1037.8,631.8 L1039.4,632.4 L1041.0,630.5 L1042.6,631.4 L1044.1,632.3 L1045.7,629.7 L1047.3,632.6 L1048.9,631.5 L1050.5,632.5 L1052.1,632.4 L1053.6,631.0 L1055.2,631.5 L1056.8,633.2 L1058.4,631.0 L1060.0,633.2 L1061.6,635.2 L1063.1,633.4 L1064.7,632.4 L1066.3,633.8 L1067.9,634.2 L1069.5,634.4 L1071.1,636.3 L1072.7,635.5 L1074.3,636.3 L1075.9,635.8 L1077.5,634.7 L1079.1,636.4 L1080.7,634.6 L1082.3,635.3 L1083.9,633.5 L1085.5,635.0 L1087.1,634.4 L1088.7,635.3 L1090.3,637.3 L1091.9,638.0 L1093.5,636.0 L1095.1,634.5 L1096.7,635.6 L1098.3,634.7 L1099.9,633.5 L1101.5,634.2 L1103.1,633.9 L1104.7,633.3 L1106.3,636.0 L1107.9,633.3 L1109.5,633.3 L1111.1,635.0 L1112.7,633.0 L1114.3,632.3 L1115.9,632.7 L1117.5,634.6 L1119.1,634.5 L1120.7,634.4 L1122.3,633.3 L1123.9,632.7 L1125.5,635.3 L1127.1,632.1 L1128.7,633.8 L1130.3,632.3 L1131.9,633.7 L1133.5,634.1 L1135.1,636.1 L1136.7,630.4 L1138.3,636.4 L1139.9,633.3 L1141.5,635.1 L1143.1,635.8 L1144.7,633.7 L1146.3,634.7 L1147.9,635.6 L1149.5,634.8 L1151.1,634.0 L1152.7,635.4 L1154.2,635.3 L1155.8,633.1 L1157.4,637.2 L1159.0,635.7 L1160.6,632.0 L1162.2,634.3 L1163.8,638.0 L1165.4,637.8 L1167.0,636.1 L1168.6,633.4 L1170.2,638.4 L1171.8,637.4 L1173.4,636.5 L1175.0,635.6 L1176.6,635.1 L1178.2,637.4 L1179.7,636.1 L1181.3,636.9 L1182.9,637.2 L1184.5,639.0 L1186.1,637.0 L1187.7,637.3 L1189.3,634.6 L1190.9,638.7 L1192.5,638.6 L1194.1,637.5 L1195.6,634.5 L1197.2,637.0 L1198.8,638.1 L1200.4,641.1 L1202.0,639.2 L1203.6,639.7 L1205.2,639.9 L1206.8,640.9 L1208.4,637.6 L1210.0,638.2 L1211.5,638.0 L1213.1,637.2 L1214.7,639.6 L1216.3,640.5 L1217.9,639.2 L1219.5,641.0 L1221.1,639.9 L1222.7,644.3 L1224.3,640.8 L1225.9,645.4 L1227.5,644.3 L1229.0,640.6 L1230.6,643.8 L1232.2,643.6 L1233.8,640.8 L1235.4,644.0 L1237.0,643.2 L1238.6,644.0 L1240.2,642.5 L1241.8,643.8 L1243.4,644.6 L1245.0,644.0 L1246.6,643.5 L1248.2,644.3 L1249.8,643.3 L1251.4,645.2 L1253.0,641.3 L1254.5,647.1 L1256.1,645.1 L1257.7,645.8 L1259.3,646.4 L1260.9,643.5 L1262.5,648.5 L1264.1,643.7 L1265.7,646.0 L1267.3,645.8 L1268.9,647.2 L1270.5,645.4 L1272.1,643.4 L1273.7,645.8 L1275.3,641.9 L1276.9,645.0 L1278.5,644.6 L1280.1,647.5 L1281.7,644.8 L1283.3,644.5 L1284.9,644.1 L1286.5,643.9 L1288.1,644.2 L1289.7,645.8 L1291.3,643.1 L1292.9,644.6 L1294.5,642.7 L1296.1,644.5 L1297.7,644.9 L1299.3,642.9 L1300.9,643.7 L1302.5,644.6 L1304.1,645.5 L1305.7,645.7 L1307.3,644.2 L1308.9,642.9 L1310.5,641.9 L1312.1,645.3 L1313.7,646.1 L1315.3,644.6 L1316.9,646.3 L1318.5,643.4 L1320.1,643.5 L1321.7,646.2 L1323.3,642.6 L1324.9,644.8 L1326.5,644.5 L1328.1,644.1 L1329.7,646.3 L1331.3,639.6 L1332.9,643.3 L1334.5,640.9 L1336.1,642.3 L1337.7,643.1 L1339.3,643.2 L1340.9,643.4 L1342.5,644.1 L1344.1,642.7 L1345.7,640.8 L1347.3,643.8 L1348.9,644.1 L1350.5,641.9 L1352.1,642.4 L1353.7,646.0 L1355.3,644.9 L1356.9,645.0 L1358.5,644.4 L1360.1,643.7 L1361.7,642.8 L1363.3,644.4 L1364.9,643.4 L1366.5,643.1 L1368.1,643.8 L1369.6,643.8 L1371.2,645.3 L1372.8,642.8 L1374.4,647.7 L1376.0,642.9 L1377.6,643.9 L1379.2,645.9 L1380.8,643.5 L1382.4,644.2 L1384.0,645.0 L1385.6,640.9 L1387.1,644.5 L1388.7,644.0 L1390.3,645.2 L1391.9,646.4 L1393.5,646.7 L1395.1,648.0 L1396.7,648.0 L1398.3,647.6 L1399.9,646.2 L1401.5,647.8 L1403.1,645.0 L1404.7,646.3 L1406.3,648.5 L1407.9,647.7 L1409.5,644.6 L1411.1,645.8 L1412.7,648.0 L1414.3,647.6 L1415.9,648.2 L1417.5,644.2 L1419.1,644.9 L1420.7,646.4 L1422.3,645.3 L1423.9,646.6 L1425.5,646.7 L1427.1,647.1 L1428.7,646.4 L1430.3,647.4 L1431.9,647.6 L1433.5,646.7 L1435.1,644.7 L1436.7,648.2 L1438.3,646.7 L1439.9,646.9 L1441.5,646.5 L1443.1,643.9 L1444.7,646.9 L1446.3,645.1 L1447.9,647.2 L1449.5,647.7 L1451.1,645.4 L1452.7,646.1 L1454.3,646.9 L1455.9,647.8 L1457.5,642.9 L1459.1,644.3 L1460.7,646.3 L1462.3,644.3 L1463.9,640.5 L1465.5,645.3 L1467.1,645.3 L1468.7,642.8 L1470.3,645.2 L1471.9,644.2 L1473.5,645.0 L1475.1,644.6 L1476.7,644.0 L1478.3,645.0 L1479.9,645.1 L1481.5,643.2 L1483.1,646.1 L1484.7,645.8 L1486.3,645.8 L1487.9,640.9 L1489.5,644.9 L1491.1,644.7 L1492.7,643.5 L1494.3,645.8 L1495.9,642.9 L1497.5,646.9 L1499.1,645.8 L1500.6,644.6 L1502.2,647.4 L1503.8,646.2 L1505.4,646.1 L1507.0,643.9 L1508.6,646.6 L1510.2,647.9 L1511.8,647.6 L1513.4,644.3 L1515.0,648.2 L1516.6,648.6 L1518.2,647.6 L1519.8,645.9 L1521.4,644.4 L1523.0,645.3 L1524.6,645.9 L1526.2,647.2 L1527.8,647.6 L1529.4,645.9 L1531.0,644.7 L1532.6,646.5 L1534.2,645.3 L1535.8,649.1 L1537.4,645.6 L1539.0,648.0 L1540.6,648.6 L1542.2,646.2 L1543.8,649.0 L1545.4,647.5 L1547.0,646.7 L1548.6,646.6 L1550.2,648.1 L1551.8,649.6 L1553.4,645.5 L1555.0,649.2 L1556.6,648.2 L1558.2,647.4 L1559.8,648.4 L1561.4,648.7 L1563.0,648.7 L1564.6,650.1 L1566.2,647.7 L1567.8,651.9 L1569.4,650.5 L1571.0,648.5 L1572.5,646.7 L1574.1,649.5 L1575.7,649.0 L1577.3,650.8 L1578.9,650.8 L1580.5,652.6 L1582.1,649.8 L1583.7,651.2 L1585.3,649.6 L1586.9,649.7 L1588.5,652.5 L1590.1,650.2 L1591.7,650.3 L1593.3,650.0 L1594.9,651.1 L1596.5,651.5 L1598.1,650.6 L1599.7,649.2 L1601.3,651.4 L1602.9,649.9 L1604.5,650.6 L1606.1,651.5 L1607.7,651.6 L1609.3,648.1 L1610.9,653.9 L1612.5,652.7 L1614.1,654.4 L1615.7,655.4 L1617.3,650.6 L1618.9,651.2 L1620.5,652.5 L1622.1,653.6 L1623.7,651.7 L1625.3,652.1 L1626.9,654.1 L1628.5,651.5 L1630.1,653.1 L1631.7,654.5 L1633.3,652.7 L1634.9,654.2 L1636.5,653.1 L1638.1,651.1 L1639.7,652.6 L1641.3,653.1 L1642.8,653.0 L1644.4,653.6 L1646.0,654.2 L1647.6,654.0 L1649.2,653.9 L1650.8,650.6 L1652.4,653.4 L1654.0,653.2 L1655.6,652.9 L1657.2,655.7 L1658.8,651.1 L1660.4,654.1 L1662.0,651.5 L1663.6,652.9 L1665.2,654.9 L1666.8,653.4 L1668.4,655.8 L1670.0,652.5 L1671.6,653.4 L1673.2,652.9 L1674.8,653.9 L1676.4,653.4 L1678.0,653.3 L1679.6,654.0 L1681.2,655.5 L1682.8,654.2 L1684.4,654.1 L1686.0,653.6 L1687.6,653.0 L1689.2,652.0 L1690.8,652.6 L1692.4,654.2 L1694.0,651.5 L1695.6,655.1 L1697.2,653.6 L1698.8,652.9 L1700.4,653.4 L1702.0,655.1 L1703.6,654.7 L1705.2,654.6 L1706.8,656.7 L1708.4,657.5 L1710.0,652.5 L1711.6,655.5 L1713.2,653.2 L1714.8,652.3 L1716.4,653.5 L1718.0,655.7 L1719.6,653.8 L1721.2,653.5 L1722.8,656.2 L1724.4,654.9 L1726.0,654.0 L1727.6,656.6 L1729.2,654.8 L1730.8,653.0 L1732.4,652.5 L1734.0,653.4 L1735.6,654.2 L1737.2,655.2 L1738.8,655.1 L1740.4,654.0 L1742.0,652.2 L1743.6,655.1 L1745.2,653.9 L1746.8,652.2 L1748.4,652.0 L1750.0,654.0 L1751.6,654.2 L1753.2,654.9 L1754.8,652.0 L1756.4,656.4 L1758.0,651.2 L1759.6,653.7 L1761.2,655.7 L1762.8,655.3 L1764.4,652.5 L1766.0,654.7 L1767.6,655.6 L1769.2,654.9 L1770.8,652.5 L1772.4,656.2 L1774.0,651.5 L1775.6,653.9 L1777.2,652.3 L1778.8,653.2 L1780.4,653.3 L1782.0,654.4 L1783.6,651.9 L1785.2,654.0 L1786.8,655.4 L1788.4,653.6 L1790.0,654.2 L1791.6,654.0 L1793.2,652.3 L1794.8,652.8 L1796.4,653.3 L1798.0,653.8 L1799.6,656.0 L1801.2,655.4 L1802.8,652.4 L1804.4,652.4 L1806.0,651.6 L1807.6,649.7 L1809.2,654.9 L1810.8,653.8 L1812.4,650.4 L1814.0,651.2 L1815.6,656.7 L1817.2,654.2 L1818.8,654.4 L1820.4,654.2 L1822.0,653.0 L1823.5,652.7 L1825.1,653.4 L1826.7,655.1 L1828.3,654.8 L1829.9,656.4 L1831.5,658.2 L1833.0,656.9 L1834.6,657.6 L1836.2,656.2 L1837.8,655.2 L1839.4,660.4 L1840.9,658.6 L1842.5,659.6 L1844.1,657.6 L1845.7,656.0 L1847.3,660.6 L1848.9,655.8 L1850.5,658.9 L1852.1,658.5 L1853.7,659.7 L1855.3,660.7 L1856.9,660.8 L1858.5,656.8 L1860.1,661.3 L1861.7,657.2 L1863.3,660.9 L1864.9,659.4 L1866.5,658.4 L1868.1,659.3 L1869.7,658.2 L1871.3,660.1 L1872.9,661.5 L1874.5,661.3 L1876.1,660.2 L1877.7,661.7 L1879.2,660.9 L1880.8,663.2 L1882.4,660.9 L1884.0,659.3 L1885.6,659.7 L1887.2,659.1 L1888.8,659.7 L1890.4,659.9 L1892.0,661.1 L1893.6,661.3 L1895.2,660.2 L1896.8,660.8 L1898.4,659.1 L1900.0,659.4 L1901.6,656.7 L1903.2,659.1 L1904.8,659.5 L1906.4,663.9 L1908.0,658.3 L1909.6,660.3 L1911.2,659.8 L1912.8,658.0 L1914.4,660.6 L1916.0,660.2 L1917.6,658.1 L1919.2,656.9 L1920.8,660.1 L1922.4,658.1 L1924.0,661.1 L1925.6,659.7 L1927.2,660.9 L1928.8,659.7 L1930.4,662.3 L1932.0,661.1 L1933.6,662.2 L1935.2,660.2 L1936.8,658.6 L1938.4,658.0 L1940.0,659.3 L1941.6,660.4 L1943.2,659.1 L1944.8,663.4 L1946.4,659.8 L1948.0,660.5 L1949.6,660.0 L1951.2,658.1 L1952.8,661.3 L1954.4,660.7 L1956.0,661.0 L1957.6,658.4 L1959.2,659.8 L1960.8,659.7 L1962.4,661.4 L1964.0,657.8 L1965.6,660.7 L1967.2,661.6 L1968.8,659.2 L1970.4,658.6 L1972.0,661.7 L1973.6,660.2 L1975.2,661.5 L1976.8,661.0 L1978.4,661.6 L1980.0,659.9 L1981.6,657.2 L1983.2,661.2 L1984.8,659.5 L1986.4,661.5 L1988.0,660.0 L1989.6,663.3 L1991.2,660.8 L1992.2,662.5" stroke="#f0f" stroke-width="7.3"/>
</g>
<rect x="314.4" y="73.4" width="1804.7" height="1333.6" fill="none" stroke="#000" stroke-width="5.8"/>
<path d="M400.3,1407.0V1380.0M400.3,73.4V100.4M507.7,1407.0V1394.5M507.7,73.4V85.9M615.1,1407.0V1380.0M615.1,73.4V100.4M722.6,1407.0V1394.5M722.6,73.4V85.9M830.0,1407.0V1380.0M830.0,73.4V100.4M937.4,1407.0V1394.5M937.4,73.4V85.9M1044.8,1407.0V1380.0M1044.8,73.4V100.4M1152.2,1407.0V1394.5M1152.2,73.4V85.9M1259.7,1407.0V1380.0M1259.7,73.4V100.4M1367.1,1407.0V1394.5M1367.1,73.4V85.9M1474.5,1407.0V1380.0M1474.5,73.4V100.4M1581.9,1407.0V1394.5M1581.9,73.4V85.9M1689.3,1407.0V1380.0M1689.3,73.4V100.4M1796.8,1407.0V1394.5M1796.8,73.4V85.9M1904.2,1407.0V1380.0M1904.2,73.4V100.4M2011.6,1407.0V1394.5M2011.6,73.4V85.9M314.4,1311.7H326.9M2119.0,1311.7H2106.5M314.4,1216.5H341.4M2119.0,1216.5H2092.0M314.4,1121.2H326.9M2119.0,1121.2H2106.5M314.4,1026.0H341.4M2119.0,1026.0H2092.0M314.4,930.7H326.9M2119.0,930.7H2106.5M314.4,835.4H341.4M2119.0,835.4H2092.0M314.4,740.2H326.9M2119.0,740.2H2106.5M314.4,644.9H341.4M2119.0,644.9H2092.0M314.4,549.7H326.9M2119.0,549.7H2106.5M314.4,454.4H341.4M2119.0,454.4H2092.0M314.4,359.1H326.9M2119.0,359.1H2106.5M314.4,263.9H341.4M2119.0,263.9H2092.0M314.4,168.6H326.9M2119.0,168.6H2106.5" stroke="#000" stroke-width="5.8" fill="none"/>
<g class="yl"><text transform="translate(284,1428.0) scale(1,1.04)">2.0</text><text transform="translate(284,1237.5) scale(1,1.04)">2.2</text><text transform="translate(284,1047.0) scale(1,1.04)">2.4</text><text transform="translate(284,856.4) scale(1,1.04)">2.6</text><text transform="translate(284,665.9) scale(1,1.04)">2.8</text><text transform="translate(284,475.4) scale(1,1.04)">3.0</text><text transform="translate(284,284.9) scale(1,1.04)">3.2</text><text transform="translate(284,94.4) scale(1,1.04)">3.4</text></g>
<g class="xl"><text transform="translate(400.3,1491.5) scale(1,1.04)">0</text><text transform="translate(615.1,1491.5) scale(1,1.04)">2</text><text transform="translate(830.0,1491.5) scale(1,1.04)">4</text><text transform="translate(1044.8,1491.5) scale(1,1.04)">6</text><text transform="translate(1259.7,1491.5) scale(1,1.04)">8</text><text transform="translate(1474.5,1491.5) scale(1,1.04)">10</text><text transform="translate(1689.3,1491.5) scale(1,1.04)">12</text><text transform="translate(1904.2,1491.5) scale(1,1.04)">14</text><text transform="translate(2119.0,1491.5) scale(1,1.04)">16</text></g>
<path d="M1224,180.7H1334" stroke="#000" stroke-width="7" fill="none"/><text transform="translate(1344,196.5) scale(1,1.045)" class="leg">1000 Sun: No TIM</text><path d="M1224,236.8H1334" stroke="#f00" stroke-width="7" fill="none"/><text transform="translate(1344,252.6) scale(1,1.045)" class="leg">1000 Sun: TIM without graphene</text><path d="M1224,292.9H1334" stroke="#00f" stroke-width="7" fill="none"/><text transform="translate(1344,308.7) scale(1,1.045)" class="leg">1000 Sun: TIM with 2% graphene</text><path d="M1224,349.0H1334" stroke="#f0f" stroke-width="7" fill="none"/><text transform="translate(1344,364.8) scale(1,1.045)" class="leg">1000 Sun: TIM with 4% graphene</text>
<text class="tt" transform="translate(993,1603) scale(1,1.03)">Time (Min)</text>
<text class="tt" transform="translate(107,943) rotate(-90) scale(1,1.03)">Voltage <tspan font-weight="bold" font-size="83" dx="-2">(</tspan>V<tspan font-size="57" dy="23">OC</tspan><tspan dy="-23" font-weight="bold" font-size="83">)</tspan></text>
</svg>
</body></html>
